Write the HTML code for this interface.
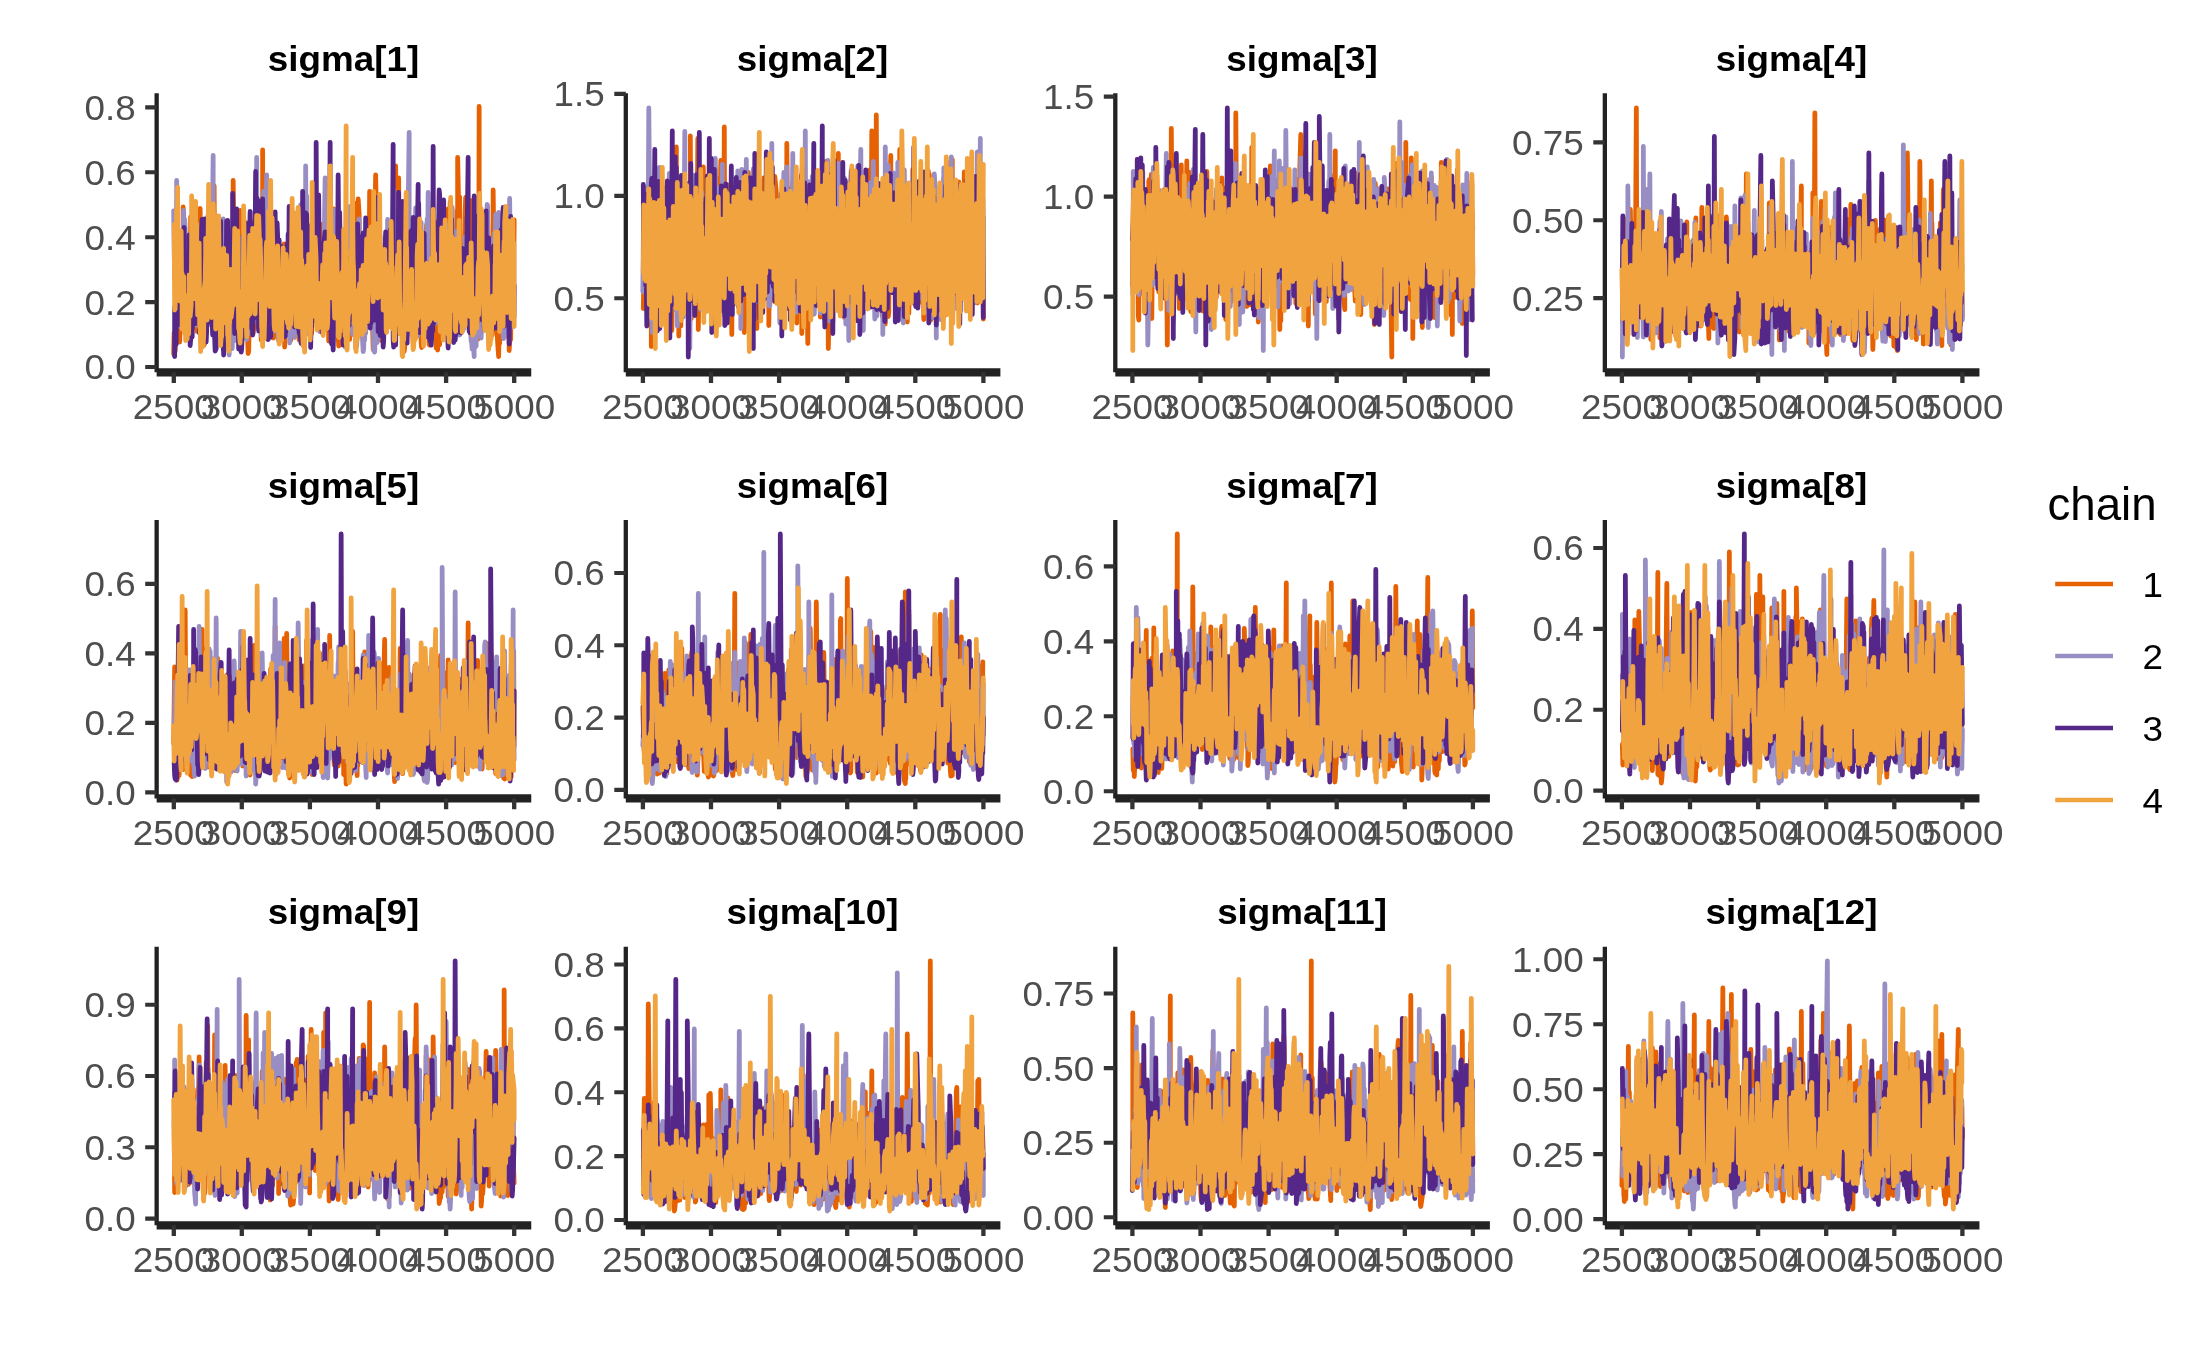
<!DOCTYPE html>
<html><head><meta charset="utf-8"><title>trace</title><style>html,body{margin:0;padding:0;background:#fff}svg{display:block;will-change:transform}</style></head><body>
<svg width="2209" height="1365" viewBox="0 0 2209 1365" font-family="'Liberation Sans',sans-serif">
<rect width="2209" height="1365" fill="#fff"/>
<g transform="translate(156.65,93.0) scale(.5)" fill="none" stroke-width="9.6" stroke-linejoin="round" stroke-linecap="round">
<path d="M34 522l1-43 2 37 1-36 1-23 1 34 0 0 2-47 1-63 1 82 0-18 1 41 1 12 2-64 1-8 1-85 1 61 0-121 2 51 0-104 1 21 2 160 0-27 1-64 2 101 1 70 0-16 2-170 0 26 1 98 1-77 1 126 1-54 2-151 0-23 1 148 1-29 2 101 0-14 2-79 0 40 2-133 0 21 2 154 1 7 0-47 2 60 1-93 1 22 1-86 1 62 1-131 1-20 1 161 1-39 1-75 0 46 2 133 2 10 0 23 1 14 1-45 1 0 1-41 1-110 1 121 0-116 1 84 2-59 0-81 2 110 1-178 0 57 2 143 0 67 2-50 1 5 1 41 0-7 2-99 0-25 1-135 1 199 2-77 0 44 1-71 1 79 2 60 1-34 1-47 1-31 1 111 1-32 1-87 0-9 2 193 1-9 0-53 2-39 0 74 1-55 1-53 2-17 0 99 1-126 1 156 2-32 0-84 1 89 2-103 1-7 1 126 0-9 1-164 1 35 1 146 2-95 1-96 1 59 0-151 2 118 1 156 1 8 1-91 1 115 1-55 1 12 0 34 1-18 2-189 1 37 0 56 2-123 1 139 1-7 1-50 1 3 0 75 1-12 1 96 1-30 1 34 1-32 1-169 1-23 1 179 1-40 1 94 1 1 1 28 1-4 2-85 1-1 1-69 0 26 1-130 1 59 2 57 0 6 1 101 2-17 1-50 0 29 2-79 0 15 1 75 1-21 1-82 2 118 1-121 1 103 1-61 0 11 1-50 1-11 1 154 3-12 0-368 0 345 2-205 0 50 2 165 1-17 1-43 1 12 0-37 1 62 2-121 0 57 2 100 0-30 2-89 1 59 1-86 1 5 1 107 1-23 0-63 1 11 1 117 1-18 2-57 0 25 1-63 2-23 1 69 0 17 1 48 2-27 0 15 2-40 1 41 0 18 2-57 1-7 0 35 1 17 2-130 0-28 1 143 2-166 1 173 0 33 2-98 1-83 0 121 1 1 1-119 1 91 0 35 2-39 1 66 2-62 1 50 0 24 1-45 2-26 1 43 0-20 1-71 1 63 2-95 0-17 1 87 1 17 2-96 0 12 1 73 1-46 2 96 1 8 0 16 1-18 2-28 0 32 1-92 2 94 0-48 1 26 2-184 0 49 2 104 1-128 0 103 1-42 0 111 2-50 1-56 2 62 1 36 0-21 2-48 1-13 1-98 0 112 1 65 1 19 2-69 1-101 1 110 1-87 0 101 1 20 1-51 1 11 1-155 1 91 1 61 2 13 1-126 0 34 1 57 1 52 2-59 1-120 0 142 1-24 1-110 1 83 1 89 1-26 1 57 1-91 1-96 1 97 1-116 1 19 2 133 1 22 1-64 0 56 0 62 2-129 1 78 1-89 1 76 1-3 1-96 1-21 1 66 1-146 1 165 1-136 1 105 2 61 1-129 0 118 2-118 0-22 0 185 2 45 1-56 1 20 2 27 0 7 1-30 1 21 2-55 1-41 0 62 1-53 2 50 0-29 1 56 1-12 1-92 1 3 1 46 1-46 1 89 2-40 1 43 0 17 1-56 1 43 1-89 1-125 1 127 1-51 0 66 2-87 1 125 2-225 1 156 0 37 1 41 2 13 0-117 1-45 1-94 2 31 0 134 1-9 1 85 1-14 0-120 2 107 1-89 1 128 1-100 1-17 1 47 1-75 0 58 2-81 1 102 1-63 0 102 2-11 1-112 1 61 1-46 1-133 1 121 1 89 1-135 1-27 1 213 1 17 1 38 1-25 1-192 1 94 1-157 1-69 2 105 0 4 1 169 1-73 1 87 1 1 2-46 0-59 1 106 1-55 1 92 2-52 1 47 1 9 0-35 1-2 1-116 1 78 0 55 2-69 1-58 1-64 1 130 1-38 1 72 2-107 0 99 1-150 1 96 1-59 0 81 2-93 1 122 1 5 1-83 1 27 0 71 2-108 1-109 1-98 1 188 2-89 0 64 1 33 1-122 1-50 1 202 1-58 1 124 1-80 0-64 2 26 0-84 2 45 1 174 1 4 1 58 1-8 0-21 2 10 0-38 2-6 1 23 1-26 1 27 1-8 1-89 1 29 1 40 1 18 1-125 1 6 1 94 1-132 1 141 1-3 0-83 2 88 1-125 1 78 1-59 1 31 1-122 1 56 1-61 1 71 1 130 1-25 0 51 2-29 1 50 1 9 1-25 1 6 1-61 1 5 1 33 1 14 1-102 1 16 1-114 1-18 1 156 1-52 1 116 1-12 1 32 1 1 1-64 1 17 1-32 1-26 1-55 0 51 2-88 1 44 0 115 2-173 0 82 2 68 1 67 1-20 0 16 2 8 1-65 1-2 1 57 1-1 0-29 2 2 1-112 1 54 1-121 1 140 0-160 2 89 1 72 2 17 0-70 1-85 1 75 1-37 1 54 2-160 0 102 1 57 1-48 1 7 1-132 1 206 1-92 1 95 0-51 2-1 1-64 1 49 1 124 1 4 1-161 1-8 1 116 2-52 0-148 1 23 0-129 2 97 0 112 2-130 1 186 1 37 1-62 1 8 0 44 2 42 1-119 1 28 1-52 1 8 1-91 1-28 1 119 1-69 1 100 0-20 1-97 2 54 1 140 1-16 0-125 1-80 1 84 1-83 1 149 2-109 0 153 1-170 2 119 2-81 0 111 1-83 1 100 1-64 1 97 0-13 2 67 1-12 1-453 0 280 2 140 0-68 1 101 2-15 1-162 1-56 0 123 2 50 1-110 1 35 1-59 1-34 0 68 2-31 1 123 1-154 1 80 1-43 1 98 1 54 1-153 1 24 1 97 1 42 1 27 1-50 1-240 1 80 1 148 0 3 2-108 1 61 0-71 2 67 1 108 0 0 2 32 1 13 1-58 1 32 1-47 1 31 1-29 0-20 1-127 2 62 0-66 2 40 1-70 1 0 1 164 2-18 0 29 1 22 0-37 1 10 2 42 0-37 2 49 0 16 2-30 1 8 1-77 1-61 1 74 0 7 2-166 1 134 1-150" stroke="#e66101"/>
<path d="M34 236l2 134 0-15 1-38 2 45 1-154 0-33 2 140 0 14 1 138 2-12 1-110 1 12 1-63 1 139 1-89 1 44 1 68 0-11 2-210 1 78 1-60 1 19 1 60 0-36 0 103 2-6 1 64 1-12 1-66 1 83 1-100 1 116 1-21 2-73 1 97 0 6 2-118 0 4 1 70 2-15 1-99 0 113 2-104 0 34 1 92 2-105 1 73 1-90 1 107 1 18 1-105 0 80 1-62 2-8 0 129 2-25 1-27 0 20 2-117 0 29 0-63 3 139 0-28 1 43 2-117 0-51 2 158 1-60 1 56 1-119 1 94 0 30 2-108 1-114 1 74 0 110 1-122 2-178 0 315 2-29 0 71 1-70 2 61 0-32 2 27 1-34 0 45 1-2 2-34 0-12 2 41 1 21 1-21 2-45 0 46 1 17 1-70 1-168 1 134 0 48 2-156 1 50 1 96 1-97 1 117 1 38 1-15 0-13 2 45 1 25 1-53 1-21 0 40 1-85 2 90 1 16 1-27 1 8 1-116 1 21 1-98 0 86 1 110 3-32 0 26 0 4 1-62 2 29 1-92 0 83 1-111 1-27 2 124 0 26 2-90 1-83 0 90 1 50 2-80 1 2 1 106 0-7 2-127 1 97 1 72 0-1 2-115 0-1 2 81 0 24 1-64 1 54 2-73 0-12 1 84 2 0 1-73 1 34 0-72 2-19 1 117 0-21 2-82 0-15 2-101 0-109 1 191 2 110 0-101 1 100 1 36 1 1 1-26 1-2 1 47 1-58 2-54 1 49 1-207 0-18 2 147 0 41 2-144 1 13 1-90 0 50 2 95 0-58 1 75 1 21 1-146 2 55 1 171 1-5 1-81 0 12 1 123 1-19 1-114 1 15 2 90 0-35 0 63 2-14 1-115 1 59 1-108 1 130 1 66 1-54 1-90 1 2 1 128 1-3 2-61 0-101 2 111 0-9 1 71 1 0 2-95 0-62 1 112 2-18 0-98 1 27 1 114 1 15 2-40 1-22 1 60 0 19 2-59 0-33 2-98 0-19 2 164 0-8 1 35 3-25 0 32 0-4 2-90 0-8 1-103 1 188 2-108 1-51 1 141 1 1 1-90 0 47 2-188 0 30 2 56 0 7 1-96 1 125 2 129 0 0 1-93 1-4 2-91 0-141 1 163 1-103 1 165 1-20 1 131 1-57 1-137 1 48 2 126 0 3 2-68 0 21 2-121 0 93 1-122 1 18 1 87 1 7 1-191 2 218 0 33 1-2 1-99 2-52 0 138 1-7 1 51 1 8 1-38 1 6 1-114 1 126 2-120 0-34 2 69 0 41 2-181 1-62 1 158 0 29 1 82 1-75 2-101 0-77 2 117 1 53 0 44 1-24 1 74 1-1 2-82 0 9 2-113 0 183 1-165 2 112 1-159 0 40 1 96 1-41 1 129 2-214 0 102 2-75 1 104 0 35 2-121 0 75 1 107 1-49 0-91 2 51 1 92 2-95 0 77 1-92 1 104 1 12 1 28 1-27 2-49 0-21 2-73 1-31 0 54 1 5 1-127 2-12 1 95 0 48 1-83 1 147 2 49 0-10 1-108 1 52 1 60 2-3 1 20 0 16 1-36 1 33 1-28 1-19 2-153 0 51 1-106 1 186 0-78 2-21 1 107 1-62 1 94 1 19 1 20 1-5 1-40 1 22 0-24 2 11 1-93 1 42 1-88 1 5 1 64 2 37 0-91 1 39 1-79 1 55 1 99 1-12 1-79 1 40 2 71 0 2 0 20 2 5 1-29 1-7 1 18 1-12 1 11 1-40 1 31 1-14 2-131 1-59 0 167 1-38 1-97 1 134 1-90 1 48 1-102 1 59 1 74 2-37 1-71 0 10 1 72 1-24 1-68 1-70 1 149 1-103 1 95 1 23 1-115 1 51 1 94 1-75 1 86 1-73 1-115 1-76 1 113 1-1 1 154 2-22 0 45 1-1 1-77 2-30 0 76 1-162 1 167 2-76 0 79 1-6 0-40 2-33 1 88 1-3 1-68 1 28 1-86 1 13 1 104 1-4 1-104 1 87 1-47 1 33 0-106 3-236 0 382 1-71 1 70 1-81 1 95 1 10 1-92 2 26 0-70 1 1 1 22 1 23 1-88 1-76 1 106 2 8 0 96 1 46 1-149 1-1 0-109 3 150 0-88 1 109 1-139 1 89 1 103 1 30 1-62 1 47 1-82 1-104 1 107 1 40 1-135 1 91 1-131 1 76 1-129 1 49 1 99 1-98 1 133 1-51 1 47 1-20 1 110 1-1 1-71 1 30 1-95 1 11 0 111 2 7 1-72 1 66 1-36 1 29 1-125 1 37 1-64 1 24 1 118 1-45 1 44 0-3 2-158 1 27 1 103 1-150 1 142 1-79 1 125 1-44 1-115 1 38 0-58 1 51 2 54 1-1 0-46 2 142 1-141 1-65 1 133 1-3 1-159 1 47 0 100 2 69 1-155 1-9 0 40 2-10 1 96 1-130 1 178 1-14 0-87 2 26 1 86 1 18 1-39 1 32 1-49 1-3 1 26 1 25 1-65 1-15 0 76 2-52 1-132 1 24 1 125 1-59 0 56 2 28 1-60 0-21 2 78 1-58 1 51 2 45 0-14 2 29 0-19 1-12 1 10 2 36 0-28 1-3 1 12 2-2 0-23 0-5 2-99 0-65 2 157 1-214 1 202 0 19 2-112 0 66 2 58 2-75 0 36 1 20 1-103 1 62 0 32 2-76 1-130 0 54 1 156 2-65 1-178 1 3 0 102 2 44 1-72 0 116 2-118 1-4 1 147 1 5 1-128 1 72 0-65 2 12 1-56 1 74 1-55 1-57 1 209 1-19 0-79 1 72 1-94 2-93 1 101 1-84 0 96 2 38 1-87 0 106 2-141 1 103 1 98 0 10 1 12 2-4 1-17 1 13 1-134 0-33 2 111 2-61 0 92 0-15 2-135 0 41 1-138 1 106 2 153 0-24 1-140 2 2 1 68 1-76 1 147" stroke="#998ec3"/>
<path d="M36 428l0 99 0-5 1-31 2 12 1-129 0-14 2 82 1-75 1 67 0-116 1 145 1-121 2 113 1 5 0-51 2 49 1-115 0 87 2-135 1-26 0 104 1-53 1 132 1-108 2 105 1-15 1 41 0 3 2-59 1-135 1 173 0-15 1 63 1-12 1-26 2 21 1-41 0 14 1-109 1 24 1 77 1-64 2 72 0-23 2-154 0 65 2 97 1 1 1-115 0-12 2 161 1-7 1-49 0-50 2-103 1-19 1 70 1-2 1 100 1-1 1-168 0 43 2 138 0 27 1 38 1-22 1-71 1-21 1-140 2 203 1-81 1-132 1 225 0-4 2-77 0 50 2 56 0-13 2-145 1-6 1 171 0-3 1 28 2-5 1-29 0 5 1-33 1 15 2-171 0-1 1 130 1-39 2-131 0 29 2 202 1-22 0 25 1 0 2 28 0 5 2-68 1 33 1-39 0 13 2-207 1 133 1-134 0 104 1 130 1-4 1-105 1-43 2 78 1-5 0-71 2-2 1-71 0-65 1 183 1-58 2 155 1-47 0 40 1-53 2-189 0 172 1 75 1-93 2 126 0-7 1-28 1 10 1 20 1-23 1 34 1-6 2-54 0-56 1-117 1 24 2 167 0 7 1-109 2-45 0 128 2-100 1-75 0-21 1 116 2 74 1-175 1-39 1 150 1-22 1 106 1-49 1 62 0 0 2-66 1 32 0-187 1 137 2-243 0 51 1 128 2-125 0 126 1-24 2 163 0-4 2-58 0 10 1-206 2-2 0 135 2 78 1-143 0-74 1 135 1-45 1 120 1-79 0 93 2 4 1 48 1-121 2 111 1 15 1-38 1 10 1-15 0-4 2 42 0-18 1-114 2-57 0 129 1 0 2-83 1 67 1-53 0 12 1-133 1 126 2-102 1 85 0-87 2 57 1 62 0-21 1-64 1 54 1 78 1-41 1-78 1 23 2 50 0-27 1 70 1-50 1 108 2 6 1-26 0 18 2-122 1-55 0 133 1-73 1-80 1 78 1-133 1 82 2 95 0 54 1-60 2-77 1 68 1-16 1 77 1-154 1 172 1-16 1-167 0 74 1 73 1 10 2-97 0-17 1 143 1-30 1 39 1-8 2 20 1 9 1-34 0 2 2-127 0-145 2 234 0-8 1-107 1 140 2-189 0-27 2 78 0-75 1 96 2-74 1 149 1-41 0 54 1 12 2 54 0 16 1-52 1 10 1-44 1 34 1-196 1 115 0-144 2 34 2 95 1 11 0-273 1 227 2 146 0-10 2-161 0-97 1 118 1 84 2-96 0-8 1 169 1-47 1 55 1-25 1-112 2 123 0-171 2-16 0 112 1-55 1 125 1-30 1-139 1-2 2 103 0-5 1 74 2-362 0 375 1-59 1 83 1 4 1-51 2 63 1-46 0 4 1-111 1 77 1-92 1 5 1 91 1 19 1-150 1 3 1-150 2 224 0-81 1-68 2 143 0 84 2-114 0-44 2 158 1-7 0 45 1-15 2-82 1-115 0 135 2-11 1-87 0 6 1 90 1-6 1-82 2 128 0-48 1-3 2-52 0-24 1 50 1 51 2-135 0-37 0 53 2 15 0 120 2-5 1-186 1 112 1-73 1 128 1-108 1-61 1 114 1-70 1 125 2-2 0-64 1-77 0 110 2-46 1 77 1-41 1-108 1 131 0-72 2 12 0 99 2-200 1 172 1 37 1-36 1 4 1-102 2 67 0-66 1 62 1 82 1-56 1 46 2-13 0-78 1 20 1-75 1-18 1 158 1-23 1-117 1-81 1 125 2-149 0 247 2-84 0 105 1 1 1-46 1 0 1 53 1-27 1-102 1 27 0 91 2-35 1 69 1-13 1-60 1 3 0-94 2-66 1 94 2-87 0 114 1 41 2-88 1 32 0-104 1 97 1-103 1 52 1 141 2-6 0-69 2-289 0 389 1 16 1-21 2-44 0 39 1 22 1-77 2 42 0-71 1 33 1-112 1-120 1 139 2 74 0-90 1 88 1-94 1 81 1-104 1-76 1 199 2-42 0-56 1 35 1 115 1-1 1 18 2 15 0-63 1-3 1-53 1-2 1-58 1 62 1-88 1-18 1 116 1-118 1 61 1 36 1-123 1 20 1 190 2-96 0 70 1 21 1-149 2 122 0-122 2-122 0 197 1-160 1 259 1-12 1-145 1 14 0 74 3 52 0-76 1-77 1 82 1-22 1-88 1 113 1 71 1-8 0-24 3-87 0 107 1 35 0-40 2 9 1 34 2-29 0 34 1-20 1 28 1-15 0-28 2 15 1-369 1 354 1-75 1 16 1 42 0-9 2-81 1-13 0 97 2-8 1-173 0 71 2-134 1 9 1 138 1 27 0-88 1 35 2 77 1-54 0 44 2-168 1 127 1 29 1 78 1-65 0-75 2-25 1 182 2 45 0-71 1 6 0 55 2-27 0-79 1 72 2-122 1-91 1 174 1 3 1 26 1 43 1-45 1-41 1 81 1-12 1-18 2-62 0 74 1-26 1 28 1-13 1-86 1-67 1 135 1-43 1 76 1-10 1-132 1-27 1 150 1-29 1-110 1 9 1 120 0-62 2-57 1 39 1-123 0 31 2-150 0 170 2 178 2-18 0 21 0-1 2-139 0-8 1 65 2-35 1 86 1-21 1-221 0 48 1 113 2-67 1 58 0-33 2 134 2-36 0-119 1-59 1 100 0-54 1 78 1-123 1 148 2-52 1 112 0-26 2-140 0 39 2 139 1 8 1-107 1 8 1-139 0 41 2 158 1-1 1-85 0 56 1-115 1 73 1 97 2 9 1-150 0 0 2 156 1-148 1 120 1-141 1 130 0-72 2 82 1-96 1 120 1-21 1-125 1 41 0-61 3 32 0 106 1-1 0-85 2-81 1 106 1 7 1-107 2-52 0 179 1-60 1 98 0 20 2-145 1 60 1 66 0-37 1-129 1 96 1 74 1-48 2 91 0 8 2-151 1-104 0 213 1-84 2 51 0-86 1 118 2 5 1-79" stroke="#542788"/>
<path d="M35 263l1 171 1-2 1-90 1-39 1-69 1 116 1-161 0 52 1 101 2-47 1 116 0 5 2-121 1-19 1 131 1-46 0 111 1-17 2-88 0 59 2 55 1-76 1 90 0-4 1-16 2 17 0-44 2-20 1 37 0 17 1-118 1 0 1 83 2-22 1-124 0-95 2 138 1-52 0 71 2 48 1-139 2-55 0 66 1 78 1-99 0 32 2 150 0-30 1-107 2-7 1 169 1-16 1 61 0 3 1-21 2 0 0 13 2-3 1-22 0 2 1-93 2-18 1-53 0-31 2 145 1 18 1-30 0-34 2-207 1 154 1 105 1-144 1 81 1-4 0 67 1 7 2-167 1 109 0-169 2 63 1 156 1-89 1 85 0 35 2-94 0-26 1-83 2 1 0 109 1-133 2 181 0-8 2 86 0-2 2-30 0 15 2-125 1 50 1-102 0 26 2 122 1 0 1-55 1 42 1-118 0-3 2 160 0-17 2 48 0-11 1-64 1 19 2-97 0-10 1 96 3-27 0-63 0 19 1 42 1 5 2-154 1 39 1 58 0 49 2-84 0 82 2-75 0-64 2 196 1-9 1 27 1 10 0-24 1 14 2-92 0 17 1 51 2-27 1-178 0-35 2 154 0 46 1 36 2-37 1 62 0-5 2-96 0 5 1 56 1-4 2-158 0 17 1 140 1-54 1-86 2 13 0 63 1-107 2 147 0 13 1-101 1 15 1 97 1-62 2-135 1 12 0 57 1-24 2 123 0-67 0-100 3 95 0-48 1 39 2 138 0-7 2 44 0-18 1-22 2 25 1-40 0-6 1-64 1 15 1-87 1-12 1 95 2-41 1-76 0-39 2 167 0 23 1-190 1-62 1 144 1 23 1-92 2 88 1 85 0 0 1 42 1 9 1-26 1 11 1-58 1 34 2-129 0 32 2 126 0-3 1 41 1-24 1-25 2-2 1 41 0 3 2-159 1-26 1 124 0-76 1 91 1-56 1-61 1 103 1-112 2 28 0 102 1 8 1-46 1 55 2-33 1 23 0-30 1 33 2-163 1-89 1 138 0 27 2-137 0 21 1 119 1-17 1 60 2 45 1-150 0 67 1-117 1 69 1-107 1 35 1 204 1-37 2-141 0-12 1 121 1-65 2 98 0 48 1 26 1-25 2 37 0-16 2-76 1 22 1-102 0 28 1 66 2-4 1-64 0-49 1 148 2-3 0 26 1-27 2-126 0 40 1-202 1 204 1-38 1 6 2 96 0-40 1-118 2 45 1 131 1 9 1-34 0 27 1-76 1-10 1 83 1 5 1-34 1 19 1-56 1 53 0-40 2-67 1 141 1-64 1 54 1-154 1 100 1-121 2 108 0-51 1 114 1-10 2-150 0 72 2-213 0 97 1-121 1 90 2 94 0-31 1 111 1-69 0-56 2 3 1 130 1 32 1-86 1-43 1 102 1-126 1 60 1 16 1 113 2 3 1-20 1 8 1-108 1 1 1 96 0-12 1-95 1 101 2-132 0-55 2 81 0 4 1 128 2-420 0 434 2 14 1-45 0 9 1-31 2-11 1-82 0 16 1 67 1-50 1-72 1 20 2-206 0 103 1 104 1 18 1 107 2-66 1 113 1 9 0-37 2-30 0 44 1-6 2-84 0 49 1-61 1-11 1 85 1-1 1-111 1 70 1 59 1-35 1-103 1 33 2 95 0 2 0-40 2 14 1-98 1-59 0 131 2 34 1-148 2-35 0 101 1-5 1-63 2 48 0-87 1 17 1 100 2 32 1-119 0-101 1 139 1-76 1 143 1-8 1-104 1-29 1 120 1 28 1-114 1 99 2-106 0-86 1 141 1-37 1 66 1 35 2-88 0 15 1 99 1-57 1-39 1-25 1 97 1-69 1 132 1 6 1-40 1 23 1-113 1 119 1-40 1 16 0-70 2 16 1-133 2 161 0-71 1 67 0 58 2-17 1 40 1-1 1-38 1 8 1-60 1 32 1-73 1-39 1 104 1-46 1-84 1 114 1 70 1-16 1-31 1 16 1 73 1 3 1-48 1 16 1-22 1-8 1-89 2-177 0 167 1-57 1 152 1-24 1 36 1-54 0 46 2 3 1-72 1 13 0 31 2-87 1 122 2 38 0-28 1 25 1-37 1 22 1-57 1 53 1-71 1 47 1-142 1-22 1 148 1-70 1-66 1-63 1 115 1-76 0 119 2-132 1 165 1 5 0-26 2 84 1-32 2-48 0 45 1-41 1-79 1-10 0 111 2-46 1 56 1-37 0-47 2-21 0 100 2-55 1-71 1 120 1-79 1 0 1-139 1 90 0 88 2 5 0-95 2 133 1-65 1 55 0-46 2-27 1 70 0 9 2-107 1 43 1 91 2-13 0-43 0-38 1-113 2 85 1 139 1-31 1-94 2 74 0-189 1 97 1-74 1 57 1 102 0-63 2 110 1-11 1 26 1-10 1-136 1-143 1 130 1-52 0 91 2-70 1 108 1 19 1-142 1 24 1 156 1 4 1-40 0-15 2-130 1 117 1-99 1 53 1-108 0 26 2 170 1-21 1 29 2-12 0 31 1-3 1-66 1 31 1-72 1 37 1 60 0-31 1-89 2 69 0-72 1 23 2 67 0-15 1-88 2 20 0 98 2-24 1-88 0-35 2 171 1 13 1-25 1 0 0 19 1 1 1-38 2-30 1 47 1-22 0 34 1-13 2-109 1-11 0 107 1-97 1-146 1 112 2-82 2 13 0 115 0 43 1-87 1 78 2 62 1 19 1-88 0 33 2-93 1 84 0-90 2 26 1 132 1 35 1-39 0 13 2 17 1-24 1 12 0-2 1-22 1-22 1-40 2 54 1-36 1 29 1-111 0 46 1-109 2 57 0 65 2-123 1 114 1 60 1-110 1 135 1-44 0-5 1-103 1 0 2 127 2 14 0-33 0-64 2-73 1 72 0-109 2-32 1 83 0 1 2 128 2-66 0-111 1-6 0 77 2-16 1 70 0-20 2 77 0 7 2-152 1-46 1 122 1-74 1 166" stroke="#f1a340"/>
</g>
<path d="M156.65 93.2V372.3" stroke="#222222" stroke-width="4.3" fill="none"/>
<path d="M156.65 372.3H531.25" stroke="#222222" stroke-width="8.2" fill="none"/>
<path d="M173.8 372.3v10.8M241.8 372.3v10.8M309.9 372.3v10.8M378.0 372.3v10.8M446.1 372.3v10.8M514.2 372.3v10.8" stroke="#333333" stroke-width="4.3" fill="none"/>
<path d="M145.2 367.0h11.5M145.2 302.1h11.5M145.2 237.2h11.5M145.2 172.3h11.5M145.2 107.4h11.5" stroke="#333333" stroke-width="4.1" fill="none"/>
<text transform="translate(135.7,379.4) scale(1.035,1)" text-anchor="end" font-size="35.6" fill="#4d4d4d">0.0</text>
<text transform="translate(135.7,314.5) scale(1.035,1)" text-anchor="end" font-size="35.6" fill="#4d4d4d">0.2</text>
<text transform="translate(135.7,249.6) scale(1.035,1)" text-anchor="end" font-size="35.6" fill="#4d4d4d">0.4</text>
<text transform="translate(135.7,184.7) scale(1.035,1)" text-anchor="end" font-size="35.6" fill="#4d4d4d">0.6</text>
<text transform="translate(135.7,119.8) scale(1.035,1)" text-anchor="end" font-size="35.6" fill="#4d4d4d">0.8</text>
<text transform="translate(173.8,419.1) scale(1.035,1)" text-anchor="middle" font-size="35.6" fill="#4d4d4d">2500</text>
<text transform="translate(241.8,419.1) scale(1.035,1)" text-anchor="middle" font-size="35.6" fill="#4d4d4d">3000</text>
<text transform="translate(309.9,419.1) scale(1.035,1)" text-anchor="middle" font-size="35.6" fill="#4d4d4d">3500</text>
<text transform="translate(378.0,419.1) scale(1.035,1)" text-anchor="middle" font-size="35.6" fill="#4d4d4d">4000</text>
<text transform="translate(446.1,419.1) scale(1.035,1)" text-anchor="middle" font-size="35.6" fill="#4d4d4d">4500</text>
<text transform="translate(514.2,419.1) scale(1.035,1)" text-anchor="middle" font-size="35.6" fill="#4d4d4d">5000</text>
<text transform="translate(343.5,71.0) scale(1.035,1)" text-anchor="middle" font-size="35.6" fill="#000" font-weight="bold">sigma[1]</text>
<g transform="translate(625.8,93.0) scale(.5)" fill="none" stroke-width="9.6" stroke-linejoin="round" stroke-linecap="round">
<path d="M35 431l1-54 1-101 1 97 1 4 0-110 2 90 0-149 2 198 1-111 1-9 0 98 1-204 2 202 0-102 1 158 2-134 0 203 2-177 1 99 1-231 1 161 1-174 1 217 0-17 2-221 1 49 0 210 2-186 1 196 1-163 0 91 2-150 0 191 2-122 0 113 2-147 1 153 1 9 1-149 1 101 1-98 0 100 2-160 0 39 1 178 1 16 1-188 2 156 1-136 0-41 1 153 1-10 2-127 0 14 2 145 0-195 2 191 0 78 2-131 0-83 2 127 0-160 1 203 1-216 1 122 2-229 1 190 1-121 0 107 1-85 2 219 0 68 2-225 1-46 1 251 1-174 0 103 1-25 1-150 2-30 1 188 0-50 0 96 4-184 0 160 1-13 1-89 0-82 1 118 2-74 1 124 1-113 0 98 2 39 0-322 2 365 0-280 1 192 2-168 0 54 2 72 0-85 1 171 2-205 0 214 1-235 2 225 1 5 0-191 1-129 1 382 1-79 1-128 1-32 2 166 1-33 1-116 0 105 2-110 1-98 1 259 0-39 1-114 2-39 1 213 1-55 1-119 0 133 1-141 2 126 1-104 0-44 1 183 2-136 0 143 1-117 0 117 2-81 2-164 0 4 2 146 1-98 0 177 2-248 1 197 1-4 0-153 2 223 1-219 0-22 1 220 2-20 1-122 1 121 0-172 1-64 2 240 1-126 1 186 0-13 2-157 1-197 1 344 0 12 2-153 0 139 1-80 2 92 1-152 0 3 1 148 1-95 1-142 1 175 1 58 1-63 1-107 1 236 1-183 2-89 0 169 1-84 1 117 1-151 1 119 1-127 1 130 1-7 1-108 1-43 1 101 1-85 1 197 1-178 2 77 1 58 1-106 1-98 1 90 0 86 1-136 1 54 1 193 2-117 1-102 1 143 0-157 1 98 2-113 1-72 1 246 0-170 2 140 0-123 1 176 1-194 1 155 1 36 1-183 1 88 2-106 1-35 1 173 1-37 0-149 1 217 1-131 1 209 2-204 1 98 0-53 1 131 1-131 1 59 2-89 1 145 1-200 1 33 0 130 2-60 1-160 0 71 1 147 1-176 1 148 1-188 1 233 1-84 1-176 1 153 1-122 1 67 0 222 3-193 0 111 1-70 2 45 0-43 1 41 1-115 1 133 2-104 0 147 1-46 0-204 3 31 1 194 1-157 0 148 2-8 1-158 0 22 1 124 2 6 1-124 1 189 1-232 1 1 1 157 0-25 1-131 1 137 1-90 2 153 0-147 2 107 1-236 0-27 2 209 0-43 1 143 2-27 0-174 2-17 0 187 2 20 1-151 0 110 1-157 1-22 1 236 2-72 0-83 1 166 2-192 0 3 2 223 0-27 1-223 1 40 1 116 1-111 1 157 1-217 1 139 2-169 1 272 0 44 1-363 1 276 1-108 2-73 1 150 1 12 0-93 2 37 0-79 1 91 1 107 1 63 2-223 1 7 0 136 1-36 1-189 1 186 1-90 1 152 1-136 1-113 2 221 0-191 1 129 1-76 1 123 1-161 1 151 2-210 0 236 2-52 0-58 1 4 1-99 2 90 0 146 1-85 1-100 2 0 0 123 2-103 0 129 1 38 1-155 1 157 1-284 1-31 1 331 1-209 1 144 1-124 1 232 1-47 1-161 1-98 2 219 1 21 0-192 2-104 0 264 1 44 1-269 1 109 1-97 2 10 0 121 1 92 2-165 0-38 0 162 2-65 1-196 1 245 2-214 0 9 1 170 2 14 0-80 2 102 1-119 1 70 0-86 1 54 1 163 1-7 1-253 1 7 1 127 1 24 1-101 1 184 1-130 1-60 1 207 1-27 1-118 1-60 2 169 0 56 1-149 1 23 1-179 2 82 1 151 1-148 0 170 1-159 1 105 2 46 1-152 0 11 1 139 1-11 0-133 2 21 1 79 1 33 1-157 1 207 1-179 1 73 1-166 2 211 0-99 1-33 1 93 1-74 0 143 2-29 1-165 2 168 0-112 1 50 1-160 1-13 1 216 1-134 0 139 2-299 1 296 1-107 1 83 1-118 1 128 1-57 1 79 1-21 1-315 1 233 1 82 1 11 1-114 2 133 0-154 1 56 1 114 1 26 1-200 2-48 0 263 1-221 0 158 2 60 1-209 1 2 1 226 1-149 1 83 1-2 1-158 1 78 1 133 1-9 1-141 1 32 1-174 1-30 0 216 2-180 1 118 1-42 1 155 1-72 1-122 1 170 1-103 1-83 1 217 1 31 1-159 1-61 1 147 2 39 0-140 1-143 1 173 1 90 1-245 0 114 2 153 1 34 1-186 1 194 0-212 1 5 1 135 2-157 1 113 1-27 1 161 0-57 2-152 1 54 0 138 2-89 1-145 1 58 1 96 1-122 1 99 1 0 0-185 1 171 2 66 1-211 1 220 1 5 0-166 1 110 2-111 1 89 0-39 2-42 1 174 1-167 0 147 3-203 0 133 1-110 1 155 1-155 1 169 1 65 1-202 2 176 0-79 1 13 1-154 1 23 1 182 1-61 1-195 1 222 1-215 1 75 1 171 1 45 1-239 2 17 0 218 1-264 1 211 1-3 1-114 1-17 1 159 1-73 1-113 1 203 1-239 1 182 1-160 1 154 1-184 0 136 1-140 2 32 0 216 2-82 1-136 0 138 2-35 1-151 1 205 1-128 0 198 1-80 1-134 2 184 0-186 2 160 1-114 1-53 1 142 1-225 1 236 1 54 0-203 3-93 0 232 0 8 2-144 1 77 1-81 1-43 1 180 0-74 1 126 2-54 1-118 1-28 0 90 2 33 0-159 2 60 1 126 2-8 0-85 0 82 1-160 2 81 1 130 0-81 2-165 1 45 1 170 1 7 1-85 1-74 1 111 1-186 1 241 1 39 1-127 1-51 0 116 2-108 0 130 2-156 1 118 0-81 2 154 2-176 0 135 1 38 1-199 0 143 1-135 2-1 1 194 0-88 1-77 1 17 1 101 2-146 1 132 0-116 2 147 1-11 0-84 2 16 1 141" stroke="#e66101"/>
<path d="M34 397l2-184 0-24 2 208 1-160 0 121 1-157 1 206 2-215 1 245 0-34 2-373 2 247 0 166 0-69 1-145 2 226 1-167 1 191 1-185 1-65 0 105 2-49 1 79 2 10 0-81 1 157 0-189 2 182 1-161 0 106 1-121 1 73 1-191 2 103 0 144 1-37 1-196 2 74 1 179 0-26 1-110 2 69 1-102 1-21 1 152 1-134 1 112 0 11 1-108 2 16 1 146 0-119 1-141 2 5 1 235 1-187 1 106 0 4 2 69 1-68 1 95 1-12 1-168 0-45 2 232 0 7 1-135 1 36 1 131 1-103 2-158 0 88 2 137 0 14 2-233 0 149 0 89 2-32 1-157 2 188 1-128 0 38 2-281 0 332 2-168 0-20 2 126 0 80 2-198 0 172 2-178 1 168 0 82 1 38 2-216 0-80 2 171 2-39 0-93 1-55 1 150 0-184 0 121 4-83 0 115 1 58 1-191 2 183 0-133 1 53 1-80 0-2 2 199 1-50 1 78 0-14 2-135 0-85 1 125 1 100 1-120 2 75 1-79 1-88 1 116 1-43 1 121 0-5 1-186 1-24 1 182 2-106 0 124 1-176 2 158 0 44 2-140 0-52 1 155 1-216 2 218 0 15 1-144 2-122 1 283 0-25 1-106 1-41 2 133 0 24 1-209 1 18 1 159 2-36 1-104 1-25 1 118 1-177 1 239 1-118 0 112 2-137 0 206 1-56 2-175 0 16 1 153 1-19 2-157 0 46 1 106 1-54 1-70 2-20 0 161 2-59 1-112 1 158 1-116 0 51 1 126 1-36 2-131 0 5 1 132 1-32 2-131 1 74 1-124 0-25 2 216 0 56 2-177 1 77 1-94 0 237 2-318 0 34 2 154 1-96 0 95 2 5 0-86 2 30 0 79 1-20 1-215 1 211 1-149 2-3 1 113 1-48 0 83 1-26 2 154 1-229 0 145 2-114 0 132 1-41 1-209 2 97 1 94 1-92 0 64 1-115 2 182 1 35 1-262 1 109 1 103 1-10 1-76 0 96 1-160 2 84 0 97 1-36 1-83 2 133 1-114 0-89 1 203 2-24 0-107 2-33 1 158 0-61 2-80 1 0 1 125 0-89 1 125 1 0 1-147 1 126 2-304 0 227 2-140 0 136 1 74 1-102 2 105 0-56 0-113 3-5 0 125 1-63 1 103 2-138 1 115 0 22 1-101 1 170 1-132 1 53 1-103 2-100 0 180 1 17 2-216 0 257 1-245 1 192 1-170 1 187 2-232 0 195 1-136 2 3 0 136 1-100 1 144 1-84 1 81 1-115 1 112 1-40 2-223 0 250 2-140 1 118 0-99 1 139 1-98 1 148 1-197 1 172 1-123 1 11 2 61 1-4 0-103 1-44 1 136 2-144 1 176 0-31 1-128 2 18 1 127 0-91 1 117 2-316 1 243 1-55 0 98 1 7 2-192 0 45 1 114 1-73 0 113 2-4 1-68 2 116 1-145 0 66 1-174 1 163 1-103 1 66 1 149 1-52 1-152 1 88 0-117 2 148 1-159 1 215 1-155 1 133 1-163 1 118 1 94 1-14 1-161 2 110 0-124 2 149 0-147 1 126 1-193 1 30 1 228 1-92 1-123 1 113 2-207 1 219 0-73 1-49 1 192 1-65 0 97 2-235 1 147 1-86 1 89 1 33 2-149 0 151 1-66 1 23 1-184 1 76 1 109 2-177 0 131 2-177 0 220 1 54 2-214 0 54 1 122 1 37 1-179 1-44 1 220 1-207 1 162 1 62 1-258 1 12 1 213 1 67 1-246 1 144 1-140 1-37 2 312 0-25 1-166 1-11 1 136 1 13 1-205 1-67 1 226 1-41 1 85 1-126 1 136 2-226 0 91 1-115 1 183 2-202 1 154 0-189 1 175 1 53 1-139 1 173 1-234 1-61 1 220 1-33 1 113 1-112 1 174 1-93 1-195 1 211 1-200 1 172 1-184 1 24 1 202 1-52 0-99 3 75 0-147 1 89 1-98 1 176 1-159 1-5 1 172 1-63 1-164 1 89 1 162 1 64 1-109 1-120 1 147 1 76 1-190 1-32 1 117 1 0 1-104 1 29 1 90 1 12 1-90 1 147 1-129 1 7 0 180 2-310 1 219 1 8 1-292 1 131 1 171 1-97 1-96 1 137 1-209 1 106 1 131 1-5 1-200 2 210 0-96 1 61 1-118 1 103 1-177 1 226 1-145 1-43 1 195 1 54 1-62 1 38 1-205 1 88 0-167 1 85 2 128 1-84 1 162 1-215 1 169 1-160 1 141 1-185 1 280 2-105 0-137 0-64 2 184 1-148 1 147 2-132 0 149 0-136 2 160 1-183 1 163 1-88 1 105 1-129 1 112 1-128 1 103 1-161 1 212 2-212 0 186 1 31 1-109 2-97 0 207 1-128 1 146 1 21 1-120 1 73 1-206 1 51 1 113 1 70 1-137 1 46 0-89 2-20 1 165 1-84 1 111 1 12 1-125 1 142 0-162 2 107 1-160 1-20 0 173 1 9 2-135 1 175 1-196 1 59 1 66 1-136 1 238 1-77 0-139 3 133 0-204 2 34 0 151 1-53 1 196 0-39 2-162 0-4 1 108 2-138 0 182 2-120 0 105 2 31 0-105 2-154 1 192 1-91 1-50 1 129 0-224 2 104 1 84 2-52 0 109 0 9 2-164 1-20 0 189 2-240 1 264 0-166 2 118 1-37 1-220 1 311 0-139 2 19 1 115 1-44 1-145 1-11 1 104 1-132 0 181 2-158 1 202 1-95 1 58 1-186 1 153 1-72 1 124 1 22 1-73 1 37 1-168 1 171 1-101 1-101 1 109 1 56 1-114 1 2 1 152 0-20 2-172 1 25 1 125 1-121 0 119 2-159 1 92 0-85 1 195 2-63 0 43 1-88 2-49 1 127 1-149 1-6 1 200 1-11 1-120 1 58 1-228 1 141 1 74 0-19 1-78 2 164 1-309 0 137 2 160 1 28 1-122 1 99 1-145" stroke="#998ec3"/>
<path d="M35 183l1 173 2-36 0-95 1-23 1 183 0-136 2 217 1-99 1-89 0-71 2 136 1-133 1 219 1-234 1 181 0-39 1-153 1-13 2 186 0 45 1-130 1 49 2-208 0 101 2 189 1-138 1 95 0-23 1 139 2-299 0 240 2-65 1 119 0-50 1-185 1 196 2-240 1 153 1-156 0 199 2-145 0 127 1-161 3-5 0 161 0-30 1-117 2-42 0 265 1-32 2-123 1 0 1 204 1-77 1-182 1 193 1-191 1-157 0 220 1 54 2-108 1 109 1-151 1-72 1 178 0 31 1-188 2 214 1-133 1 180 1-125 1-105 1 230 1-18 0-90 1 45 1-182 1 95 2 97 0-64 1 95 1-82 2-129 1 49 1 141 1 16 1-66 1 80 1-71 0-72 1 274 2-288 1 150 0-211 2 152 0-190 2 274 0-20 1-153 1 89 1-63 1 11 1 112 1 54 2-169 1 99 1-212 1 52 1 134 1-88 1 115 1-297 1 279 1-101 1 78 1-115 1 135 0 36 1-93 1 83 1-133 2 14 1 167 0-32 2-186 0 55 1 104 2-204 0 171 1-77 1 149 1-66 1-252 1 167 1 109 2-236 1 316 0 32 2-227 1 135 1-130 1 193 0-297 1 202 1-70 1-10 0 139 3-149 1 136 1-27 0-159 2 25 1 190 0-57 2-135 1-52 0 163 1 4 1-117 2 120 0 81 1-71 1-143 1 242 2-283 1 204 0-135 1-42 1 251 1-42 2-159 0-53 1 169 1-81 1 147 2-295 1 153 1 144 1-179 0-26 1 184 2-62 1-131 0-39 1 200 2 14 0-235 2 155 0-122 2 224 0-91 2-111 0 138 2-183 1 159 0 78 2-160 1-52 1 182 1-74 1-65 0 156 1-177 1-67 1 123 1-109 1 208 1-133 1 109 1-152 2 180 0-25 1-126 1 80 0-144 2 0 2 145 0-48 2 171 1 73 0-71 1 15 2-190 0-144 1 287 1-194 1 199 1-253 1 254 2-281 1 219 1-104 1 192 0 11 2-252 0 24 1 181 2-113 1 148 0-35 1-136 2 144 0-142 2 117 1-122 0 94 1-241 2 280 1-129 0-26 1 61 1-88 1 136 2-119 0 83 1 62 1-137 2-93 0 180 1-98 1 157 1-158 1 152 1-98 0 133 2-23 1-146 1 118 1-117 1 6 2 163 0-110 1 77 1-10 1-90 2-82 1 199 0 85 1-172 2 93 1-177 0-38 1 187 1 22 1-98 2-26 0 63 1-96 1 187 1-70 1-93 2-23 1 155 1-38 0 92 2-158 0 124 1-8 1-204 1 15 1 106 2-95 1 92 0 71 1-113 2 90 1-186 0 205 2-169 0 18 1 171 1-74 1-103 2 77 0 123 1-55 1-145 2-86 0 225 1-49 1 85 1-59 1-73 1-99 1 190 1-141 1 97 1-115 1 151 1-70 1 129 1-75 1-75 1-87 1 117 1-43 1 131 1 6 1-152 1 134 2-276 0 137 1 133 1-168 2 163 0-122 1 181 2-86 0-140 1 88 1 106 1-147 1 124 2-152 0 171 1-233 1 230 2-320 0 266 1 18 1-142 1 60 2 200 0-1 1-275 1 34 1 154 1-125 2 143 0 6 1-159 1 51 1 89 1-221 0 216 3-107 0 119 1 45 1-158 1 202 2-248 0 88 1-186 1 169 1 105 1-133 1 145 1-175 1 161 2-171 0 137 1-101 1 140 1 26 1-114 1-55 1 58 1 20 2-140 0-68 1 264 2-172 0 215 2-271 0 189 1-170 0 179 3-136 0 142 1 41 1-210 1 141 1-137 1 147 1-148 2-58 1 171 0-99 1 162 1-228 1 191 1-136 2 178 0-19 1-84 2-69 0 120 1-76 2 190 0-78 1-121 1 121 0-233 2 182 0 156 2-150 1-89 2 78 0-48 1-61 0 227 2-191 1 97 2-136 0 128 1 6 0-190 2 261 1-112 1-65 0 136 3-140 0 147 1-28 1 72 1 3 1-121 1-15 1 67 1-144 1 212 1-206 1 195 2-179 0 127 1 50 1-59 1 78 1-180 1-28 0 161 2-205 0 226 2-129 0 133 2-160 1 184 2-218 0 218 1-14 1-212 1 13 1 173 1 62 1-114 1 25 1-134 2 57 0 140 1-71 1-172 1 6 1 165 2-198 0 157 1-89 0 166 2 4 1-166 1 134 1-167 1 8 1 132 1-109 1 227 1-5 1-205 1-50 0 153 2-99 1 182 0 21 2-218 2 104 0-81 1 123 0-105 3 114 0-139 1 110 1-128 1 126 1 86 0-2 2-208 1 4 1 127 1 29 0-169 2-12 1 134 1-103 1 106 2-156 0 182 1-85 1 112 1-171 1 139 1-98 1 144 1-312 1 275 1-132 1 157 1 19 1-165 0-61 2 218 1 11 1-252 1 21 0 189 2-42 1-157 2-8 0 140 1-134 1 150 1 41 1-106 2 53 0-167 1 38 0 151 1 9 1-128 2-31 1 187 1-149 1 187 1-94 0 132 2-176 1 151 1-5 1-137 1-31 1 130 1 17 1-155 1-47 0 156 2-5 0-125 2 205 1-131 0 157 2-206 1-3 1 122 1-82 1 139 1-233 1 186 1-163 1 192 1-53 1-126 0 114 2-130 1 26 1 147 1-81 1 92 1-220 1 184 2-101 0 77 1 13 0-165 2 20 1 117 1-78 0 171 2-226 1 162 1-115 1 189 1-16 1-115 2-79 0 77 2-91 0 162 1-170 1 199 1-39 0-142 1-7 2 122 1-149 1 172 1 105 1-196 1 149 1-162 1 31 0 121 3-187 0 122 1 43 1-188 1 166 1-134 1 93 1-99 0 135 1-182 2 244 1-213 1-62 0 235 3-112 0 89 1 26 1-101 1-17 1 180 1-189 0 120 1-157 1 194 2-191 1 130 1-183 1 214 0 24 1-185 2 122 1-139 0 27 2 137 0-35 1-96 2 172 1-200 0-34 2 174 1-136 1 237" stroke="#542788"/>
<path d="M35 359l1-123 0-12 1 148 2-124 1 128 0-139 1 117 1-93 1 92 3-161 0 149 1 82 1-162 0-49 1 181 1-146 2 203 0-29 2-189 1 127 1-140 0 46 1 73 1-35 1 208 2-290 0 123 2 28 1-98 0-28 2 179 0-97 1-113 2 37 1 100 0-115 1 228 1-124 1-192 2 273 1-180 0-12 2 199 1-119 1 110 1 75 1-236 0 3 2 174 0-59 1-117 1 90 2-96 0 163 2-156 1-5 1 132 1-24 0-104 1 84 1-117 1 14 2 162 1-16 0-112 2 156 1-203 0 135 1-184 2 229 1-179 1-34 1 211 1-97 1 130 0-104 1 120 2-106 0-73 1-82 1 248 2-70 1-210 0 52 1 164 2 16 1-209 0 96 2 112 1-105 0 42 2 59 0-105 1 129 1-206 2 15 1 113 1-57 1 84 0-147 2 143 0-119 1 148 2 34 1-231 1 93 1 77 1 47 1-130 1 82 1-114 1-38 1 120 1 103 1-183 0-94 1 237 1-123 1 146 2-83 1 129 0-84 1 53 1-118 2 120 1-140 1 147 0-65 2-200 0 36 1 156 1 36 2-235 0 86 2 147 1-82 0 146 2-243 1 172 1-26 1-133 1 161 0-91 2-33 0 122 1-97 1 192 2-84 1-122 0 116 1-188 2 256 1-183 1 105 1-116 0-18 1 138 1 4 1-102 1 105 1-126 2 139 1-102 1-113 1 161 0 8 1-96 1 76 1-143 1 160 2-111 0-2 1 63 1-85 1 166 1-10 1-102 1 25 1 70 2-30 1-137 1 15 1 174 0-15 1-79 1-1 2 119 0-116 2-108 0 96 2 146 0-37 1-201 2 20 0 72 2-67 0 130 2 25 1-113 0 84 0-110 2-73 1 146 2-23 1-126 1 18 0 211 2-89 1-89 0 32 1 117 2 151 1-188 0-110 1 172 2-113 0 87 1-80 1 77 1-25 0-117 2 195 2-223 1 114 0-78 2 11 1 73 2-57 0 93 1 30 1-191 1-108 0 298 1-173 2 252 0-73 2-183 0 30 1 100 2 97 1-138 1-72 1 150 0 39 1-202 1 157 2-228 1 70 0 129 1 13 1-195 1 190 2-219 0 119 1 108 1-30 1-179 1 206 1-158 2 63 1 83 0-19 0 59 3-155 1 137 1 45 0-80 1 101 1-122 1-84 2 164 0 35 2-78 1-109 1 222 0-49 2-223 1 140 1 77 0 50 1-194 2-8 1 175 0 53 1-153 1 82 0-197 2 71 1 97 1-146 1 74 2 125 1-103 1-123 0 231 1-228 1 250 1 23 1-168 1 153 1-105 1-22 1-115 1 77 1-61 2-84 0 219 1-34 1-54 1-5 2 108 0 38 2-55 1-188 0 177 1-19 1-91 1 39 1-170 1 216 0 75 2 64 2-223 0 108 1-128 1 100 1 106 2-124 0 62 1-3 1-106 1-17 1 114 1-48 1-98 1 243 1-136 1 30 1-138 1 180 1-99 2 127 0-134 1-72 2 95 0-104 2 107 1-64 0 119 1-210 1 227 1-139 1 169 1 21 1-178 1 105 1-173 1 12 1 209 1-222 1 213 1 38 1-148 1 54 1-180 1 37 0 133 2-192 2 264 0 9 1-202 1 17 1 168 1-48 1-182 1 281 1-167 1 61 1-184 2-57 1 246 0 7 1-65 2 100 0-130 2 82 0-110 1 83 1 121 2-197 0 118 1 63 0-131 3-9 0 167 1-85 1-173 1 17 0 203 2-203 1 175 1 37 1-119 1 93 2-151 0-4 1 103 1-48 1 135 1-228 2 202 0-16 1-158 1-44 1 194 1-6 2-163 0-61 1 183 1 7 1 154 1-133 0-123 3-78 0 233 2-180 0 123 1-46 1 133 1-133 0 94 2-10 1-137 1 214 1-87 1 15 1-135 1 80 1-73 1-79 1 129 1 82 1-113 1 86 1-106 1-63 1 211 1-87 1-75 1 200 0-146 3-73 0 196 2-13 0-173 1 108 1-108 1-17 1 110 2 108 0-177 2-55 0 167 1-41 1 89 1-14 1-221 1 97 1 157 1-30 1-202 1 163 0-57 2-2 1-84 1 205 1-155 1 107 1-168 1-32 1 149 1-33 1 146 1-160 1 76 1 32 1-49 1 1 0-169 2 209 1-111 1-21 1 93 1-149 1 170 1-127 0 167 2-30 1-143 1 100 0-80 2 138 1-146 1 17 1 133 1-15 1-148 1 153 1-177 1-23 1 205 1-169 1 214 1-56 0-83 3 38 0-121 0 100 1-226 2 114 1 164 1 59 1-131 0-11 1 95 2-62 0 89 2-207 1 247 0 16 2-165 1-104 1 170 1-84 1 135 1-106 1 125 1-112 1 80 1 0 1-125 1 67 1-239 1 119 1 91 1 14 0 80 2-132 1 102 1-148 1 150 1 22 1-180 1 3 0 120 2-195 1 225 1 34 1-182 1 182 0-120 2 164 1-128 1 104 1-145 0 58 2-123 1 79 1-177 1 165 1 85 1 23 1-111 1-16 0 173 2-70 1-60 1-124 1 217 1-58 1-139 1 94 1 157 1-47 0-174 2 70 0 83 2-69 1 78 0-76 2 94 1-36 1-176 0 115 1-126 1 85 2 117 1 64 1-167 1-4 1 196 1-36 1-182 1-40 1 123 1-107 1 81 0-182 2 315 1-49 1-59 1-154 1 168 2-104 0 130 1-223 1 349 1-190 1 136 1 14 1-113 1 51 1-155 2 23 0 105 0 20 1-218 3 64 0 117 0-102 2 138 1 76 1-63 1 34 1-140 2-115 0 160 0-63 1 132 2-214 1 212 0-10 2-216 1 51 1 117 1-104 1 147 0 41 2-305 1 70 1 181 1-25 0-132 2 53 1 175 1-129 1-163 1-43 1 243 1 3 1-76 1 110 1-125 0-32 1 105 2 34 1-140 1-19 0 196 2-67 1-69 0 70 2-226 0 68 2 225 0-5 2-153 1 75 1-84 1 159 1-267" stroke="#f1a340"/>
</g>
<path d="M625.8 93.2V372.3" stroke="#222222" stroke-width="4.3" fill="none"/>
<path d="M625.8 372.3H1000.4" stroke="#222222" stroke-width="8.2" fill="none"/>
<path d="M642.9 372.3v10.8M711.0 372.3v10.8M779.1 372.3v10.8M847.2 372.3v10.8M915.3 372.3v10.8M983.4 372.3v10.8" stroke="#333333" stroke-width="4.3" fill="none"/>
<path d="M614.3 298.2h11.5M614.3 195.9h11.5M614.3 93.9h11.5" stroke="#333333" stroke-width="4.1" fill="none"/>
<text transform="translate(604.8,310.6) scale(1.035,1)" text-anchor="end" font-size="35.6" fill="#4d4d4d">0.5</text>
<text transform="translate(604.8,208.3) scale(1.035,1)" text-anchor="end" font-size="35.6" fill="#4d4d4d">1.0</text>
<text transform="translate(604.8,106.3) scale(1.035,1)" text-anchor="end" font-size="35.6" fill="#4d4d4d">1.5</text>
<text transform="translate(642.9,419.1) scale(1.035,1)" text-anchor="middle" font-size="35.6" fill="#4d4d4d">2500</text>
<text transform="translate(711.0,419.1) scale(1.035,1)" text-anchor="middle" font-size="35.6" fill="#4d4d4d">3000</text>
<text transform="translate(779.1,419.1) scale(1.035,1)" text-anchor="middle" font-size="35.6" fill="#4d4d4d">3500</text>
<text transform="translate(847.2,419.1) scale(1.035,1)" text-anchor="middle" font-size="35.6" fill="#4d4d4d">4000</text>
<text transform="translate(915.3,419.1) scale(1.035,1)" text-anchor="middle" font-size="35.6" fill="#4d4d4d">4500</text>
<text transform="translate(983.4,419.1) scale(1.035,1)" text-anchor="middle" font-size="35.6" fill="#4d4d4d">5000</text>
<text transform="translate(812.6,71.0) scale(1.035,1)" text-anchor="middle" font-size="35.6" fill="#000" font-weight="bold">sigma[2]</text>
<g transform="translate(1115.3,93.0) scale(.5)" fill="none" stroke-width="9.6" stroke-linejoin="round" stroke-linecap="round">
<path d="M34 385l2-134 1 61 1-67 1 131 1-129 1 96 0-103 2 114 1-128 0-93 2 312 1 9 1-232 0 57 1 124 2-37 0-94 1-16 1 117 2-164 1 124 1-93 1 128 1-97 0 96 2 31 0-104 1 18 1-47 2-55 1 90 0 46 1-170 1-3 1 156 1 10 2-176 0 103 1 185 2-226 1 123 0-49 1 77 2-8 1-75 0 6 1-41 1 62 1-155 2 154 1-99 1 29 0 149 2-166 1 105 1-34 0 86 2-8 1-117 1 35 1-66 0 76 1-115 2 73 1 99 0-31 1-92 2 44 0 98 1 119 2-315 0 77 1 173 2-100 1-172 1 231 1-327 1 128 1 129 1-96 1 160 0 12 1-118 2 19 1-90 1 158 1-131 0 81 1-95 2-15 1 107 1-101 1 212 0-29 1-93 1 37 2-202 1 261 1-92 0 39 1-145 2 30 1 174 0-40 2-199 1 54 0 114 2-204 1 245 0-32 1-149 2-42 1 191 1-58 1 135 1 11 1-211 0 9 2 98 1 41 1-214 1 43 1 96 0 8 1-70 2-37 1 132 1-102 1 85 0-64 1 80 1-134 1 169 2-39 1-92 0-19 1 130 2-138 0 172 1-85 1 141 1-110 0-90 3 115 1-100 0 14 2 74 1-40 0-142 2 104 1 86 0-111 2 96 1-103 1 130 1-39 0-46 2-14 1 101 1 14 1-82 0-73 1 119 2-125 0 82 1-43 1 122 1 34 1-181 1 32 1 109 1 19 1-88 2 87 1-128 0 88 2-121 1 116 0-172 1 71 1 103 1 3 1-157 1 177 1-140 1 34 1 192 2-59 1-86 0 65 2-143 0 119 2-72 0 128 2-164 0 63 2 113 0-97 1-103 2 164 0-92 1 28 1-169 1 85 2 108 1-40 0-261 2 316 1-105 0 8 2 152 1-50 0-128 2-38 1 130 1-3 1-108 0 41 2 163 0-16 1-103 2-60 1 112 1 21 1-58 0 61 2-97 0 26 1 123 1-44 2-137 0 26 1 152 2-140 1 96 0-84 1 127 1-103 1-211 1 228 1-97 1 25 1 136 1-169 1 119 2-158 1 113 1-76 0 74 1 33 1-67 1 188 2-151 0-84 1 86 2 65 1-77 0 47 2-77 1 85 0-84 1 22 2 122 0-27 0-112 3 113 1-138 1 96 0-116 2 82 1-124 0 24 1 125 1-153 2 112 0-148 2 214 1-78 0 80 1-48 2-96 0 37 2 88 1 52 0-145 1 3 1 102 1 7 1-142 1-46 1 127 2 14 0-74 1 26 1 206 2-166 0 149 1-112 1-103 1 81 1-115 1 122 1-68 2-81 0 137 1 23 1-88 2 113 0-130 1 28 1 81 1-80 1 92 1-61 1-75 1-17 2 96 0 50 1-104 1 92 1-87 1-17 2 174 0-113 1 93 1-132 1 166 2-192 0 167 1-33 1-104 1-86 1 130 2 53 0-207 2-66 1 223 0 56 1-110 2 13 0-71 1-73 1 200 1-43 1 65 1-146 2 113 0-28 0 114 3-38 0-196 1 304 1-176 1-43 1 139 1 10 0-159 2-32 1 149 2-55 0 71 1 10 1-117 1 43 1 62 1 74 1-178 2 74 1-160 0 69 1 123 1-23 1-123 1 39 2 132 1-27 0-63 2 13 0-72 1 142 1-116 2-61 0 105 1-12 0-81 2-2 2 87 0 109 1-173 1 128 1-117 2-24 1 104 0 46 1-108 1 96 0-88 2 19 1-134 2 40 0 118 1-26 1 93 1-51 2-224 0 84 1 194 1-19 1-84 1-24 1 72 2 41 0-108 2 89 0-77 1-10 1 84 2 31 0-111 1-102 0 180 2-91 1 147 2 21 0-185 1 85 1-99 2 28 1 105 0-16 1-137 1 47 1 84 2-7 0-61 1 116 1-136 1-58 0 137 3-111 0 122 2-62 0 86 1-116 0 125 2 36 1-195 1-60 1 176 1-85 1 90 1-80 1 87 1 51 1-194 1 107 1 130 1-206 1 124 2 59 0-104 1 14 1-128 1 181 1-200 1 2 1 141 1-107 1 117 1 27 0-109 2 15 1 92 1-34 1-85 1 127 0-178 2 121 1 118 1-75 1-84 1 72 1-132 1 252 1-219 1-63 1 165 1 6 1-137 1-24 1 210 1-133 0 34 2 48 1-127 1 117 0-122 2 5 1 162 1-145 1 139 2-20 0-69 1 88 1-85 1 67 0-112 2-11 1 72 1-31 0 28 1-114 2 125 1-75 1 153 1-146 1 140 2 139 0-304 1-43 1 115 1 89 0-138 2 55 1-123 2-38 0 172 1-15 1 42 2-31 0 98 1-39 1-204 1 26 1 109 0-67 1 99 2-10 1-139 1 62 1 143 0 7 2-103 1-87 1 170 2-36 0-83 0-156 2 272 1-31 1-62 1 127 0-87 1 15 1-149 2 229 1-90 1-19 0-174 3 234 0 127 1-170 1 113 1-8 1-180 1 61 1-119 1 22 1 169 1-34 1-80 1 150 1-150 1 16 1 101 1-150 1 135 0 53 1-78 2 8 0 119 2-111 1-80 0-54 2 117 1-145 1 128 2-50 0 35 1 104 1-97 1-31 1 47 1-118 1 109 0-10 1-117 2-28 1 167 2-134 0 118 1-41 1 104 1 67 1-86 1-69 1 117 1-14 1-82 1 39 0-141 2 130 1-124 1 8 1 128 1-142 1 151 1-225 1 218 1-2 1-124 1 107 1-145 0 88 2 75 0-23 1-147 2-7 1 120 0-31 2 111 0-49 2-102 1 99 0-90 1 66 2 141 0-4 2-150 1 193 1-233 1 3 1 144 0 13 2-158 1 109 1-104 1 88 1-110 1-81 1 154 1-106 1 155 1 31 1-114 0 56 2-65 1 81 1-75 1 190 1-142 1-76 1 103 1 18 1-82 1-83 1 121 1-117 0 203 1-110 1-119 2 42 1 92 1-18 0 154 2-157 0-53 2-4 1 102 1-100 1 129" stroke="#e66101"/>
<path d="M35 403l1-206 0-40 1 212 1-133 2 58 0 36 2-142 1 21 1 175 1-188 0 112 2 95 1-192 0-45 2 205 1-17 0-83 1 78 2-71 1-120 0 181 2-42 1-92 0 27 1 159 2-154 0 104 2-92 0 144 1-40 1 151 2-103 1-102 1-42 0 65 1-111 2 128 1 46 1-115 1 40 1-123 0-38 1 164 2-44 1 82 1-98 1 129 0-23 2-73 1 76 1-134 1 112 1-145 0 153 2-131 1 8 1 107 1-11 1-71 1 13 1 120 1 3 0-64 1-44 1 86 3-243 0 172 0 2 1 86 1-105 1 89 1-129 1 199 2-155 1 86 0 24 1-97 1-78 2 83 0-13 1 111 2-98 1-114 0 136 1-78 2-7 1 166 2-90 0 79 0-27 1-98 1-52 2 133 0-118 1 108 2-105 1 125 1-10 1-52 0 37 1-94 1-15 1 178 2-209 0 104 1-85 1 131 2 29 1-60 1-33 0 82 1-21 2-80 0 43 1-120 2 185 1-173 1 146 1-118 1 131 1-199 1 81 1 94 0 4 1-109 1 38 1 217 1-117 2-101 1-17 0 78 2 30 1-110 0 15 0 61 2-101 1 106 1-76 1 143 3-106 0 97 1-22 0-122 1-8 2 118 0-19 2-81 1-40 1 157 1-59 0 129 1-138 1 93 1-149 1 201 1-169 2 142 0 60 2-124 0-7 2-98 1-14 1 198 0-24 1-92 2-60 0 91 1-150 2 144 1 36 1-119 0-49 1 152 1 20 1-73 1-17 2 101 1-135 1 144 1-151 1 150 0-56 1-97 2 110 1-133 0 54 2 86 1-32 1-56 1-20 0 107 2-166 0 168 1-235 2 301 0-59 2-107 0 4 1 106 1-15 1-157 1 53 1 136 1-21 2-226 1 274 1-142 0-98 1 135 1-97 2 143 1-51 1 138 0 20 1-153 1 27 2-134 0-4 1 119 1-34 1 154 2-119 1-124 1 37 1 72 1-23 1 99 1-23 1-131 0 24 2 152 1 3 1-181 0 147 0-143 3 9 1 155 0-124 2 98 0-1 1-75 1-53 2 79 0-16 2 53 1-15 1-85 1-52 1 124 1-100 1 164 0-72 1 132 1-17 2-242 1 59 0 77 2 21 1-123 1 41 1 250 1-255 1 94 0-141 2 130 1 47 1-85 1 49 0-79 2 20 1-32 0 93 2-95 1 48 0-104 1 12 1 81 2-131 0 128 2-8 1 67 0-13 2-225 0 93 1 100 1-23 2 134 0-31 0-97 2 53 1 83 2-79 1-113 0-100 1 190 1 2 2-34 0-57 0 112 2 16 1-214 1 227 2-145 0 136 1-117 1 93 1-270 1 103 1 153 1-4 2-53 0 3 1 51 2 93 1-112 0 6 1-38 1 20 2-76 0 121 1-65 1 73 1-64 1 16 1-148 1 154 1-105 1 128 1-100 1 148 0-107 2-9 1 87 1-89 1 148 1-70 1-209 1 51 1 114 1 52 1-74 1 71 1-103 1-27 1 95 2-83 0 135 2-36 0-92 1 55 1 130 1-16 1-197 1 53 1-95 2 135 0-110 2 90 0 106 1-7 1-137 1-14 2 120 0 28 1-151 1 79 1 111 1-144 1 222 1-144 0-177 2 167 1-45 1-183 2 277 0 4 1-140 1-39 1 147 2-101 0 95 2-48 0-89 1 41 0 156 2-1 1-164 2-40 0 94 2-47 0 105 1-27 1-155 1 183 1-277 1 143 1 137 1-115 1 95 1-104 1 192 1-68 0-86 2 102 1-169 1 143 1-80 1 102 1-113 1-37 2 133 0-68 0 161 2-126 1-94 1 68 1-66 1 15 1 122 2-171 0 130 2-71 1 147 0-25 1-184 1-50 0 189 2-76 1 75 1 34 1-49 1 77 1-85 1 70 1-110 1 116 1-64 1 69 1-82 2-53 0 58 1-80 1 123 2-128 0 105 1-35 1-73 1-19 1 129 1 5 1-113 1 37 1 67 1-234 0 225 2-63 1 86 1-135 1 145 1-145 1 113 1-49 1 137 1 10 1-204 1-46 1 170 1 67 1-132 1-130 0 161 2 46 1-173 1 43 0 119 2 25 1-153 2 62 0 121 2-73 0-48 1 123 1-228 2 51 0 72 1-68 1 122 2-158 0 222 1-38 1-159 1 19 0 100 2-79 1 138 1-43 1-118 1 150 1-71 1 51 1-115 1-4 1 200 1-65 0-211 3 70 0 109 1 33 0-142 3 52 0 67 1-117 0 98 2-82 0 143 2-145 0 61 2-89 1 106 1-125 1 108 1-52 1 78 1 3 1-174 1 159 1-150 1 64 1 180 0-29 2-178 1 139 1-138 1 84 1-244 1 328 1-156 1 109 1-200 1 210 1-106 1 135 0-106 2 37 0-124 3 4 0 196 1-10 1-121 1 124 1-137 1 71 1-66 2-81 0 139 1-128 1 128 1 15 0-110 2-65 1 186 1-133 1 200 1-33 0-134 2 100 1-126 1 92 1-114 1 70 0 147 3-160 0 109 1-26 1-67 2-93 0 182 1 90 1-128 1-150 1 164 1-70 1 49 1-135 1 180 1-107 0 113 2-30 1-101 2-45 0 137 1 158 1-140 0 34 2-120 2-29 0 102 1-156 1 143 1-63 1 151 1-20 1-122 1-64 1 191 0 17 2-178 0 143 2-169 1 101 0 176 2-119 0-93 2-9 1 154 1-18 1-111 1 22 1 76 1 7 1-81 1-20 1 70 0-30 2 96 0-72 1-97 2 153 1-261 0 115 2 161 0 10 1-120 2 112 0-80 2 33 0-94 2 25 1-109 1 101 1-79 0 113 2-33 1-26 1 106 1-33 0 36 2-153 0 76 1-96 2 141 1-64 0 123 2-13 1 71 1-219 1 157 1-37 1-154 0 90 2-109 1 118 0 91 3-175 0 85 1 116 1-131 1 19 1-146 1 175 1-65 1-38 1 196 1 24 1-152 1 76 1-74 1-44 1 167 0-81 2-78" stroke="#998ec3"/>
<path d="M34 293l2-34 0 91 1-148 2 144 1-137 1-37 1 192 1 18 1-116 0-133 2 195 0 27 1-64 2 84 1-160 0 158 1-243 1 199 2-145 0-40 1 220 1-117 1 132 3 61 0-172 0-75 2 120 1-66 0 123 1-114 2 96 1 50 0-74 2 30 0-129 1 61 1 53 1-7 1-114 1 121 2-65 1-102 0 191 2-1 0-106 2 66 0-217 2 206 1-121 1 197 1-95 1 46 0-87 1 77 1-60 2-32 1 89 0-33 0 37 4-114 0 98 0-79 2 172 1-55 1-107 0 12 1 78 2-9 1-181 0 159 1 39 1-38 1-169 2 73 1 119 1 7 1-94 0 55 1-118 2 66 1 244 0-22 2-112 1-143 1 169 0-2 1-105 1-155 2 183 1 79 0-117 1 29 1 105 2-163 0 163 2 11 1-158 0-1 1 103 1-29 1 113 1-94 1-113 1 21 1 67 2-97 1 88 0 10 1-72 1 43 1-62 2 34 1 123 2 33 0-51 1-125 1 174 1 6 1-256 1 156 1-70 0-1 1 79 3-259 0 296 0-66 2-106 1 82 0 72 1-89 1 68 2-31 1 87 0 49 1-189 2 107 1-109 1-5 0 156 2-312 1 214 0-89 1 119 1-27 1-142 1 108 1 238 1-175 1-154 1 50 2 223 0 8 2-150 0 113 1-142 1-38 1 199 1-68 2-80 0 87 2-158 1 80 0-79 2 84 0-68 2 145 0-145 2 69 1-81 0 5 2 134 1-180 0 130 2-49 1 134 1-177 1 177 0-9 2-101 1-1 0 93 2-177 1 242 0-37 2-197 1 0 0 114 2-7 1-288 1 365 1-168 1 171 1-172 0 76 1-117 2 111 0-180 1 259 2-51 1 20 1-89 0-51 1 88 1-106 2 165 0 11 1-117 2 34 1-99 0 24 2 139 0 80 1-128 1 85 1-41 2-107 1 110 0 9 1-190 1 112 2 101 0 11 2-123 1-9 0 87 2-98 1 56 0-47 1 127 2-99 0 52 1-52 1 141 1-60 1-121 1 74 1-88 1 96 1-78 1 29 2 92 0 69 1-103 1 114 2-239 1-20 1 138 0 92 1-118 1-12 1 132 3-39 0-85 0-75 2 98 1 56 0-92 1-43 2 188 1-132 1-56 1 66 0-106 2 142 1-185 0 95 2 84 1 16 0-88 1-94 0 137 3 17 0-111 2 79 0 93 1-130 1 97 2-107 1 77 0 22 1-128 1 72 1 106 1-3 2-90 0 32 1-68 1-2 2 108 0-24 2-112 0 73 2-81 0-28 2 139 0-112 2 109 0-23 2-65 0 127 1-129 2 107 1-59 1 28 0-62 2 101 1-105 1 8 0 141 1-88 1 115 1-176 1 107 2-101 0 50 2-116 1 125 0-97 0 132 2-83 1 79 1-70 1 127 1-103 2-109 0 121 1-60 2 73 1-41 0 143 2-171 1 25 1 68 0 2 1-112 1-2 1 161 1 9 2-129 1-68 1 110 0 63 1-149 2 65 1-111 1-129 1 333 0 23 1-102 1 52 1-80 1 129 2-130 0 33 1-55 1-73 0 123 2 14 1-56 2-123 0 193 1-1 1-132 1-110 1 241 1-131 1 128 1 3 1-199 1 157 1 40 1-76 1 152 1 1 0-368 2 185 1 111 2-85 0 100 1-212 1 149 1-93 0 136 3-125 0 144 1-16 2-98 1 125 0-173 1 44 1 104 1-75 0 138 2-122 1 76 1 33 1-156 1-64 1 154 1-137 1 150 1-59 1 88 2-40 1-52 0 24 1 125 1-74 1-100 1 17 1 56 1-55 1 208 1-76 1-124 1 97 2-69 1-63 0 102 1-84 1 130 1-23 1-217 1 124 1 99 2-153 0 156 1-65 0-81 2 60 1 28 1-52 1 110 1-72 1-57 1 5 1 75 1-39 1-132 2 220 0-163 2 95 0-156 1 210 1-149 1 31 1 107 1-136 1 170 1-153 0 73 2 52 1-88 1 78 1-170 1-15 1 146 1-15 1-101 1 114 1-79 1-102 1 177 1 81 1-138 1-51 1 131 1-110 1 109 1 6 1-74 1-13 1 66 1 29 1-77 2 40 0 91 1-19 1-118 1 9 1 85 1-142 1 112 1-23 1 164 1-230 1 103 1-110 1 187 1-125 0-64 2 61 1 40 1 140 1-144 2-68 0 124 1-50 1-138 1 161 1-129 1 53 1 89 1-126 1 186 1-3 1-111 1-3 1-102 1 17 0 189 2-125 1 99 1-60 0 44 2 31 1-145 0 112 1-202 2 226 1-128 1 58 1 124 2-227 0 105 1 60 0-224 2 55 1 126 1 53 1-123 1-72 1 140 2 69 0-73 0-20 2 113 1 13 1-141 1 72 1-110 1-44 1 154 1-93 1 113 1 85 1-185 0-40 2 121 1-54 0-107 3-38 0 122 1-52 1 106 1-52 0 86 3-134 0 68 0-104 1 106 2-52 1 87 1-72 0 114 2-130 1 102 1-186 0 159 2-81 1 64 0 20 2-170 1 133 1-144 1 190 1-91 2 199 0-188 1-91 1 211 1-28 0-124 2 211 1-179 2 33 0-117 2 100 0-102 1-3 1 175 1-64 1 68 0-80 1 123 2 48 1-205 1 10 1 83 1-70 1 90 1-48 0 81 2-59 1-105 1 23 1 110 2-101 0 87 1-13 1-122 0 72 2 121 1-60 0-104 2 38 1 140 2-29 0-86 1 52 0-139 2 93 0-122 2 159 1-140 1 103 1-174 1 79 1 119 1-38 0-72 2 16 1 122 2-61 0-34 1 29 1-66 1 101 1-165 1 132 1-97 1 115 1-129 1 167 1-136 1-20 1 133 1-20 1 84 0-46 2-60 1-47 0 168 1-36 2-148 1 125 1-103 1 7 1 53 1-102 0 93 2-26 0 95 2 6 1-122 0 118 2-103 1 258 1-299 1 151 1-127 1 15 0 125 1-94 1 100 2 3 1-134 1 82 0 60 1-29 1 76" stroke="#542788"/>
<path d="M35 515l0-266 2-55 1 166 1 9 0-146 3-22 0 162 1 35 1-165 1 106 0-160 1 66 2 146 1-78 0-52 2 104 0-208 1 157 1-115 2 60 1 40 0-72 2 211 1-173 1 113 0-23 1-90 2 4 1 124 1-19 1-169 1 1 1 110 0-80 1 178 1-56 2-153 0 21 1 145 1-2 1-73 2 43 0-119 2-60 1 152 1-121 1 114 1-13 0-151 2 74 1 68 0-19 1 89 2-87 1 137 1 29 1-82 0-40 1-96 2-18 1 170 1-130 0 121 1-124 1 101 2-141 1 218 0-41 1-69 1 28 2-68 0 14 1 79 2-11 1-142 1 180 1-215 0 150 1 126 2-133 0-155 1 13 1 141 2-82 1 132 0-176 2 112 0-54 2 109 0-33 1-107 3 5 0 147 0-29 2-95 0 145 1-151 1 80 1-95 2 91 0-41 2 67 1-168 0 77 2 115 0-20 1-70 2 24 0 47 2 92 1-214 1 20 1 192 1-95 1 66 1 5 1-142 1 52 0-69 2 200 1-183 1-63 0 136 1-31 0 104 2-63 1-157 2 14 1 185 0-195 1 150 1-162 1 211 1 15 2-91 1 84 1-184 0-51 1 134 1-55 1 109 2 59 1-133 1-24 0 76 1 4 2-81 0 126 1-112 2 54 1-106 0 84 1-102 1 8 1 114 2 125 1-268 0 76 2 72 1-85 1 182 0-82 2 130 0-85 2-113 0 24 0 139 2-73 2-212 0 93 1 108 1-113 1 60 2-112 1 106 0 88 1-190 1 65 1 148 2-154 1 113 0-94 1 148 1-205 1 172 1-109 1 96 1-22 1-99 1 49 1 194 2-147 1-53 0-58 2 134 1-122 0 141 1-30 2-62 0 21 1-75 2-56 0 134 1-67 1 125 1-77 1 184 1-187 2-81 1 45 0 108 1-152 1 195 2-232 1 145 0-154 1 140 1 73 2-60 1-7 1-97 1 98 0-139 1-52 1 195 2 30 1-126 1 32 0 133 2-41 1-164 0 71 1 96 1-138 1 198 1-123 1 100 2 11 0-179 2 122 1-260 0 89 1 147 1 8 1-109 1 61 1 77 2-117 0 153 2 36 0-143 1 128 2-164 0-20 1 72 2-128 0 172 1-118 1 89 1-143 2 122 1-76 1 122 0 75 1-161 2 125 1-99 0-19 1 147 1 18 2-215 0 23 1 124 1-101 1 138 1-77 2-89 0 59 1 102 1-141 0 203 2-137 1 188 1-97 1-151 1 3 2 65 1-44 1 75 0-69 1-89 1 89 1-68 1 83 1-78 1 123 1-184 1 155 0-53 2-13 0 84 3-78 1 109 0 69 1-185 2-60 1 126 1-70 0 131 2-140 1 153 0-55 2-182 0 15 1 202 1-20 1-60 1-62 2 97 0-20 1 72 1-80 0 44 2-118 1 82 1-53 1 119 1-85 1 57 1-122 2 94 0-51 1 55 1 105 1-132 1 28 2-146 1 43 1 101 1 23 0-91 1 8 1 196 1-53 1-182 2 79 0 99 1-83 0-108 3 3 0 214 1-26 1-105 1-39 1 110 1-69 1 105 2-179 0 90 1 64 1-131 1 32 1 86 1-84 1 93 1-22 1-249 1 123 1 111 2 12 0-71 2-22 0 90 1-203 1 246 1-29 1-94 1 115 1-125 1-5 1 88 2-93 0 117 1 102 1-188 1-26 0 83 2-81 0 118 2-17 1-57 1-47 1 137 1-128 1 150 2-180 0 73 1 28 1-106 2 42 0 72 1-9 1-53 2-29 1 139 0-104 1 69 1-33 1-112 1 21 0 148 3-195 0 225 1-73 1-118 2-15 0 105 1-131 1 152 1-11 1-119 2 19 1 96 0 28 1-62 1-50 1 150 2-38 0-153 2 181 0-129 1-15 1 141 2-103 0 124 2-33 0-63 1-98 1 107 2-89 0 149 1 29 1-95 1 64 1-62 1 86 1-148 1 179 1-99 1 12 1 124 2-3 0-144 1 69 1-139 1 44 1 128 1-81 1-100 1-84 1 177 1-71 1 163 1-159 1 129 1-134 1 115 1 68 1-152 2-28 0 154 1 18 1-255 2 25 0 127 1 60 0-85 2-59 1 221 1-123 0-76 2 83 1-114 2 22 0 184 1-77 1-100 1-3 0 142 3-148 0 155 1-14 1-144 1 47 1 145 1-89 0-126 2 112 1-76 1 57 0-82 2 40 1 82 1-11 1-125 1-5 1 227 1-55 1-72 1-74 1 107 2-17 0 77 1-111 1 134 1-51 1-116 1-36 1 138 1 29 1-183 1-91 1 226 1-102 1 131 1-113 1 80 1 142 1-181 1-33 1 114 1-36 1-207 1 31 1 196 1-97 1 104 2-129 0 144 1-83 0 135 2-166 1 120 1-22 1-151 1 28 1 161 0-26 2-151 2 78 0-76 1 72 1-67 1-23 1 124 1 2 1 39 1-44 1-110 0 15 1 154 2-146 0 207 2-262 0 139 2-28 1-105 1-72 1 327 1-91 1-64 1 5 1-100 1-17 1 200 1-26 1-50 0-48 2 63 1 67 1-73 1 22 1-111 2-81 0 191 1-100 0 93 2 3 1-104 0 85 2-72 1 109 1-95 1 9 1 116 0-53 1-126 2 33 0 74 3-7 0-87 1 58 1 111 1-4 1-105 1 55 1-67 1 51 0 56 2 37 1-94 1 58 1-144 1 108 1-92 1 140 1-147 0-57 1 127 1-156 2 170 1-41 0 37 2-163 1 199 1-52 1 114 1 39 1-158 1-19 1-79 0-24 2 148 1-183 0 147 1-66 2 131 1-126 1 164 1 8 1-121 1-24 0 86 1 55 2-137 1 89 1-106 1 12 1 66 1 50 1-248 1 222 1-77 0 93 1-156 2 34 1 139 1 39 1-117 0-43 1 109 2-13 1-90 1-10 0 53 1 85 2-126 0-13 1 188 1-67 2-135 0 56 2 116 1-98 0 83 2-1 0-76 2 66 1-214 1 23 1 200" stroke="#f1a340"/>
</g>
<path d="M1115.3 93.2V372.3" stroke="#222222" stroke-width="4.3" fill="none"/>
<path d="M1115.3 372.3H1489.9" stroke="#222222" stroke-width="8.2" fill="none"/>
<path d="M1132.4 372.3v10.8M1200.5 372.3v10.8M1268.6 372.3v10.8M1336.7 372.3v10.8M1404.8 372.3v10.8M1472.9 372.3v10.8" stroke="#333333" stroke-width="4.3" fill="none"/>
<path d="M1103.8 296.6h11.5M1103.8 196.6h11.5M1103.8 96.6h11.5" stroke="#333333" stroke-width="4.1" fill="none"/>
<text transform="translate(1094.3,309.0) scale(1.035,1)" text-anchor="end" font-size="35.6" fill="#4d4d4d">0.5</text>
<text transform="translate(1094.3,209.0) scale(1.035,1)" text-anchor="end" font-size="35.6" fill="#4d4d4d">1.0</text>
<text transform="translate(1094.3,109.0) scale(1.035,1)" text-anchor="end" font-size="35.6" fill="#4d4d4d">1.5</text>
<text transform="translate(1132.4,419.1) scale(1.035,1)" text-anchor="middle" font-size="35.6" fill="#4d4d4d">2500</text>
<text transform="translate(1200.5,419.1) scale(1.035,1)" text-anchor="middle" font-size="35.6" fill="#4d4d4d">3000</text>
<text transform="translate(1268.6,419.1) scale(1.035,1)" text-anchor="middle" font-size="35.6" fill="#4d4d4d">3500</text>
<text transform="translate(1336.7,419.1) scale(1.035,1)" text-anchor="middle" font-size="35.6" fill="#4d4d4d">4000</text>
<text transform="translate(1404.8,419.1) scale(1.035,1)" text-anchor="middle" font-size="35.6" fill="#4d4d4d">4500</text>
<text transform="translate(1472.9,419.1) scale(1.035,1)" text-anchor="middle" font-size="35.6" fill="#4d4d4d">5000</text>
<text transform="translate(1302.1,71.0) scale(1.035,1)" text-anchor="middle" font-size="35.6" fill="#000" font-weight="bold">sigma[3]</text>
<g transform="translate(1604.85,93.0) scale(.5)" fill="none" stroke-width="9.6" stroke-linejoin="round" stroke-linecap="round">
<path d="M35 460l1-38 1-16 1-92 1 25 1 58 0-82 2 99 1-14 1-110 1-39 1 218 0 16 1-65 2 31 1-49 0-27 1-142 3 162 0-98 1 97 1-96 0 106 1-50 2-49 0 142 2-13 0-84 2-320 1 408 0-62 1-66 1 25 1 99 1-41 1-54 2-9 1 100 1-3 1-108 0-6 2 62 0-76 2 78 1 31 1-45 0 56 2-135 0 24 2 110 1-45 1 44 0-3 1-90 2-20 1 151 1-43 1 81 1-9 1-156 0 38 1 83 2-103 1 106 0-127 1 68 2-101 1 80 1-64 1 132 0 4 2-84 0-41 2 131 1-116 1 129 0 27 2-95 0 61 2-106 1 5 1 57 0-16 1-54 1-18 1 42 2 81 1-70 0 56 2-85 1 38 1 54 1-93 1 85 1-40 1 38 0-46 2 93 1-50 1-53 0 36 1-71 2-63 1 95 1-65 1 98 1-48 1 70 0-41 1-89 1 45 2 107 0 24 1-98 1-18 1 43 1-12 1-48 1-66 0 97 2-9 0 68 2 22 2-147 0 39 1 68 2-4 1-123 2-26 0 174 1 2 0-130 1 31 1 142 2-76 1 78 0-35 1-110 3 42 0-51 1 76 1-81 1 45 0 42 2-45 1 111 0-10 2-213 0 35 1 102 1-70 2 142 0 7 2-90 0 35 1-79 1 54 1 42 1 38 2-237 1 66 0 74 2 17 0-72 1 33 1 50 1-18 2 59 0-31 2-136 0 84 1 80 1-15 2 71 0-17 1-122 1 117 2-114 1 19 1-62 0-1 1 67 2-14 1 98 0 9 2-101 1 39 1-134 2 57 0 107 0 4 2-67 1-130 1 136 0 104 2-146 0-15 2 60 1-68 1 93 1 65 0-41 2 13 0 27 1-71 1-85 1 111 1-59 1-1 1-121 1 21 2 183 0-27 1 62 2-117 1 99 0-66 2-62 0 116 1-102 2 35 1 61 1 16 0-77 1 45 2-101 0-67 1 112 1-3 1-69 1 26 2 109 0-11 1-107 2 154 1-103 1-34 1 78 0-12 1-95 1-4 2 123 1-167 0 112 2-65 0 101 1 30 1-87 1 0 1-193 1 212 2-67 0 133 2-85 1 103 1-159 0 154 2-110 0-21 1 153 1-103 1 76 2-12 0-59 2 36 1-100 0 55 1 116 1-39 1-129 1 16 1 104 2 46 1-111 0-3 1 81 1-14 2-72 1 13 0-113 1 85 1 47 2-28 0 92 2 21 1-116 0 61 1-74 1-23 1 145 1-140 2 129 0 22 2-117 1-147 0 157 1-49 1 79 1-86 1 104 1-112 2 63 1-58 0 47 1 25 1 59 1-22 1-73 1 52 1-45 1-9 1 116 2-138 1 112 1-71 0 123 1-54 1-84 1-17 2 119 0-53 2-118 0-5 1 148 1-33 1-141 1 92 1 70 1-27 1-92 2 145 1-68 0 100 2-65 0 41 2-106 1 130 1-102 1-29 1 90 0 1 2-158 0 21 0 117 2-57 1 94 1-5 1-71 1 66 1-79 1-11 1 88 1-130 0 80 2-47 1 124 1-94 1-74 2-114 0 187 1 40 1-80 2 88 1-109 1-26 0 117 1-57 1 92 1 0 1-85 1 67 1-60 1 3 1 69 1-55 0 123 2-120 1 103 1-72 1 61 1-7 1-69 1-27 0-169 2 175 1-89 1-246 1 367 1-181 1 147 2-90 0 105 2-76 1 124 1-41 0 69 1-90 1 97 1-32 1-222 1 131 1 112 1-3 1-130 1 10 2 130 0-34 0-22 2-89 1 174 1 27 2-160 1-62 0 122 1-35 0-120 2 228 1-152 1 1 1 73 1 55 1-109 1-58 1 137 1-9 1-143 1-44 1 74 1 20 1 108 1-32 1-71 1 21 1 74 1 0 0-92 2 61 1 73 1-23 1-111 1 4 1 62 2-19 0 48 1-97 1 63 2 72 0-87 1 0 1-143 1 80 1 145 1-109 1 74 1-51 0-49 2 39 1-37 1-121 1 251 2-136 0 123 1 34 1-111 1 94 1-101 1 68 1-69 1 64 1-150 1 46 1 67 1-115 1 167 1-5 0-87 3 31 0-63 1 25 1 77 1-27 1-49 1 19 1 69 1 0 1-151 1 44 1 118 1-41 1-70 1 36 1-84 1-21 1 157 1-77 1 101 1-16 0-92 2 17 1-38 1 9 1 117 1 59 1-33 1-71 1 76 1-23 1-207 1 59 1 102 1 1 1-59 2-79 0 163 1 0 1-73 1 22 0-118 2 74 1 85 1-62 1 100 1-33 1-110 2-73 0 181 1 44 1-148 1 78 1-42 1-56 1 124 1-45 1-110 1 18 0 76 3-2 0-81 1 195 1-130 1-8 1 73 0-4 2-47 1 136 1-106 1 60 1-51 0-5 2 106 1-60 1 65 1-48 1-97 1 2 1 68 1-87 1 75 1 13 1-112 0-24 1 138 2-150 1 117 1 29 1-124 0-76 1 216 2-68 1-130 1 197 1-334 1 94 1 148 1-66 1 106 1-104 1 71 0-7 2 85 2-65 0 68 1 10 0-91 2 111 1-106 1 54 1-39 0-4 2 108 0-75 1-91 2 3 1 69 1 51 1-77 0 14 1-250 2 205 1 65 1-70 1 108 1-22 1 79 1-14 1-76 1 31 1 55 0-5 2-133 1-67 1 74 1 80 1-78 1-22 1 107 1 10 1-87 0 8 2-209 1 197 0-114 2 99 1 54 0-4 1-58 1 13 1-60 2-7 1 171 1-119 1 94 0 2 1-81 2 27 0-43 1 24 2-111 0 31 2 201 1 13 1-131 1 45 1-226 1 89 1 103 1-113 1 176 2-13 0-73 1 59 1-58 1 40 0-73 1 43 1 70 2-120 1 153 1 28 1-147 0-70 1 115 2-16 1-80 0 30 2 80 1-95 1 103 1 46 1-106 0 9 2 63 1 19 1-79 2-11 0 70 1-90 1 95 0 24 2-34 1-59 1 77" stroke="#e66101"/>
<path d="M35 528l1-162 1 91 1-83 1 57 1-130 1-1 1 85 1 59 0-94 1 58 2-137 0-85 2 217 1-53 1 85 0-41 1-41 3 69 0-81 0-3 1 70 1-32 2-42 1-43 1 97 0 45 2-83 1 11 1 90 1 38 1-113 1-16 1 58 0-34 1-33 1 33 2-104 1 90 1-66 1-29 1 163 1 50 0-381 1 321 2 51 0-55 1-146 2 178 1-263 0 166 1 125 2-29 1-97 0 42 1-153 1-85 1 209 1-26 1 96 2-76 1 95 0 10 1-107 1 77 2-120 1 99 1 52 0 9 1-112 1 65 1-93 1 107 2-105 1 33 1-118 0 121 2-110 1-31 0 177 2-103 1 100 1-36 1 76 1 21 1-98 1 63 1-82 0 22 2-75 1 75 0-85 1 138 2-66 0-15 2 78 1-20 1-77 1 50 1-62 2 84 0-57 0 23 2 80 1-225 1 178 0 19 2-81 0 92 1-92 2 123 1-82 0 42 0 49 2-29 2-100 1 26 1-112 1 134 0 36 1-87 1 47 1-120 1 130 2-81 0 142 2-80 0 98 2-9 1-43 1 34 1-64 1-78 1 61 1 0 1-77 0 26 1 125 1-3 2-96 1-19 1 46 0 53 1-137 2 71 1-106 0 46 2 132 1-20 1-56 0-81 1 91 2 39 0-56 1 74 1-135 1 8 2 163 0-22 1-73 1 5 1 51 2 20 1-122 1-15 1 127 0-16 1-89 1 54 1-42 2-32 1 68 1-81 0 80 1 0 1 48 1-19 1-56 1 9 0-99 3-14 1 131 0-49 0 49 2-87 1 116 1-130 2 75 1-48 1 85 0-32 2 109 0 35 2-150 1 76 1-67 0 14 1 54 2 26 1-50 1 70 1-69 0 38 1-114 1-45 2 130 0 18 1-44 1 34 2-122 0 0 2 156 0-23 1-73 2-55 1 116 0 35 2-151 0-37 1 79 2 81 0-82 1 115 1-94 1 35 2-84 0-91 1 151 1-22 1 72 1-69 1 25 1 8 1-54 1-24 2 110 0-8 2-205 1 160 1-35 0 134 1-63 2 25 0-52 1 13 1-107 1-80 1 211 1-122 1 145 2 34 1-82 1-37 1 79 0-106 1 45 1 10 1 55 1-69 1 43 2-36 0 41 1-5 2-51 1-125 0 202 1-64 1 84 1-53 1-44 1-10 2 27 0 20 1 101 2-83 1-46 0-33 1 106 1-152 1 117 1-114 1 88 1-11 1 94 2-89 0 108 1-1 1-75 1-56 0 60 2-34 2 63 1-94 1 150 0-24 1-78 2-165 1 163 0-25 2 156 0-16 1-138 1 19 1-55 1 43 1-63 1 54 1-52 1-6 2 105 0-34 1 46 1 42 1-124 2 28 1 58 1 45 1-87 1-11 1 86 1-57 0-80 1 45 2-106 0 63 1 187 1-138 2-129 0 77 2 76 1-62 0 94 2-97 1 40 0-51 1 108 1-63 1 77 1-22 1-89 2 21 0-220 1 283 1-41 2-54 1 74 0 54 2-49 0 59 1-102 1 15 1-106 2 104 0-26 1-67 1 92 1-34 1 82 1-65 1 69 1 44 1-114 1-34 1 134 1-20 1-119 1 16 1 55 2-105 0 99 1 29 1-75 1 2 1 112 2-67 1 107 0-29 0-43 2 88 1-68 1-18 2-60 0-108 1 124 2-67 0 86 1-60 1 98 1-61 1 55 1 29 1-91 1 41 0-48 2-78 1 144 1 54 1-77 1 56 2-92 0-15 0 88 2-179 0 152 2-155 2 114 0-136 0 166 2 35 1-99 1 1 1 96 2-55 0 66 1-32 1 50 1-25 2-72 0-10 0 107 3 43 0-64 1-50 1-46 2-92 0 162 1 17 1-231 1 142 2 124 0-59 1-123 1-21 1 188 2 19 0-64 1-7 1 36 1-46 1-90 1 103 1-54 1 33 1 114 1-17 1-145 2-24 0 66 1 47 1-79 1-29 1 77 1-83 1 91 2 75 0-84 1-8 0 44 3-136 0 121 1-8 1-132 1 53 1 93 1-94 1 100 1-10 1-64 1-35 1 141 1-9 1-62 1-11 0 75 2-53 0 79 2-48 1-209 1 187 1 54 1 45 1-34 1 41 0-65 3 30 0 44 1-26 0-47 2-15 0-116 2 32 1 29 1-7 1-93 1-100 1 212 1-104 1 144 1-19 1-73 1-20 1 151 2-156 0 106 1 27 1-128 2 84 0-36 1-47 1 87 2 4 0-40 1-12 1 93 1-97 1 42 1 19 1-53 1 12 1-108 1 109 1 105 1 18 1-113 1-36 0 74 2-128 1 204 1-17 1-62 1-42 1-52 1 84 1-44 1 20 0 74 1-4 2-98 1 2 1 88 2-72 0 77 0-9 2-90 1-65 0 88 2-31 1 135 1-12 1-103 1 37 1-47 1 16 1 97 2 18 0-104 1-7 1-102 1-3 0 114 2-54 1 66 1 53 1-344 1 254 1 118 1-53 1 51 1-140 0 60 2-23 0-33 2 38 1-93 1 61 0 94 2-76 1 103 1-187 1 147 1-16 1-102 1 98 0-80 2-52 1 108 2-107 0 129 1 7 1-121 0 22 1 60 2 9 0 42 2-168 1 182 0 45 1-68 2 39 1-94 0 23 1-40 2-33 1 126 1 43 1-118 2-6 0 43 2-30 0 80 1-35 1-53 1-27 1 93 0-23 2-37 1 65 1-188 0 47 2 161 1 10 1-133 2 0 0 108 1 17 1-42 1 53 1-133 1 23 1 124 1-1 1 27 0-34 1-124 2 18 1 103 0-5 1-55 2 45 0-111 2-57 1 165 1-137 1 55 0-121 2 145 2 27 0-177 1 11 1 198 1-116 0 126 2 12 1-80 0-9 2 118 1-46 0 37 2-48 1-89 1 76 1 77 0 7 2-138 1-18 0 54 2-102 0 118 2-7 1-65 1-51 0 78 2-69 1 71 0-55 1 64 2-179 0 199 1-126 2 121 1-10 1 56" stroke="#998ec3"/>
<path d="M35 371l1-125 0 119 1 83 1-101 2 33 1 102 1-119 1 26 1-45 0-47 2 103 0 15 2-44 1 38 1-106 1 97 0-81 1 82 2-140 0 79 2 108 1-96 1 101 0 30 2-86 1-30 1 109 0-33 2-75 0-4 1 28 1-43 1 53 1 3 1-90 1-6 1 139 1-100 2 98 1-6 1-107 0-94 2 148 0 7 2-39 0 70 1-66 2 125 1-62 0 9 2-66 0 3 1-67 1 39 2 83 1 1 1-118 1-35 1 75 0-23 2 121 1-16 1-74 0-55 1 85 2 65 0-83 1 40 1-97 1 67 1-87 2 4 1 139 1-29 1-103 0-27 2 99 0 19 2 115 1-9 0-57 1 13 2-53 0-52 1 80 2 2 0-70 1 11 1-67 1 137 2-130 1 112 1-63 0 17 1-125 1 25 1 171 1-71 2 100 0-18 2-104 0 16 1-92 2-74 1 197 0-97 2 114 0-44 2-81 1-63 1 144 1 42 1-122 0 12 2 130 0-48 2-35 1-39 1 107 1-6 0-75 2 36 1 60 0-63 1-110 1 110 1-82 2 54 0 134 2-104 0 76 2-43 0-82 2 7 1 111 1 26 1-132 0-12 2 47 0-23 2 113 0-54 1-50 1-55 2 96 0-31 1 123 1-21 1-45 2-70 1 106 0-21 1-135 1 41 1 61 1-129 2 147 0 20 1-102 2 23 0 88 2-168 1 127 1-4 1-49 0-112 1 195 1-6 1-54 1-36 1 114 1-44 1-233 1 198 1-137 1 199 2-87 0 27 1-95 1-40 2 118 1-38 1 92 1-336 1 337 1 1 1-68 1-92 1 177 0-8 2-156 0 12 1 111 1-70 1 66 2-119 0 179 2 27 1-65 0 20 1-63 1-4 1 87 1 16 2-115 0 15 1 104 1-64 1-155 1 139 2-78 0 52 1 121 1-121 1-60 1 35 1 38 2 11 0 70 1-58 2 81 1-57 1 77 0 13 2-34 0-1 2-122 0-64 2 113 1 21 0-90 1 79 2-55 1-78 0 59 2 44 1-181 0 140 0 64 3 23 1-68 1 1 0-39 1 42 1 71 2-1 0 52 1-41 1-119 2 77 1-157 0 77 1 126 2-113 0 83 2-16 1-56 1 42 1-107 0 69 0-80 2 24 1 109 2-69 1 120 0 3 2-91 1 9 1-103 0 80 1 66 1-23 1-126 1 106 1-33 3-231 0 316 1 61 1-50 0 16 0-102 2-49 1 56 2 44 0 56 1 27 2-115 0 97 1-110 2-61 1 186 0 1 2-128 0 20 1-106 1 94 1-57 1 55 0 58 2-21 1-237 2 90 1 113 0-6 1-74 1 54 1 115 1-25 2-101 0-61 0 95 2-82 1 154 1-92 1 109 1-51 2 32 1 47 1-71 0 16 2-67 1-127 0 129 1-110 1 144 1-43 1 106 2-39 1-95 0 7 2 110 1-138 1 127 0 27 1-74 1-32 1 124 1-34 2-82 0 97 1-129 2 139 0-120 1 33 1-59 1-5 1 63 1-52 1 52 1-93 1 93 1-134 2 140 0-30 1 67 1-125 2 125 1 24 0-80 1-23 1 59 2-50 1-84 0 133 1-106 1 56 1 60 1-65 1 72 1-16 1-92 1 105 1-100 2 66 0-45 1 112 1-90 2 41 0-58 1-54 2 119 0-46 1 34 1 75 1-118 2-22 0 62 1-131 1 111 1-100 1 176 1-21 1-65 1 32 0 100 2-58 1-82 1 62 1-75 1 80 1-164 1 81 1 66 1 17 0-87 3 118 0-59 1 19 1-92 1 80 2-125 0 49 1 58 1 22 1 41 1-5 2-84 0 30 1-114 2 46 0 87 1 40 1-84 1 65 1-62 1 45 1-35 1 95 1-125 1 50 0 52 2 18 1-121 1-160 1 226 1-126 1 186 1-88 1 43 1 13 1-70 1-10 1 107 1-38 1-89 2-114 0 144 1 60 1-67 1 97 1-134 1 49 0 75 2-74 1-75 1 27 1 86 1 4 1-122 1 29 1 96 1-114 1 105 1-42 1-151 1 70 0 209 2-19 1-92 1-16 0-130 2 148 1-46 1-109 1 132 1-156 1 142 1 14 1 93 1 57 1-180 1 9 1 85 1-93 1 96 1-40 1-65 1-62 1 114 2-31 0 80 1 45 1-35 1-326 1 330 1-40 0-38 2 12 0-62 2 44 1-109 1 77 0 129 2-120 1 79 1-80 1 83 1-102 1 43 1 49 1-108 1 14 1 109 1-79 1 119 1-93 1 57 2-26 0-188 1-58 1 203 1-7 1 80 1-79 1 35 1 57 1-39 1-37 1 86 0-76 1-49 2-25 1 118 1 53 1-44 1-94 1 49 1-46 1 37 1 45 1-128 1 161 1-88 1 0 1 98 1-48 1-110 1-45 1 130 1-27 1 89 1 52 1-197 0-44 2 168 1-172 1 93 1-24 1 93 0-21 2-56 1-56 0 96 2 38 1-62 1 5 1 72 1 43 1-91 1-22 1 66 2-31 0-71 1-28 1 86 1-69 1 112 1-72 1 75 1 40 1-115 1 75 1-45 0-23 1 91 2-36 1-93 0 14 1-123 2 151 0-70 2 75 1-50 1-67 1 155 1-50 1 62 1-11 1-94 0 22 2 83 1-23 1-110 1 6 1 55 1-64 0 77 1-12 2 83 1-47 1-113 2 23 0 67 2-52 0 74 1-22 1 83 0 43 2-94 1 47 1-80 1-14 1 63 1-80 1 94 0-35 2 65 1-8 1-89 1-4 1 99 1-72 1 54 1-35 1-139 0 133 2-92 1 21 1 126 1-220 1 122 1 67 1-145 1 82 0-37 2-195 1 268 0-13 2-81 1-20 0 83 2-116 1 133 1-66 1 81 1-280 1 305 1 18 1-100 1-149 1 166 1 110 1-125 0 20 1 95 1-93 1 120 3-3 0-51 0-13 1-114 2 104 1-88 0-29 2 103 0 36 1 54 2-165 1 93 0-16 1-62" stroke="#542788"/>
<path d="M34 354l2 97 1-8 1-137 0 73 1-74 1 75 1-84 1 81 1-29 1 14 1 141 1-28 2-98 0-28 2 102 0-23 2-83 1 20 1 90 1 3 1-97 0 67 1-80 1 4 1 105 1-151 1 71 1-101 1 198 1-61 2-85 1 41 1-136 0 109 1 76 1-66 2 44 1-23 0 34 2-86 1 129 0-2 2-119 1-52 1 116 1-97 1 148 0-51 2-45 1-111 1 217 0 2 2-217 1 177 1-147 1 124 1-89 1 70 1-115 0 32 2 185 0 34 1-71 1-4 1-112 2-16 1 68 0-94 2 181 0-53 1-128 2 87 1 80 0 9 2-66 0-29 2-114 0 92 2 52 1 32 1-39 1-55 0 41 1 2 1-58 1 29 2 94 0 59 2-63 1-44 1 69 0-23 1-63 1-2 2 125 0-23 2-182 1 93 0-34 1-11 1 97 2-22 0-69 2 49 0 54 2 37 1-58 1 66 1-53 0 34 1-121 1-19 2 172 0-39 1-95 2 72 1-68 0 18 2-61 1-8 1 146 0-11 1-87 1 70 2-37 1-82 0 95 2-131 1 133 1 0 1-65 1 7 0-68 2 86 1 97 0-49 0 22 4-30 0-64 0-3 2 58 1-35 1 79 0 17 1-132 1 106 1-157 1-27 1 129 1-27 2 87 0-6 2-76 0 23 2-62 1 63 0-95 2 61 0 105 2-49 0-42 1-44 0 108 2-40 1-75 2 12 0 88 1-8 2-106 1 72 0-152 1 166 1-101 1 122 1-76 1 24 1 43 1-81 1 91 2-81 1 90 1 8 1-159 0-8 1 105 1-99 1 153 1-206 2 154 0 61 1-68 2-43 0 53 3-26 0 47 1-34 0 84 2-255 1 254 1 1 1-81 1 82 1-96 1-47 1 155 1-13 0-78 2 6 1 52 0 4 1-86 2 109 0-43 1 6 1 37 1 72 0-165 3 82 0-134 1 12 1 93 2-117 1 122 0-26 1-53 1 45 1-120 3 125 0-84 0 54 2 31 0-8 1-80 2 12 1 74 0-16 1-86 1 66 1 52 2-42 1-138 0 144 1 114 2-97 1 88 0 14 2 26 0-8 2-85 0-40 1-44 1-176 2 231 1-12 1-97 0 71 1 126 1-147 2 103 1 16 0 29 1-88 1 70 2 38 1-90 1-83 1 111 0-32 1-64 2 146 1-48 1 27 0-53 1 35 1-70 1-130 2 132 0 10 1-207 1 151 2 72 0-73 0 80 3-12 1-35 0 37 1-85 1 94 1-59 1-20 1 115 2-48 0-117 1 48 1 93 2-129 1 126 0-8 1-122 1-77 2 176 0-5 1-56 1-9 1 80 2-88 1 60 0 50 1-87 2 75 1-38 1-134 0 139 1-4 1-97 1 103 1-118 1 159 1-151 2-139 1 244 1-25 1 49 0 6 1-87 2 47 1-33 0 10 1 89 1-32 2-123 1 69 0 28 1 50 1-76 1-44 1 100 2-33 1-94 0 34 1 72 1-47 1 116 1 30 1-75 1-86 2 127 0 23 1-75 2-21 0 54 1 49 1-124 1 21 1-153 1 75 0 101 2-128 1 131 1-57 1 120 1-16 1-96 2-30 0 144 1-3 1-76 1-60 1 86 1-10 1-53 1-30 1 149 1-94 2 67 0 2 1-68 1 10 1 95 1-82 1 59 2 26 0-119 2 15 0-89 1 83 0-115 2-50 1 209 1-167 1 123 1 52 1-92 1-9 1 98 1-59 1 60 1 13 2-100 0 57 1-30 1-82 1 160 1-14 1 70 1-92 1-207 1 225 1-80 1 54 1-145 1 61 1 148 2-80 0 70 1-16 2-115 0 3 1 79 1-1 1-74 1-73 0 185 2-84 1 127 1-82 0-29 2-27 1 63 1 57 1-94 1-34 0 86 2-37 1-84 1 67 1 91 1-36 0-53 3-63 0 90 1 7 0-37 2 7 0 104 2-85 0-86 2 25 1 130 1-6 1-124 2 43 0-59 1 99 0 64 2-168 1 133 1-5 1-100 1-42 1 86 1 62 1-81 1-2 1 130 1-14 1-23 1 15 1-120 1-11 1 88 1-2 1-115 1-62 1 163 1-75 1 47 1-35 1 125 2-52 0 96 1 4 1-143 1 87 1-262 1 60 1 107 1-63 1 83 1-73 1 112 1-10 1-70 1 37 0-117 2 111 1 82 1 14 1-102 2 5 0-120 1 115 1-42 1 45 1-48 1-26 0 73 2-68 1 179 1-66 1-60 2-29 0 53 1-102 1 113 1-113 1 186 1-67 1-121 1 172 1-95 1 67 1-80 1-45 1 99 1 12 1-80 1 125 1-65 0 57 2-138 1 110 1-176 2-2 0 121 0-62 2 140 1-2 1-121 1 87 1-55 0 18 2 111 1-36 0-181 2 140 1-89 1 18 1 131 1 22 1-74 1 31 1-82 1 53 1-43 1-59 1 76 1 11 1-109 1 106 1-65 1-5 1 147 1-55 1-87 1-42 1 135 1-125 1 142 1-16 1-132 1 107 1-72 1 46 1-116 1-15 1 147 1-55 1 143 1 11 1-55 1-57 0 86 2-24 1-105 1 78 1-130 1 68 1 62 1-53 1 80 1-29 0-67 2 68 1 40 2-51 0 59 1 11 1-64 0-14 2 87 1 0 1-107 1 22 1-180 1 139 1 71 1-76 1 123 1-95 1 125 2-64 0-104 1 3 1 76 1 32 0-67 1 34 1-114 1 48 2 51 1 22 1-83 1-39 1 126 1-20 1-89 1-26 1 138 0-3 2-63 1-3 1 72 1-58 1 57 1-67 1 108 1-59 1 35 1-24 1 65 1-11 1-94 1-100 0 82 2-6 1-121 1 151 1-69 1 60 1-103 1-98 1 232 0 2 2 41 1-54 0 66 2 6 1-161 1 61 0 69 2-6 1-93 0 6 2 32 0-28 1 42 2 33 0-133 2 119 1-53 0 39 1 58 2-40 1 46 0 16 2-77 1 5 1-61 1-206 1 258" stroke="#f1a340"/>
</g>
<path d="M1604.85 93.2V372.3" stroke="#222222" stroke-width="4.3" fill="none"/>
<path d="M1604.85 372.3H1979.4499999999998" stroke="#222222" stroke-width="8.2" fill="none"/>
<path d="M1621.9 372.3v10.8M1690.0 372.3v10.8M1758.1 372.3v10.8M1826.2 372.3v10.8M1894.3 372.3v10.8M1962.4 372.3v10.8" stroke="#333333" stroke-width="4.3" fill="none"/>
<path d="M1593.3 298.1h11.5M1593.3 220.3h11.5M1593.3 142.4h11.5" stroke="#333333" stroke-width="4.1" fill="none"/>
<text transform="translate(1583.8,310.5) scale(1.035,1)" text-anchor="end" font-size="35.6" fill="#4d4d4d">0.25</text>
<text transform="translate(1583.8,232.7) scale(1.035,1)" text-anchor="end" font-size="35.6" fill="#4d4d4d">0.50</text>
<text transform="translate(1583.8,154.8) scale(1.035,1)" text-anchor="end" font-size="35.6" fill="#4d4d4d">0.75</text>
<text transform="translate(1621.9,419.1) scale(1.035,1)" text-anchor="middle" font-size="35.6" fill="#4d4d4d">2500</text>
<text transform="translate(1690.0,419.1) scale(1.035,1)" text-anchor="middle" font-size="35.6" fill="#4d4d4d">3000</text>
<text transform="translate(1758.1,419.1) scale(1.035,1)" text-anchor="middle" font-size="35.6" fill="#4d4d4d">3500</text>
<text transform="translate(1826.2,419.1) scale(1.035,1)" text-anchor="middle" font-size="35.6" fill="#4d4d4d">4000</text>
<text transform="translate(1894.3,419.1) scale(1.035,1)" text-anchor="middle" font-size="35.6" fill="#4d4d4d">4500</text>
<text transform="translate(1962.4,419.1) scale(1.035,1)" text-anchor="middle" font-size="35.6" fill="#4d4d4d">5000</text>
<text transform="translate(1791.6,71.0) scale(1.035,1)" text-anchor="middle" font-size="35.6" fill="#000" font-weight="bold">sigma[4]</text>
<g transform="translate(156.65,519.5) scale(.5)" fill="none" stroke-width="9.6" stroke-linejoin="round" stroke-linecap="round">
<path d="M34 448l2-153 0 23 1 125 2-29 1 90 1 17 1-31 1 25 1-20 1 17 1-75 1-150 1 136 0-47 1 96 2-62 1 90 1 0 1-39 0-13 1-251 1 206 1-222 1 149 1 143 2-86 1 74 1-31 1 55 1 1 1-56 1 65 1 16 0-6 1-20 2 29 1-64 0-41 2-92 1 72 0-80 2 63 1-33 0 3 1 93 2-38 0 61 1-70 1-112 2 117 1-122 0 77 2 127 0 0 1-230 1 70 1-95 1 157 0 88 3-75 1-131 0 76 1 82 1-110 2 157 0-55 2 86 1-16 1-84 0-41 2 77 1-64 1 86 1 35 0-27 2-4 1-70 0-31 1 120 1-132 1 118 1-15 2-46 0-75 1 132 3-172 0 95 0-103 2 119 1-68 0 147 2-173 1 154 0 5 1-94 2 67 1-69 0-18 2 118 1 27 1-65 1-35 1 70 0-44 2-103 0 67 1-72 2 46 1 142 1 2 1-20 0 13 1-57 2 34 1-155 0 39 1 144 1-15 2-164 1 1 1 169 1 12 0-42 1 19 2-108 1-20 1 98 0 4 1-70 2 46 0-106 1 126 2-155 0 93 1 73 2 24 0-67 1 76 1-101 2 13 1-42 1-41 0 129 1 21 2-110 1 46 1 68 0-11 2 40 1-115 1 111 1 10 1-28 1-22 1 33 0-14 2-125 0 4 1-103 2-4 0 188 1-22 1 58 1-54 2-139 0 79 1 135 2-16 1-96 0 58 0-63 3 80 1-120 0 126 2-105 1 131 1-49 0-60 2 82 0-57 1 53 2-45 1 67 0 0 2-121 0 52 1 43 1-34 2 79 0-4 2-50 0 35 2-184 0 79 1 91 2-54 1 79 0-24 2-85 0 22 1-48 1 28 1-173 1 186 2-125 0 38 1 84 2 15 0-48 1 33 2 44 0 28 2 22 0 0 2-92 0-101 2 166 0-76 1-62 1 0 1-88 1 45 0 116 2-102 1 53 1-122 2 135 0 26 2 116 0 4 1-25 1 33 2-56 0 6 2 38 1-86 1 66 0-27 0-38 3-59 1 113 0-3 1-116 2 83 0-48 1-4 2 85 0 3 2-45 1 36 0-60 1 46 1-74 2 78 1-22 1-20 0 62 1-28 2-116 0-38 2 133 0 5 1-116 2 61 1-84 0-50 1 98 1 55 1 65 1-13 2-63 0 58 2-132 0-31 2 127 0 13 1 91 1-36 0 24 2-27 2-118 0 139 1-58 1 39 2-120 0-16 1 65 1-27 1 87 1-56 1 56 1-74 1 64 1-39 1 59 2 9 1-38 0 1 1-53 1-18 1 95 2-104 0 89 1-108 1 128 2-15 1-60 0 78 2-106 0 64 2-128 0-74 2 173 0-100 1 87 1-53 0 122 2-17 1-84 2 131 1-74 0-55 1 44 2-9 1 76 1-101 0 84 2 37 0-54 1 32 1-121 2 28 1 72 0 17 1-76 2-8 1 95 1 10 1-39 0 61 1-26 1-33 1 45 1 2 1 31 1-6 1-19 2 7 0-19 1-44 1 54 1-37 2-53 0 20 1-94 2 6 0 52 1-172 1 160 2-24 0 115 1-7 1-129 1-22 1 164 2 31 0-27 1 8 1-142 1 122 1-78 1-10 1 84 1 2 1-61 1 70 0-22 2 28 1-103 1 26 0 53 2-197 1 213 1 10 1-30 1-13 0 47 2 5 1-49 1 27 0-61 3 57 0-34 2-62 0 114 1-30 1-149 1-19 2 112 1-19 0 82 1-2 1-70 1 71 2-99 0-66 1 96 1 68 1-72 1 14 1 82 1-5 1-24 1 27 1-152 1-45 1 87 1 24 1-43 1 30 0-60 2-87 1 157 1-17 1 57 1-30 1-84 1-20 2 58 0 51 1-116 1 36 1 117 1 39 1-121 1-21 1 144 1-36 1 35 1-31 1 49 1 17 1-50 1-70 1 78 1-8 0-86 3-7 0 101 1-7 1-63 1 33 1-187 1 20 1 226 1-18 1 21 1 1 1-68 1 6 1-125 1 54 0-104 2 43 1 111 1-64 1 129 1-6 1-32 1-101 1 64 1-58 1 110 1-8 1-109 1 74 1-95 1 46 1 81 1-145 1 145 1-14 1-121 1-17 1 47 1-51 1 131 1 41 1-93 2-44 0 125 1-30 1-84 1 130 1-119 1 50 1 78 1-9 0 32 3-15 0 27 1 1 1-50 1 5 1-89 2 8 0 63 1-52 1-49 2 58 0-63 1 27 1 52 1 12 1 37 1-13 0 27 3-129 0 125 1-16 1-118 1 41 0-96 2-41 1 200 1-99 1 86 1 22 1-89 1-75 1 50 1-50 0 108 2-141 1 101 0 75 2-121 1 11 1 144 1 6 1-42 1-84 1 88 1-35 1-108 1 32 1 63 2-121 0 133 2 54 0-65 1 7 1 69 1-72 1 67 1-19 0-82 2-8 1 105 0-32 1-65 2-52 1 165 1-16 1-103 1-22 0 125 2-81 1 90 1-35 0-67 2-3 0 67 2-121 1 126 1-67 0 119 3-120 0 63 1-73 1 96 1-68 1 98 0 7 2-135 1 12 1-49 1 20 1-142 0 119 1 132 2-26 1-91 1-22 1 92 1-45 1 124 1-17 1-131 2 47 0-41 1-5 0 61 3 77 0-37 0-11 2-87 1-64 1 102 1-51 0 81 1 14 2 61 0 1 2-139 1 34 1 111 0 3 2-73 0 35 1-173 2 50 1 107 0-8 1-127 1 101 2-163 1 87 1 149 0 5 2-111 1-96 1 112 1 89 1-142 0-71 2 170 1-126 1 169 1-89 1 74 0-69 1 85 1-84 1 108 2-10 0-22 3 4 0-86 2-65 0 116 1-12 1-108 0 4 2 146 0-11 1 37 2-34 1 40 1 10 1-32 1 34 0-34 2 12 1-22 1 7 1-44 1 25 1-110 1 17 0 77 1-44 1 79 2-5 1 38 0-15 2-100 1 5 1-131 1-11 1 191" stroke="#e66101"/>
<path d="M35 400l1 28 1-103 1 126 1-20 1-107 2 73 0 73 1-28 1 53 1-24 1-36 0-15 2-45 1 61 0-47 1 14 1 45 2 13 1-149 0 38 1 62 2-38 0 88 2 16 1-74 1 30 0-55 1 33 1-111 2 13 1 81 1-11 0-83 2 154 1 28 0-2 2-139 0 66 2 85 1-9 0 19 1 10 2-88 0 27 2 57 1-15 1-27 0 28 2-32 0-17 1-232 1 129 2 32 0 45 2-117 0 26 1 90 2-99 1 135 1 29 1-74 1 59 0 29 2-75 1 62 0-10 2-100 0-72 2 87 1-131 1 87 1-82 1 110 1 41 0-53 1-84 2 163 0 27 1-126 2 47 1 79 0-26 2-77 1-168 1 227 0-16 2-49 0 97 1-99 1 11 1 113 2-71 0 54 1-20 2 41 1 14 0-30 1 20 2-105 1-14 1 57 0-60 2 68 1-38 1 128 0-11 2-34 0 4 2-71 1 34 1-21 0-25 0 97 2-59 1 66 1-23 1 20 1-9 2-84 0 15 1-141 2 70 1 34 0 80 2 29 1 7 1-26 1 13 1-104 0 11 2-70 1 15 1-118 0 182 2 83 0-25 2-75 1-108 1 147 0 49 2-143 0 30 1 110 1-26 1 65 2-40 1 13 0 2 1-17 1 1 2-126 0-7 2 115 0 13 0 21 3 12 1-113 0 5 2 63 0-63 1-71 1 66 2 137 0 5 2-33 0 9 2-104 0-13 2-86 0-33 2 127 0 21 1 60 2-11 0-106 1 25 1-118 1 52 1 59 2-54 0 129 2 38 1-39 1-2 1 19 0-21 1-47 1-33 2 101 0-83 2 103 1-75 1 66 0-2 2-102 0 86 2-55 0-6 1-129 1 54 1 147 2-313 0 258 1 48 2 30 0 1 1-56 1 13 1-66 2 19 1-160 0 85 2 153 1-68 1 77 1 2 0-46 1 8 1-73 1 45 2-144 0 32 2 158 0 21 1-55 2 18 1-50 0-29 1 92 1 17 1-29 1 9 1 30 1-1 2-95 0 8 1-74 1 30 2-74 0 14 2 131 0 36 1-77 1 67 2-166 0-8 1 90 1-38 1-136 2 142 0 83 1-34 1-47 1 45 1 88 2-108 0 81 2-9 1-72 0-6 0-45 2 4 1 96 1-69 2 112 1-7 1-95 1 101 0-89 1 39 1 50 1-68 2 84 1 22 1-62 0 16 1-140 1-79 2 151 0-5 1 64 1-175 1 87 1-13 0 42 2-74 1 53 1-150 1 172 1-25 2 46 0 0 1 73 1-9 2-44 1-27 0 65 1 18 1 27 1-14 2-36 0 15 1-74 1 85 0-33 2 49 1-32 1 41 2-65 0-56 1 83 1-8 1-87 1 64 1-77 1-3 2 59 0 36 1-92 1-58 1 121 1-54 1 63 1 17 1-57 2 42 0-50 2-110 0 92 1-122 1 179 1-1 2-134 0 46 0-71 2 33 1 97 1-69 1 107 1-67 1 90 1-74 1-82 1-5 1 115 1-45 1 63 1 48 1-99 1-57 1 141 1 39 2-31 0 3 1-99 1 17 1 59 1-9 1 27 1 19 1-39 1-28 1 68 1 6 1-30 2-4 0-69 1-76 2 117 0-11 1-79 1 49 1 85 1-23 1-114 1 17 1 39 1-32 1-100 1 26 1 119 1-42 1 95 2 47 0-67 1 43 2-43 0-9 1-95 1-113 1 184 1 65 2-77 0-51 1 66 1-57 0 57 2-72 2 91 0-26 1-146 2 24 0 97 1 28 2 71 0-27 1-68 1 19 0-104 2-28 1 173 1-88 1 90 2 34 0-29 1-7 1-88 1-15 1 88 2-80 0 72 2-70 0 100 1-115 1 62 1 2 0 85 2 15 2-60 0-7 1-72 1 17 1 106 1-21 1-116 1-38 0 77 2 5 1-51 1 31 0 99 2-23 1 48 1-16 0 22 2-56 1 47 1 19 1-64 1 35 1-90 1 28 1-66 1-52 1 147 1-54 1 74 1-14 1-89 2 41 0-90 1 49 1 108 1-1 0-44 2 26 1-121 1-99 1 147 1 37 1-117 1 68 1 103 1-22 0-69 2 26 1 69 1-35 1 61 1-2 1-60 1 27 1-83 2-78 0 83 2 9 0-65 2 62 0 41 1 22 1-63 1 74 1 25 1-17 1 22 1-28 1 19 1 2 1-35 1 14 1 39 1 5 1-37 1-12 1 37 2 4 0 11 1-7 1-41 1-8 1-80 1-93 1 162 1 7 1-94 1 9 1 105 0-15 1-35 2 38 1-66 1-43 0 83 1 14 2 39 1-61 1-67 1 38 1 83 0-13 2-88 1 45 1-54 1 9 1 69 2 51 0-417 2 410 0-33 1 3 1-35 2-89 0 90 1 5 0-90 2 1 1 106 1 31 1-55 1 66 1-57 1-3 1 32 1-56 0 54 2-116 0 131 2-128 0 53 1-56 1 120 2-26 1-309 1 233 1-52 1 32 1 71 1 4 1-54 1-3 0 90 2-25 0 45 2-48 0 52 2-69 1 53 1-41 0 45 2-119 1 80 1-121 1 90 0 8 2-127 1 8 1 94 1-10 1-92 0-7 1 102 2-13 1-110 0 49 2 137 0-41 2 20 1-10 1 72 1-9 1-122 0-1 2 111 1-104 1 99 0-43 2 74 0-20 1-98 2 103 0-59 2 45 1 23 0 12 2-87 1 63 1-83 1 75 1-116 1 29 1-62 1 7 0-73 1-7 2 138 2 34 0-55 1 14 1 82 1-105 1 89 0-24 2-126 1 37 1 57 1-1 0 64 1-83 1-79 2-1 0 109 3 70 0-84 0 51 2-105 1 28 0-80 2 82 1 89 1-3 1-129 1 24 1 60 0-33 2 132 0 15 2-42 2 40 0-31 1 8 1-77 0 0 1-147 1 149 2-89 0 79 2-73 1-16 1 158 1-26 0 43 1-3 1-142 2-13 0 67 1-105 1 57 2 55 1-223 0 57 2 243" stroke="#998ec3"/>
<path d="M35 486l1 26 1 7 0-21 1 6 1 17 1-6 2-102 0-28 2-171 0 59 1 119 1-30 1-115 1 77 2 86 1-38 1 69 0 18 2-86 0-22 2 83 1 6 1 43 0-11 1-111 2-1 1 50 1-33 0 75 2-42 1-45 1-53 1 74 0-20 2 95 0-29 2-99 1 45 1-114 0-44 1 126 1 33 1-119 1 6 2 100 0 18 2 107 1-7 1 26 1-14 1-61 0-7 2-91 1-62 1 98 0 40 2-93 0 116 2-62 1-2 1 97 1-8 1-78 0 60 1-137 1 7 2 106 1 39 1-97 0 85 1 34 3 4 0-29 1-38 0 60 1 19 2-139 1 63 0-76 2 56 1 67 0-26 1 47 1 9 1-18 1 20 2-95 1 69 1-31 1-78 1 65 0 14 1-132 2-25 1 114 1 15 1-96 1-1 1 99 0 19 2 42 1-53 0 63 1-34 2-58 0 75 0-30 2 15 2-122 1-73 1 128 0-15 2 120 0-2 1-31 2-91 1 102 0 5 1-139 2-11 1 123 0-2 1 28 1-18 2-93 1-46 0 76 2-28 0 64 1-69 2 101 1 10 1-64 0 8 1-114 2 95 1-73 0 38 1-110 1 78 2 79 0 47 1 28 1 1 1-89 1 27 2-143 1 107 0-71 1 19 2 71 1-169 1 152 0 54 2-85 1 57 0-95 1 47 2-47 0-10 1 102 1-26 1 67 1-59 1 60 2-8 1 51 1 14 1-33 0 2 1 32 2-11 0-46 1-11 1-79 1 83 1-88 1 9 1 87 2-149 1 156 0 25 1 14 1-14 1-47 1 27 2 36 0-41 1 26 2-24 1 24 1 17 1-24 2 0 0-29 0 30 2-92 0-13 2 106 1-15 1-56 1 40 0-60 1 52 2-56 0 62 1-144 2 28 0 63 1-45 2 121 1-92 0 65 1-4 1-59 1 6 1 85 2-125 1 81 1 28 1-69 0-15 2 81 0 6 1 21 1-12 1-96 1-28 1 130 1-6 2-131 1-52 1 61 0 0 1 86 1-28 1-72 2 27 0-121 1 41 2 163 1 19 1-52 1 23 1-122 1 51 1 73 0-84 1 60 1-8 2-127 1 152 1-139 1 56 0 32 2-46 1 133 0-86 2 110 0-2 2-78 1-14 0-57 1 3 2 103 0-35 1 98 1-9 1-21 1 3 1-195 2 136 0 51 1-45 2 66 0-7 2-26 1-293 1 320 0-17 1 38 1-48 0-64 3-29 0 92 1-8 1 43 1-23 2-103 0 18 2-120 0 28 1 77 1-88 1 193 1-30 1-84 1-12 1 100 1-40 2-121 0-41 2 166 0-39 1 111 1-86 1-69 1 11 1 77 2-36 1-58 0 9 2 80 1 17 1-68 0 3 1 74 1-58 2 68 1-3 1 35 1-21 1 43 0 8 1-101 1 64 1-45 1 9 1 45 1-2 1-82 1 35 2-78 0 53 1-383 1 374 1-117 1-62 2 182 0 61 2-112 0-50 0 65 3 77 0-95 1 34 0 63 2-59 0 73 3-62 0 91 1-19 2-50 0-2 1 87 1-24 1-28 2 3 0 36 1-18 1-72 1 91 1-69 1 17 1-112 2-33 0 120 1 1 1 46 1-27 1 39 1 5 1-97 1 59 1-42 1 71 1-102 1 34 1-128 1 26 2 94 0 49 1-153 1-4 1 152 1-27 2-91 0-16 1 142 2-62 0 75 2-36 1-61 1-32 0 92 1-22 1-75 1-132 2 209 1-26 0 105 1 25 1-106 1-20 2 113 0-16 1 19 1-24 1-188 1 65 1 102 1 21 1-81 2-14 0 86 1 33 1-22 1 15 1-75 2-6 0 58 1-8 1-104 1 26 1 72 1 18 1-62 1 18 1 63 1-41 0 36 3-21 0-34 1-19 1 57 1-75 1 58 1-92 1 34 1 59 1-76 1 92 0-14 2 41 0 13 2-46 1 44 1-25 1-107 1-29 1 67 1-27 0 95 2-13 1-127 1 40 1-113 1-89 1 166 1 33 1 83 1-21 1-78 1 12 0-94 3 155 0-65 1 8 1 66 1-66 1 79 1-73 0 96 2-20 1-93 1-39 1 126 1-42 0 60 2-40 1-105 2-36 0 70 1 13 0 82 2-13 1 30 1-11 1 37 1-2 0-29 2-31 1 38 1 28 1-58 1 17 1 45 1-50 1-146 1 10 0 65 3-79 0 74 1-44 1 136 1 20 1-27 1 15 1-143 1 6 1 131 1-17 1-69 1 5 1 83 1 20 1-58 1-123 1 90 1-57 1 113 1-44 1 83 1-35 1 39 1-27 1 25 1-43 1 50 1 17 1-19 1 4 1-18 1 5 0 21 2-12 1-38 1-2 1 27 1-10 1 28 0-9 2-32 1 6 1-30 1 58 1-20 1 16 1-34 1 20 1-29 1 34 1-158 1-41 1 154 1-121 1 63 2-70 0 92 1-31 1 54 1-69 0 101 2-42 1-33 1-58 1 129 1-23 1-69 1 92 1-26 1-46 1 75 1 16 1-64 1 29 1-117 1 78 1-113 1 7 1 49 1-32 0 112 1-55 2 123 1-8 1-40 1 2 1-93 0 52 2-125 1-44 1 152 1-77 1 61 1 75 1-123 1-59 1 104 1-143 1 128 0 7 2 117 1-5 1-82 1-32 1 104 0-34 2-115 1 43 1 69 1-124 1 96 1-33 1 79 1 14 1-49 0 56 2-63 1 65 0-46 2 27 1-58 0 41 2-140 1 17 1 70 1 53 1-76 1-7 1 77 2-110 0 118 1 36 0-379 2 246 1 96 1-94 1 130 1 20 1-98 0 8 2 53 1-55 1 71 1-13 1-69 1-5 1 62 1 41 1-100 1 9 1-103 1 110 1-89 1 114 1-78 1 80 0 46 2-54 1-92 0-19 2 100 0 50 2-76 1-4 0 72 1 27 2-59 0 35 2 39 0-11 2 34 0-5 2-33 1-22 1 31 1-11 1-52 1 10 1-98" stroke="#542788"/>
<path d="M34 413l1 70 1-69 2 55 0-10 2-64 0 7 1-45 1-46 2 102 1-163 1 179 0-19 2 77 1 14 1-133 1-214 1 316 1-108 1 88 0-87 1-84 2-3 1 182 0-23 2 60 1 12 1-66 1-33 0-34 1 96 2-81 0 75 2-134 0 51 1 74 1-24 2-69 1-68 1 95 1 30 0-72 1 85 1-96 2 36 0 66 2-16 1-91 1 93 1-116 1 38 1 72 1 2 1-62 0 59 1-108 1 103 1 72 1 12 0-73 2 22 1-62 2 26 1-137 1-7 1 180 1-301 1 319 0-58 1-63 1 56 1-58 2 22 1 133 1-6 1 24 1-20 1-43 0-41 1 74 1-96 1-107 1 41 2 128 1-123 1 146 1-68 0 81 1-23 2-105 0 16 2 129 1 1 1-40 1-15 1-146 1 35 0 75 1-28 2 120 1-22 1-30 1-138 1 163 1-6 1 32 1-15 1 33 0 8 2-29 1 13 1-31 1-55 1 59 0-79 1 71 2-66 1 44 1 26 1-30 0 45 1-36 2-19 1 50 0-5 2-95 0-37 2 132 1-52 1-66 0-64 1 140 1-36 2-93 1 127 1-88 1 79 1-127 1 66 1-149 0 18 2 149 0-31 2 85 0-60 2 94 0-17 1-73 2 6 1 86 0-32 2 58 0-7 1-32 1-1 1-75 2 28 1-94 1 5 1 140 1-50 0 50 2-30 1-47 0 23 1 47 1-11 1-320 1 246 2 110 0-50 1 65 1-37 1-20 2 18 1-114 0-22 2 144 0-121 1 89 2-32 1-86 0 1 2 70 1 73 1-151 0 24 1 104 1 40 2-14 0-16 2-73 2 26 0-92 0 49 2-76 0 20 1 130 1-115 2 136 0 37 1-32 2 57 1-25 1 14 1-37 1 33 1-24 1-23 0 47 1-88 1 72 1-88 1 74 1-49 1-130 1 0 1 176 2 2 1-106 1 85 0-55 2 12 1-83 1 16 1 66 1-39 0 82 1 1 2 58 1-13 1-79 1-73 0 98 1 29 2-105 0-18 1 65 1 28 2 56 0-2 2 26 0 1 2-52 0 1 1-236 1 15 2 157 0-55 2 147 1-47 0 35 1-10 1-37 2-22 0 56 2-95 1 82 0 5 1 40 1-54 1 60 1 0 1-13 1 6 2-104 0-59 1-164 1 113 1 100 1-22 1 104 1 9 2-96 0 64 1-53 2 10 1 64 1-3 0-97 1 42 1 44 2 7 1-95 0 24 1-144 2 98 0-79 1-26 1 226 2-71 0-134 1 74 2 146 1-78 1 97 0-22 2-146 0 97 2-145 0 35 1 75 1-12 1-100 1 108 1-77 1 88 1-97 1 83 1 65 1-50 1-101 1 103 0-80 3-66 0 153 1-62 1 99 2-127 1 132 0-19 1-59 1-57 0 89 2-84 1 78 1 22 1-50 1 28 1-90 1 35 1 99 2-23 1-82 0-86 1 153 1-107 1 133 1-76 1 101 2 12 1-93 0 31 1-158 1 104 1 87 1-37 1 66 1-97 1 107 1 5 1 36 1-3 2-59 0 7 1-314 1 271 1 53 1 12 1-93 1 84 1-127 2 107 1-81 1 40 0-56 2-54 0 79 1-53 1 67 1 34 0-66 2-7 1 70 1 45 2-157 0 25 1 93 2-33 0 76 1-27 2-151 1-30 0 138 1 15 1-75 1 83 0-52 2-18 1-68 1 93 0 69 2-26 1 64 1-13 1-41 1-11 1-131 1 103 1-109 1 53 1 100 1-67 1 58 1-17 1 51 2-2 0-66 2 75 0-33 1 5 1-170 1 154 1-79 2-14 0 77 1 31 1-65 1-36 1 103 2-16 0 36 1-13 1-131 1-1 1 114 1-22 1-102 1 129 2-83 0 87 1-55 1-45 1 48 1-52 1 111 1-1 1-108 1 116 0-56 2-272 1 344 1 25 1-27 1 2 1-29 1 30 1-145 1 149 1-51 1 61 1-35 1 7 1-68 1 57 1-70 1 30 1 86 1-17 1-97 1 46 1 59 1-5 1-59 1-26 1-133 1 74 0 107 2-108 1 109 1 9 1 36 2-6 0-33 1 48 1-32 1-2 1-128 2 29 0 95 1-21 0 38 2-15 1-181 1 95 1-100 1 21 1 155 1 21 1-75 1 80 1-59 1 20 1-133 1 31 1-103 1 53 1 101 1-43 1 124 1-21 1-89 1 33 1-147 1 27 1 140 1-46 1 69 1-61 0-68 2 42 1 40 0 13 2-105 1 106 1-120 1-35 1 110 1 88 1-79 1 70 1-64 1 18 1-147 1-36 0 146 2-67 1 118 1-18 1 87 1 20 1-54 1-8 1 62 1-7 1-69 2 45 0-29 2-4 0-69 2-31 0 135 0-10 2-107 1 95 0 49 2-20 0-48 1 35 2 42 1 4 1-104 1 47 1-172 1 72 1-70 1 74 1 109 1-137 1 79 2 9 0-71 1-70 1 84 1-9 1 71 2-91 0 61 1-93 1 174 1-2 1 36 0-14 2-95 2 95 0-43 1-20 0 83 2-176 1 107 1-30 1-139 1 82 1 78 1-125 1 127 2 4 0 45 1 15 1-90 1-22 1 86 1-36 0 46 1-20 2-151 0-73 1 111 2 6 1 109 0 21 2-107 1 51 1-113 1 167 1-74 1-116 1 94 0-93 2 99 1-76 1 116 1-125 1 138 1-3 1-62 1-92 1 80 1 5 0-111 2 40 1 103 1-104 1 137 0-48 2 84 1-11 0-42 2 45 1-43 0 63 2-36 1 28 1-34 2 41 0-61 0-22 1-71 2 134 1-93 1 102 1-48 1 38 1 19 2-83 0 86 1 11 1-28 0 3 1 29 1 2 1-92 2-60 1 67 0-5 2 64 0 7 2-115 1-145 1 217 1-184 1 213 1 13 1-57 1 25 1-98 1-6 1 98 2 9 0 47 2 7 0-36 0-10 2-79 1 18 1-172 1 37 1 128 1-35 0 98 1-34 1 68" stroke="#f1a340"/>
</g>
<path d="M156.65 520.1V798.4" stroke="#222222" stroke-width="4.3" fill="none"/>
<path d="M156.65 798.4H531.25" stroke="#222222" stroke-width="8.2" fill="none"/>
<path d="M173.8 798.4v10.8M241.8 798.4v10.8M309.9 798.4v10.8M378.0 798.4v10.8M446.1 798.4v10.8M514.2 798.4v10.8" stroke="#333333" stroke-width="4.3" fill="none"/>
<path d="M145.2 792.4h11.5M145.2 722.9h11.5M145.2 653.4h11.5M145.2 583.9h11.5" stroke="#333333" stroke-width="4.1" fill="none"/>
<text transform="translate(135.7,804.8) scale(1.035,1)" text-anchor="end" font-size="35.6" fill="#4d4d4d">0.0</text>
<text transform="translate(135.7,735.3) scale(1.035,1)" text-anchor="end" font-size="35.6" fill="#4d4d4d">0.2</text>
<text transform="translate(135.7,665.8) scale(1.035,1)" text-anchor="end" font-size="35.6" fill="#4d4d4d">0.4</text>
<text transform="translate(135.7,596.3) scale(1.035,1)" text-anchor="end" font-size="35.6" fill="#4d4d4d">0.6</text>
<text transform="translate(173.8,845.2) scale(1.035,1)" text-anchor="middle" font-size="35.6" fill="#4d4d4d">2500</text>
<text transform="translate(241.8,845.2) scale(1.035,1)" text-anchor="middle" font-size="35.6" fill="#4d4d4d">3000</text>
<text transform="translate(309.9,845.2) scale(1.035,1)" text-anchor="middle" font-size="35.6" fill="#4d4d4d">3500</text>
<text transform="translate(378.0,845.2) scale(1.035,1)" text-anchor="middle" font-size="35.6" fill="#4d4d4d">4000</text>
<text transform="translate(446.1,845.2) scale(1.035,1)" text-anchor="middle" font-size="35.6" fill="#4d4d4d">4500</text>
<text transform="translate(514.2,845.2) scale(1.035,1)" text-anchor="middle" font-size="35.6" fill="#4d4d4d">5000</text>
<text transform="translate(343.5,497.5) scale(1.035,1)" text-anchor="middle" font-size="35.6" fill="#000" font-weight="bold">sigma[5]</text>
<g transform="translate(625.8,519.5) scale(.5)" fill="none" stroke-width="9.6" stroke-linejoin="round" stroke-linecap="round">
<path d="M34 375l2 80 1 12 1-68 0 4 1-37 1 55 1-52 1 45 2-77 1 25 1-74 0 6 2 159 0 6 2-148 1 25 0 117 1-63 0-52 2 39 1 79 2-29 1 19 1-9 1 59 0-20 1 26 2 7 1-31 0 20 2-29 0 1 1 37 2-35 1-67 0 69 1-49 2-61 1 97 1-56 1 68 0-19 2-146 1 21 1 101 0 41 2 37 0-5 2-45 0 9 2-166 0 1 2 99 1-15 0 66 2 26 1-27 0 6 2-99 1 116 1-58 1-18 1 75 0-29 2-68 0 22 1 56 2-64 1 95 0-37 1-169 1 91 1 86 2-32 1-87 0-43 1 111 1-147 2 217 1-9 1-45 1 16 1-65 1 97 1-98 2 38 0-76 0 19 2 134 1-1 1 13 1-14 0-42 1-34 1-63 2-75 1 84 0-89 1 89 1-6 2 92 0 7 2 53 1-20 1 23 1-42 1 34 1 16 1-25 0-7 2-110 0-53 1 56 2-89 1 110 0 73 2-69 2-37 0 110 0-32 2 40 1 26 0-26 1 11 2-146 1 45 1 107 1 7 1-26 0 7 1 32 2-7 1-34 0 7 2-28 1-59 1 60 0-22 1 36 1 4 1 41 1-1 2-53 2-55 0 58 0-93 2 114 0 19 1-50 1 25 1-54 1 2 2-117 1 63 0-54 1-25 1 70 2 63 1-96 0 47 1-60 1-41 1 63 1-27 2 166 0-9 1 23 2-52 1 41 0 3 1-25 1 11 1-39 2 54 1-108 2-47 0 115 0 14 1 48 1 6 2-27 0-6 2-331 0 307 2-82 0-53 2 159 0 21 2-49 0-9 2-102 0-53 2 183 1-23 0 36 1-57 1 38 1-32 1-76 1 119 2-128 1 109 1-139 1-28 1 117 0-41 1 87 2-20 1-68 1 93 1-85 1-124 0 114 1-14 2-118 0 63 2 79 0 40 1-71 2-91 1 109 0-39 1 113 2-61 0 51 1 22 2-112 0-12 1-44 1-15 0 78 2-6 2 96 0 11 2-75 0-25 1 134 1-92 2 89 0-10 2-36 1-53 0 87 1-14 1-39 1-16 2-92 0-25 1 68 1 7 0 76 2 11 2-41 0 58 1-138 1 6 1 132 1 18 2-85 0 18 1-49 2 113 0-35 2 67 1-89 0-44 1-111 1 166 1-81 2 28 1-124 0 13 1 131 2-181 0 143 1 44 1-106 2 104 1 83 0-3 0-106 2 80 2-112 0 21 1 113 1-85 1 97 1-8 2-72 0-14 1-86 1 44 2 122 1 15 1-93 0-16 1-112 2 125 1-74 1-10 1 92 1 57 0-95 1-34 1 42 1 7 2 105 0-5 1-51 1 23 1-171 1 75 1 80 2-26 0-75 1 99 1-114 1 80 0-51 3 17 1 56 0 11 1 54 1-37 2 73 0-33 2 13 1 11 1-30 0-28 1-107 2-12 0 129 1-98 1-141 1 113 1 117 2-11 0 64 1 0 2-133 0 16 1 42 1-5 1-58 1-43 1-155 1 98 1 100 1-77 2 136 1-95 0 96 1 0 1-52 1 74 0-60 2 22 0 51 2-36 1-146 1-10 2 160 1 63 0-42 1 11 1-125 1 160 2-47 0 11 1-43 2-18 0 50 2-26 0 50 2-93 0 78 2-46 0 80 2 8 1-27 0-23 1-53 1-17 1-97 1 78 1-40 1 17 1 112 1-4 1-137 2 47 1 59 1 0 0-209 1-5 1 185 2-56 1 72 1 38 0 33 1 3 1-71 1 77 1-26 1 5 1-101 1 99 1-338 1 264 1-128 1 240 1-48 1 15 1 46 1-2 2-122 0 2 1 57 1-94 1 84 1 31 2-97 0-84 1 191 2-105 0 61 1 44 1 33 1-14 1-29 1-2 1 38 1-6 1-55 1-42 1 81 1-2 1 36 1 4 1-38 1 1 1-97 1-3 0 119 2-44 0 32 2-35 1 23 1-104 0 61 2-66 1-99 2 109 0-128 1-22 1 117 1 48 1-104 1-30 1 124 1 9 1 83 1-14 0 41 2-23 1 32 1-7 1-40 1-10 1-103 1-46 1 87 1 16 1 62 1-3 1-70 2-60 0 90 2 17 0 41 1 0 1-44 1-21 1-73 1 79 1 32 1 0 1-50 1-3 1 70 1-26 1 37 2-17 0 23 1-110 1 94 2-101 0 94 2-61 0 62 1-82 1 122 1-2 0-45 2-2 0-129 2 53 1-71 1 110 1-129 1 74 1-55 1-15 1 51 1-85 1 187 1 5 1-49 1-28 1 105 1 19 1 22 2 6 0-383 1 374 1-67 1-16 1 53 1-17 1-118 1 20 0-193 2 241 1-84 0 51 2 86 1 5 1-31 1 7 1-75 1-1 1 78 1-47 1 53 1-1 1-85 1-15 1 65 1 3 0-112 3 23 0 108 2 51 0-53 1-74 1-103 1 113 1 55 0-63 2-97 1 45 1 139 1-60 0-77 2 122 0-75 2-88 1 186 1-8 0-74 2-89 1 175 1-18 1-60 2 36 0-68 1 52 1-85 2-42 0 97 1 0 0-66 1 30 1 87 2-25 1-74 2 71 0-67 1 112 1-85 1 18 1-47 2-151 0 116 0-33 1 115 2-72 1 147 1 5 1-132 0 18 2-86 1-8 1 123 1-20 1 55 1 51 1-34 1 52 1-47 1 13 1-51 0 4 2 95 1 12 1-22 1-11 1 32 0-9 2-130 1-68 1 80 1-82 0 125 1-40 2 73 1-18 1-101 1 8 1 37 1 39 1-120 1 71 1-101 1 66 1-107 0 124 2 107 1-23 1-165 1 71 1 107 0 7 2-78 1-72 1 77 0-29 1 84 1-64 2 74 1-32 1 61 0 0 1-34 2 16 1-66 1 38 0-61 2-41 1 123 1-81 1 104 1-26 1 27 0 14 1-107 2 72 1-155 1 53 1-64 0-4 1 132 2-56 1 69 2-80 0 82 1-68 1 51 0-4 1-133" stroke="#e66101"/>
<path d="M34 452l2-40 1-15 0 59 1-100 1 91 1 17 1-162 2 151 1-110 0-62 2 117 0-22 2 118 0 2 1-26 2-12 1 62 1 8 1-13 1-10 1-75 0 48 2-83 0 75 1-116 2 53 0 69 2-19 0 42 1-9 1-85 1 61 1 27 1 9 1-45 2-50 1 84 1-52 0-96 2 76 0-70 1 23 2 85 1 9 1 43 0 5 2-47 1-67 1 85 1-14 0-81 2 76 1-105 0 74 1-151 1 39 2 129 0 5 1-166 1 137 2-93 0 48 1 78 2-109 1 87 1 7 1-101 1 9 0 73 1-50 1 96 1-47 1-98 2-9 1 79 1 37 1-86 1-42 0 104 2 56 0-65 1 9 2 53 1 8 0-150 2 73 1-122 0 68 2 81 1-57 0 81 2 10 1-70 1 70 1-115 0 16 2 147 1-19 0 21 1-9 2-50 0 24 2-139 1-18 1 122 1 26 1 43 1-6 1-34 0 17 1-334 1 244 1 66 2-29 1-86 0 24 2 98 0-26 2-101 0 9 1 120 2-184 1-48 0 55 2 128 0 40 2-136 0 50 1 122 1-32 2-54 2-27 0 76 0 11 1-68 2 74 1-27 0-22 1 67 1-57 2 42 1 30 1-32 1 4 0 22 1-11 1-38 1-51 2-136 0 41 1 98 1-115 2 176 0-43 1-77 1-18 2 115 0-79 2 91 1 35 1-26 0-13 2-99 0-24 2 170 0 6 2-84 0 54 2-129 0-32 2 124 0 12 2-161 0 52 2 149 0 13 2-33 1 10 1-70 0 66 2-127 0 88 2-127 0-42 2 179 1 4 1-75 1 32 1 53 0-28 1-109 2 126 1-73 1-91 1 118 1 40 1-38 1-89 1 134 0 0 2-89 1-123 0 136 1-129 1 144 1-56 1 88 1 84 2-32 0 9 2-27 0-19 2-48 1-49 1 127 0 5 1-22 1 6 1 35 1-11 2-23 0 25 2-37 0-27 2-88 0-75 1 95 1-33 1 101 1 24 2-123 1 60 0-113 1-14 2 114 1-83 0 82 1-34 1-91 2 54 1 118 0-344 0 343 2 53 1-92 2 71 0-102 2-16 1 48 0-8 2 56 0-112 1 90 2-96 1 140 0 0 1-109 1 111 2-150 0 127 1-115 2 9 1-42 1-60 1 206 0 15 2-105 0 53 1-67 1 58 2-146 1 32 0 126 1 74 2-123 0 50 2 117 0 7 1-21 1 31 1-12 1 6 1-30 2 13 1-33 0-19 2-73 0-62 1 84 1-6 2 68 0 19 0 19 2-7 1 21 1-5 1-28 1 33 2-21 0 22 1-74 1 19 1-41 1 29 2-130 1 50 1-112 0 47 1 128 1-36 0-295 2 250 1 133 1-42 1 50 1-25 1-100 1 22 1 81 2-96 1 84 0-22 1-115 1-13 2 162 0 24 2-41 1-21 1-55 0 14 2-129 0-89 1 214 1-55 0 124 3-23 0 36 1-31 2 48 1-26 1 29 0-7 1 30 1-9 2 22 0 9 2-69 0 23 1-45 1-100 2 129 0-32 1 41 1-31 1-181 1 48 0 117 2-48 1 104 1-60 1 42 1-6 1 36 1-12 1-94 1-28 0 116 3-55 0 57 2-9 0 24 1-46 1 57 1-15 1-22 2 23 0-22 1-317 1 363 1-2 1-34 1 10 1-39 2 5 0-82 1-46 0 90 2 35 1-63 1 39 0 59 2-12 2-123 1-76 0 73 1-15 0 34 2-36 2-68 0 77 1 123 1-9 1-90 1 30 1-58 1 43 1-36 2-64 0 107 1-3 1-149 2 37 0 85 1-124 1 169 1-93 2 159 0-4 1-127 1 3 1 31 1-61 1 161 1-100 1 78 1-155 1 171 1-153 1 133 2 28 0-59 2 53 0-44 1 51 1-96 2 29 0-112 1 9 1 156 1-9 1-152 1-3 1 152 1 21 1 26 1-49 1 42 1-35 1 43 1-4 1-48 1 13 1-235 1-18 1 162 1 3 1-99 1 7 0 146 2-138 1 111 1-85 0 48 2-42 1 60 1-84 1 136 1-35 0 49 2-50 0 68 2-18 0 47 2-79 0 57 2-67 1 71 1 7 1-45 1-74 1 88 1 25 1-78 1-17 1 95 1-78 0 46 2-6 1-149 1 139 1-133 1 61 0 47 2 61 1-113 1-68 1 121 1 35 0-68 2 33 1 101 1 1 0-14 2 12 1-30 1-4 1-109 1 97 1-63 1 34 0-65 2 87 1-84 1 38 1-109 1 0 1 86 2-42 0 71 1-20 1 57 1-176 1 151 0-31 2 92 1-12 0-59 2-49 1 114 0-27 2-229 1-28 1 140 1 97 1-78 1 51 1-102 1 63 0 77 2 27 1-120 0 19 1-105 2 73 1 74 1 6 1 69 1-4 1-116 1-12 1 55 1-124 1 103 0-126 2 223 1-30 1-85 1-12 1 118 0-5 2-45 1 74 1-62 1 1 1-77 1 107 1-82 2 42 0 36 1 7 1-76 1-26 1 56 1 46 1-81 1 66 1-146 0 35 2 54 2-127 0 139 1 39 0-64 2 56 1-121 1-3 1 95 1-131 1 117 0-7 1 107 2-30 0-82 2-17 1 93 0-125 1 95 2-26 1 60 1-34 1 44 0-7 2-96 1 5 1-194 1 209 1-147 0-45 2 229 1-105 1 115 2-17 0-58 1 84 1-171 1 32 1 114 2-62 0 57 1-35 0 90 2-64 1 76 0-20 1-92 2 80 1-57 1 9 1-101 1 52 1 102 0-77 1 72 2-109 1 53 0-17 1 77 2 3 1-124 1 33 0-85 2 93 1-128 0 69 2 156 1 3 1-65 0 59 1-89 1-18 1-49 2 17 1 80 0 47 2 30 1 4 1-9 1 10 1-27 1 6 1 29 0-4 2-110 1 48 1 34 1 1 1-131 1-13 1 45 1-100 1 138 1-7 1 63 0-7 1-88 2-30 1 117 0 11 2-87 2-52 0 103" stroke="#998ec3"/>
<path d="M35 434l1-117 0-50 2 200 1-103 1 99 1-187 1 104 1-112 0 74 1-104 2 92 1-57 1 122 0-19 1 106 2-62 1 41 0 28 2-80 1 53 1-34 0 36 2-35 0 3 1 51 2-55 1 45 1 9 1-111 0 85 2-102 1 15 1 31 1-118 1 91 1-49 1 150 0-32 1 35 1-18 1 39 1-32 1 46 1-18 1-34 2-10 1 48 0 5 1-33 2 26 1-39 0 2 1-135 2 162 1-83 0-4 1 87 2-32 1-51 1-57 1 80 0-38 2-64 0-23 2 158 0 8 1-82 1 31 1-120 2 78 1-86 0 24 2 182 1 4 1-49 0 45 2-30 0-10 1-85 1 54 1 42 2-73 1 73 1 25 1-32 1-9 1-87 1 54 1-79 0 22 2-70 1 78 0-84 1 22 2 92 0-78 1 83 2-73 0-114 1 26 2 233 1-36 0 37 2-72 1 80 1-11 1-94 0-36 1 122 2-30 1-71 1-7 1 100 0 3 2-113 1 63 1-83 0-76 2 129 0-60 1 116 1-15 2-67 1-45 1 130 0-6 1-83 2 41 1-51 1-42 1 134 0-43 2 68 1-19 1 38 0-47 2-83 1-22 0 100 1-9 0 52 2 23 2-68 1-2 1-44 0-59 1 84 1-12 1-56 1 16 2-97 0 63 2 50 0 11 2 86 0-2 2-39 1-44 0 63 1-68 0 57 4-61 0 43 0-7 2 97 1 11 0-15 1 11 2-112 1-2 1 60 0 1 2-17 1-86 0 98 2-99 1 136 1 11 1-31 0-14 1 28 1-15 2-68 0-37 1 87 1-13 1-60 1 34 2 71 1-12 0 28 1-3 1-14 1-1 2-121 0 69 2-51 1-55 1 73 0 29 2 37 0 5 1-63 1 35 1 39 1-9 2-95 1 28 0-69 1-16 1 106 2-17 1-89 1 94 0-76 2 63 1-148 0 26 2 97 0-30 1-118 1 167 2-70 0 72 2 71 0 7 1-191 1 84 2 112 0-30 2 50 1 2 0 12 1-8 1-41 1-3 1-72 2 1 1-57 0-17 2 67 1 54 1-82 0-12 2 74 0-14 0 55 3-18 1-149 1 7 0-60 1-24 2 217 0-13 1-112 1-16 2 145 1-158 1 112 0-9 2 83 0-1 2-159 1-5 0 60 1-32 1 83 2-17 1-110 0-78 1 183 2-49 0 60 2 50 0-413 2 345 1 69 1-7 0-145 1 84 1 82 1-36 1-37 1-35 1 106 1-4 1 45 1-20 2-79 0-2 0 63 2-4 1 18 1-52 2 90 1-17 1-18 0 37 2-45 0-9 2-122 0 2 1 91 1-10 1-56 1 2 1-137 1 76 2 98 0-55 1 96 2-111 1 120 1 22 1-45 0 24 1 41 2-25 0-51 1 8 1 46 1 18 2-33 1-21 0 22 1 22 2 41 0-6 2-66 1-41 0 41 1-117 1 127 1-64 1-75 1 107 1-95 2 105 0-87 1-44 1 88 1-32 0 84 3-109 0 48 2 18 1-132 0 31 0 163 2-118 0 71 3-170 0 92 2-95 0 151 1-38 0 87 2-25 1-66 1-67 1 73 1-25 1 142 2-21 0-51 1 19 1-78 1-21 2 96 0-17 1 76 1 4 1-37 1 20 2 12 0 12 1-47 2 34 0-38 1-39 1 79 1-13 1 20 1 0 1 30 1-32 1-107 1 70 1-155 1-30 1 119 1 51 2-135 0 55 1 85 1-100 1 128 1-25 1 40 1-1 1-63 1-15 0 57 2 12 2 46 0 7 1-40 1 20 1-50 1 23 1-60 1-20 1-45 1-149 1 159 1-181 2 226 0-54 1 43 2 77 0-86 1 65 2-112 0-15 1 106 1-21 0-67 2 47 2 91 0-4 1 28 1 10 0-53 3 30 0 24 1-33 1-32 1 17 1-62 1-48 1 86 1 15 1-61 1-11 0 84 2-114 1 118 1 1 1 23 1 3 1-58 1-17 0 63 2-74 1 68 2 4 0-74 1-103 1 70 1-39 1 113 1 25 1-68 1 58 1-112 2 56 0-57 1-17 1-105 1 46 1 71 2-10 0 61 1-91 1 127 1-41 1-140 1 145 0 65 3 2 0-51 1-25 1 74 1 0 1-102 1 86 1-28 1 0 1-39 1 67 1-162 1 67 1-131 2 181 0-79 1-66 1 127 1-67 1 115 2 12 0-58 1 51 1-78 1-26 1-101 1 72 1 78 1 20 1 74 2 8 0 22 1 17 1-35 1-2 1-96 1-23 0-113 1 84 2-178 1 25 1 143 1 95 0-102 1-26 1 142 2 12 1-131 1 57 1-131 1 44 1 145 1-295 1 300 1-10 0-105 2 53 1 89 2 38 0-35 1 3 0 34 1-11 2-56 1 13 1-232 1 50 1 141 1-88 1 112 1-65 1 88 1-91 0-96 2 26 1 135 1-5 1-78 1 39 1 87 1 16 1-27 1 5 1-114 1 26 1-32 1 114 1-126 1-61 1 143 1 7 1 54 0-13 2-72 1 18 1-73 1 74 1-106 1 114 1-85 1-4 1-80 1 58 1 145 0 5 2 58 1-4 1-34 1 2 1-60 0 29 2-116 1 58 1 81 0 5 2-62 1 40 1-61 2 88 0-48 1 5 1-97 1 32 1 94 1-2 1-69 0-83 1 114 2-68 1 102 2-35 0-89 1 3 1 119 1 15 1-54 1 2 1-56 1-44 1 41 1 16 1-69 1 135 1 37 1-21 1 28 1-2 1-47 1-328 0 346 1-21 2 71 1-11 0-27 2 8 0-52 1 32 1-54 1 17 2-124 1 103 1-79 1 14 0 43 1-19 2 51 1-91 1 106 1-44 0 62 2-121 1 119 1-23 1-182 0 137 1-48 2-53 0 88 2-32 0 73 2-32 1 29 1-11 0 66 2-70 0 56 1-9 2-104 1 5 1 128 0-16 2 61 1 8 1-29 1-14 0 30 2-25 1 21 1 6 1-41 1 0 1-72" stroke="#542788"/>
<path d="M34 368l2-59 1 178 1-27 1-26 1 60 0-2 1 34 2-5 0-25 2-24 1 40 0-26 2-43 1-15 0 32 2-55 1 52 0 7 1-171 2-28 1 105 1-3 0-99 2 91 1-90 0-20 1 116 1-18 1 90 1-54 2 89 1-6 1-82 0-11 2 94 0-14 2 48 1-28 1-19 1-75 0 69 1-37 2 77 1-32 1 39 1-22 1 23 0-14 2-115 0-11 2 108 1-21 1 41 0-23 2-109 0-35 1 160 1-66 2 36 0-63 1 120 1-63 1-101 2 110 1-95 0 48 1-175 2 178 1-76 0-67 1 146 1-153 1 180 2-111 1-80 0 75 2 64 0-54 1 116 2-103 1 106 0-64 1 102 1 3 2-139 1-27 0 126 1-80 1-52 2 32 1 100 1 15 1-56 0-95 2 123 0-61 1 77 1-24 1-71 2 34 1 65 0 25 2-106 0-4 1 73 1-44 2-115 0-15 2 209 1-25 1-122 0 60 1-51 1-34 2 106 1 38 1-89 0-29 2 34 1 62 1-52 1 64 1-68 0 9 2 91 0 7 2 27 1-12 0-67 2-33 1 76 1 10 1-44 0 31 2-41 1 55 0-36 1 28 1-31 1 12 1-49 1 26 1-112 2-7 1 137 0-11 2-79 0 47 1-127 1 94 1 92 1-11 1-97 1 69 2 34 0-11 1 54 1-30 2-202 0 17 1 52 2 44 1-80 2 106 0-40 0 34 1-139 1 17 1 106 2-166 1 86 0-12 2 111 0-16 2 69 0-40 1 60 1-15 1-97 1 30 2 80 0-31 2-60 0 34 1-76 1 37 2 84 0-70 2 79 1-59 1 63 1 28 1-114 2-25 0 95 0 18 1-37 1 22 2-140 0-2 1 107 1-93 2 153 0-3 2-24 1 26 1-45 0-58 1 100 1-10 1-44 1-4 1 49 2-11 1-169 1-28 1 74 0 34 1-46 2 17 1 95 2-46 0 52 0 12 1-33 1 42 1 24 1-13 1-54 1-20 2 50 0 22 1 26 1-15 2-107 0 41 1-169 1 58 1 174 1-8 2-100 0 10 2 110 0 11 2-170 0 13 1-67 2 58 0-34 1-21 2 183 0-11 2-102 0 8 0 70 2 27 1-40 1 59 2-100 0 57 2-73 1-60 1 161 0-158 2 137 0-48 1 109 1-41 1 47 2-30 1 26 0 4 1-24 2 20 0-29 1 5 1-72 1-11 2 63 1 2 1-93 0-12 2 110 1-7 1-35 0 37 1 57 1-27 2-73 1 5 0-87 1-62 2 105 0 60 2-85 0 4 2-118 0-16 2 102 0 41 1-104 2 146 0-57 1 25 1-95 2 87 1-48 0-101 2 120 1 72 0-285 1 248 0-95 2 87 1-174 1 62 0 106 2-47 1 58 1-16 1-57 1 105 2 52 0-22 1-109 1 100 1-43 1-3 1 65 1 20 1-71 1-19 2-109 0 145 1-79 2 24 1 80 0-5 2-176 0 25 1 176 1-102 1-96 1 61 1 135 1-9 2-124 0 28 1 75 1-19 1 65 1-1 1-65 1 37 0-101 2-18 1 148 1-26 1-35 2 11 0-54 2-45 0 134 1-42 1 77 1-27 1-64 1 24 2 69 1 5 0-12 2 11 0-27 1-1 1-88 1 53 1-119 1-25 1 123 1 33 1-78 1 79 1-25 1-41 1 91 1-62 2 73 0 11 1-66 1 1 1-75 1 122 2-42 0 15 1-64 2 56 0-62 1 5 1-109 1 23 1 136 2-119 0 59 1-46 1 53 1-59 1 155 2-143 0 48 1-27 1-70 1 73 1-185 1 176 1 123 1-18 1-40 1 44 1-98 1 76 1-57 1 23 2-91 0-65 1 155 1-45 1 117 1-17 1-67 1 73 1-149 1-19 0 117 2-102 1 142 2-108 0 67 1-42 1 78 1 49 1-58 1-70 1 110 1-13 1-122 1-13 1-119 1 59 1 207 1 16 1-92 1 18 1-66 1 22 0 66 2-95 1 91 1-88 1 135 1 9 0 19 2-8 0-23 2 12 1-53 1 11 1-109 1 4 0 75 2-95 1 77 1-52 1 105 1 6 1 36 1-12 1-34 1-22 1 81 1-43 1 35 1-43 1 25 1 2 1-75 1 52 1-49 1 37 1-90 2 99 0-126 1 14 0-57 3 7 0 77 1-14 1 99 1 4 0 32 2 4 1-135 1 32 1-42 1 34 1-45 1-57 1 149 1-96 1 63 1-21 1-42 0 42 2-87 1 53 1 141 1-7 1-54 1-86 1 131 1-59 1 61 1-10 1-9 0-3 2-89 1 63 1-61 1 6 1 65 0 17 2-69 1 14 1-75 1-44 1 130 0-3 2 93 1-23 1-54 2 26 0-78 0 42 2-98 1 52 1 103 1 9 1-54 0-33 2 79 2 6 0 8 1-25 1-98 0-59 2 130 1 9 0 56 2-12 1-41 0-8 2-87 1-67 1 69 1-84 1 77 1-62 1 203 1-12 1-96 1-85 1 168 0 4 2-64 1 31 1-122 1 73 1 92 1-119 1 94 1-47 1-49 1-25 0 84 1-46 1-185 2 18 1 95 1-7 1 83 1 9 0-72 2 74 0 108 1-14 2-55 1-32 1 62 2-17 0-61 0-1 1 100 2-40 1 36 1-39 1-46 1-10 0-45 2 48 1 58 1-24 1-91 2 31 0-96 1 82 1-87 1-16 1 76 1-152 1 181 0-43 2 100 1-52 1 109 1-42 1-128 1-38 1 133 1-28 1 84 0-3 2 40 1-23 1-90 1 34 1-116 0 19 2 155 1-162 1 137 1-88 1 76 1-11 1-111 0 63 1 84 2-60 1-74 0-53 2 146 1-35 1 85 2 13 0-84 1 26 1-64 1 27 1 95 1 21 1-115 1 11 1-69 0-13 1 102 1-30 2-46 0 59 2-109 0-38 2 179 1 47 1 14 0 4 1-44 1 0 2 52 0 0 2-41 1 11 1-71 0 61 2-135" stroke="#f1a340"/>
</g>
<path d="M625.8 520.1V798.4" stroke="#222222" stroke-width="4.3" fill="none"/>
<path d="M625.8 798.4H1000.4" stroke="#222222" stroke-width="8.2" fill="none"/>
<path d="M642.9 798.4v10.8M711.0 798.4v10.8M779.1 798.4v10.8M847.2 798.4v10.8M915.3 798.4v10.8M983.4 798.4v10.8" stroke="#333333" stroke-width="4.3" fill="none"/>
<path d="M614.3 789.9h11.5M614.3 717.6h11.5M614.3 645.3h11.5M614.3 573.0h11.5" stroke="#333333" stroke-width="4.1" fill="none"/>
<text transform="translate(604.8,802.3) scale(1.035,1)" text-anchor="end" font-size="35.6" fill="#4d4d4d">0.0</text>
<text transform="translate(604.8,730.0) scale(1.035,1)" text-anchor="end" font-size="35.6" fill="#4d4d4d">0.2</text>
<text transform="translate(604.8,657.7) scale(1.035,1)" text-anchor="end" font-size="35.6" fill="#4d4d4d">0.4</text>
<text transform="translate(604.8,585.4) scale(1.035,1)" text-anchor="end" font-size="35.6" fill="#4d4d4d">0.6</text>
<text transform="translate(642.9,845.2) scale(1.035,1)" text-anchor="middle" font-size="35.6" fill="#4d4d4d">2500</text>
<text transform="translate(711.0,845.2) scale(1.035,1)" text-anchor="middle" font-size="35.6" fill="#4d4d4d">3000</text>
<text transform="translate(779.1,845.2) scale(1.035,1)" text-anchor="middle" font-size="35.6" fill="#4d4d4d">3500</text>
<text transform="translate(847.2,845.2) scale(1.035,1)" text-anchor="middle" font-size="35.6" fill="#4d4d4d">4000</text>
<text transform="translate(915.3,845.2) scale(1.035,1)" text-anchor="middle" font-size="35.6" fill="#4d4d4d">4500</text>
<text transform="translate(983.4,845.2) scale(1.035,1)" text-anchor="middle" font-size="35.6" fill="#4d4d4d">5000</text>
<text transform="translate(812.6,497.5) scale(1.035,1)" text-anchor="middle" font-size="35.6" fill="#000" font-weight="bold">sigma[6]</text>
<g transform="translate(1115.3,519.5) scale(.5)" fill="none" stroke-width="9.6" stroke-linejoin="round" stroke-linecap="round">
<path d="M35 459l1 43 1-25 1 37 1-23 1-68 0-19 2-52 1-90 1 136 0-2 2 71 1-68 1 72 0-17 1 25 1-28 2 46 0-8 2-50 0-8 2-137 1 116 1-112 0-9 1 96 1-57 2-106 0 32 1 159 1-8 2-77 0 44 1 83 2-104 1 99 0-15 2-125 1-32 0 40 1-31 2 115 1-185 0 102 2-64 1 108 0 20 2-120 0 60 1 133 1-16 2 66 0-16 2-79 0-66 1 90 2-105 1 108 0-4 1 64 1-29 2-46 1 52 1-30 0-12 1-134 2 169 0-49 2 18 0-35 2 9 0-70 1 101 1-32 1 24 1-125 1 88 1-61 1 65 2-68 1-70 0 79 2-12 0 89 1-52 1 78 1-33 1-92 2 111 0-75 1-327 0 412 3-101 1-87 1 8 1 68 0-46 1 72 1-71 1 55 1-3 1 94 2-32 1-64 0 115 1-20 1 26 2-66 0 35 1 25 1-44 2-112 0-16 1 78 1 64 1-161 2 52 1 130 1 21 1-50 0-9 1-267 1 199 1-67 2 88 0-46 2 64 1-57 0 4 1 114 1-87 1 96 2-12 1-53 0 38 0 29 2-5 2-143 0-18 2 181 0-46 1 30 1-35 2-103 0-21 2 134 0-115 2 118 0 9 1-116 1-42 2 94 1-71 1-51 0-2 1 142 2-170 0 207 2-10 0-115 2 68 1-95 1-14 1 78 1 35 1-72 0 12 1 129 2-87 0 80 2-92 1 65 1-98 1 78 1-55 1 79 1-43 1-140 1-11 1 91 1-28 0 77 2-28 1 98 1-6 1-93 0-30 1 140 2-141 0 45 1-17 1 42 1-53 2 135 0-4 1 36 1-45 1 34 2 16 1-43 1 9 1-38 1 69 1-63 0-11 1 56 2-129 1 119 1-5 0-43 1 54 2-99 0 117 1-28 1 5 1 19 1-19 2-189 1 19 0 77 2-4 0-104 1 134 1-72 1-32 0-64 3 121 0-52 2 43 1 126 1-103 0 139 1-6 1-36 1 3 2-170 0 72 1-56 1 120 2-148 0 45 1-119 1 84 1 124 1-1 2-154 0-74 1 132 1-18 1 118 1-117 1 147 1 2 2-193 1 1 0 85 1 15 1-45 2-39 1 171 0-99 1 116 1-4 1-52 1-16 2 79 0-18 0 39 2-22 1 24 1-12 2 16 0 8 2-40 0-4 1 42 1-37 2 34 0 9 2-66 0-55 1-120 1 31 1-67 1 125 1 113 1-27 1-46 1 52 1-134 2 124 0-89 1 67 1-101 1 20 1 89 1-52 1-89 2-20 1 78 1 70 0-142 1 148 1-93 1 18 2 122 0-7 2-320 0 285 1-79 2-28 0 87 1-23 1-115 2 32 1 64 0-39 2 120 0 36 1-30 1-9 1-38 1 55 2-112 0 84 1-115 1 121 1-54 2-41 1 135 0-100 1 82 2-71 0 77 2 20 1-96 0 67 1-98 1 79 2-126 0 136 2-157 0-7 1 89 1 10 0-95 2 128 2-101 0-29 1 177 1-1 2-173 0 43 2-73 1-51 0 95 1 3 1 82 1 57 1-83 2 74 0-39 1-4 0 71 3-134 0 113 2-12 0-51 1 41 1-200 1 66 1 148 1-47 0 48 3-123 1 114 0 14 1-68 2-54 0 66 1 1 1-73 1-14 0 116 2-94 1 115 1-90 1 107 1 5 1-116 1-67 1 186 1 4 2-78 0-17 1 72 1-1 1 36 1-335 1 291 1-58 1 76 2 16 0-87 1 81 1 79 1-7 1-24 1-7 1-112 1 44 2 52 0-23 1-72 1 52 1-87 1 88 1-125 1-4 0 63 2-51 1 168 1 1 1-63 1 5 1-118 1-56 1 198 1 10 1-177 2 55 0 73 1 11 1-67 1 11 1-130 2 37 0 52 2-1 0-89 1 113 1-182 1 108 1 58 1 109 1-119 1-12 1 71 1 7 1-36 2 69 0-51 1 6 1 74 1-1 1-100 1-21 1 99 1-73 1 122 1-24 1-137 1 132 1-97 2-10 0 98 1 16 1-46 1 42 0-83 2 64 1-100 1-53 1 162 1 31 1-86 2 50 0-83 1 93 1-43 1-22 1-81 1 1 1 73 1-48 1 83 1-65 0 88 2-96 1 108 1-5 1 60 1-33 1-96 2-43 0 124 1-47 1-123 2 44 0 114 1 6 1 35 1-17 1-36 1 13 1-115 1-38 0 89 2-90 1 125 1-84 1 152 1 24 1-191 1-33 1 127 1 5 1-95 0-35 1 138 2-93 1 171 1-18 1-51 2 60 0-33 1-13 1-304 1 161 1 99 1-63 1-72 1 45 1 63 1 95 1-63 1-59 1 136 1-27 0 35 2 20 1-49 1 36 1-38 1 8 1 32 1-43 0 36 1-27 2-97 1 41 1-123 1 141 1-87 0-73 2 134 1-69 0 125 3-92 0 67 2-25 0 68 1 26 1-52 1 21 1-49 1-69 1 98 1-19 1-126 1-96 1 140 1 66 1-117 1 108 1-170 1 54 1 148 1-10 1 99 1-25 1-89 1-32 1 66 0 29 2-54 1 9 1-31 0 87 1-42 3-323 0 380 1 11 1-63 1 30 0-46 1 11 1 35 2-11 1-88 1-51 1 138 1-90 1 115 1-22 1 39 1 4 1-30 2 14 0 19 1-48 1 32 1 4 1-38 1 22 1-40 1-4 1 25 0-20 2-62 1 38 1 44 1-7 1-125 0-15 2 139 0-16 2-167 1-6 0 96 1-29 2 54 0-43 1 99 2-148 1 78 0 23 2 64 1 2 1-44 1 8 0 43 2-47 0-107 2 66 1 71 1 19 1-67 0 34 2-130 1 106 1 54 1 16 1-40 1-78 1 63 1-28 1 38 1-103 1 113 1-29 0-32 1 43 2 32 1-7 1 34 1-4 1-55 1 21 1-85 2 78 0-64 0 6 1-101 2 105 1-122 0 5 2 85 0-79 1 114 2-212 1 194" stroke="#e66101"/>
<path d="M36 443l0-62 1 68 0-45 2 70 1-118 0 52 2-191 0-41 2 235 0 30 1-244 1 51 2 192 0-6 1-82 2 30 0-93 2 179 1-112 1 56 0-116 1-4 1 101 2-100 1 117 1 27 0-90 2 78 0 54 1-8 2-23 0 26 2-109 1-23 0 77 2-77 1 60 1-20 0 83 2-21 0-117 1 134 1-85 2 23 1 45 1-30 1 43 1-99 1 126 0-21 2-37 1-9 1 71 0-11 2-65 1-27 1 53 0-26 2-108 0 138 1-108 2 17 1 95 0-6 2 38 1-13 1 10 0 4 2-213 0-14 1 59 1-11 2 108 0 29 1-167 1 6 2 60 0 81 1-93 2 13 1 78 0-32 2 78 0-9 1-85 1-49 1 91 3-109 0 97 1 79 0-51 1 30 1-82 1 41 1-174 2 49 1 159 1-4 1-164 0 137 1-44 2 69 1-137 1 106 1-126 0 10 1 56 1 65 1-100 2 63 1-89 0-34 2 59 0 46 1-138 1 48 2 211 0-4 2 47 0-10 2-17 0-4 2-43 0-6 2-135 1-3 1 100 0-1 2-115 0 21 2-83 0 57 1 48 1-50 1 94 1-53 1 102 2 12 1-152 1-79 1 122 1 34 1 82 0-5 1-110 1 89 1-95 2 112 1-145 1-59 1 122 1-72 1 131 0 18 1-78 1 4 1-97 1 125 1 97 1-52 1 39 1-6 2-89 1 44 1-53 1-75 1 149 0-2 2-117 0 30 1 96 2-95 0 70 2 47 1-128 1-77 1 157 1-17 1-42 0 63 2 66 0-3 2-165 0-21 1 65 2 83 0-101 2 58 1 43 0-45 1 44 1 0 1-78 1 58 0-65 2-40 2 76 0-20 1 123 2-26 1-29 0-23 1-120 1 7 2 129 1-191 0 132 1-118 2 73 0-4 2 128 0 7 2-124 0-4 2 126 0 33 1-43 2 6 1-42 0 7 2-113 1 83 0-111 1-9 2 153 1 7 0-82 1 86 2-20 1-17 1 33 1 22 0-38 1-40 1 65 1-70 1-176 2 94 0 67 1-41 1 133 1-97 2-58 1 151 0-112 1 89 2-142 0 92 1 95 1-25 1-49 2 66 1-46 0-38 1 72 1-16 1-86 1-45 2 98 0-2 1 89 2-52 1 47 0 2 0-69 2 47 2 17 0-20 2 49 0 7 2-39 0-17 1-122 2 75 1-131 0-16 2 80 0-29 1 88 1-18 1 88 1-39 2 49 0 21 2-102 0 31 2-118 0-40 1 132 1-72 2 121 0-8 2-198 0 4 1 106 2-75 1 62 0 19 1-98 1 137 1 56 1-20 1 25 1-23 0-75 2-10 0-55 2-4 1 106 1 63 2-135 1 84 0-116 1 8 1 121 1-26 1-103 1 62 1-85 1 24 1 131 1 4 1-87 1-11 1 87 1 31 1-71 1 36 1-104 1-46 2 130 1-30 1-103 0-4 1 71 2 21 1-61 1 54 0-77 1 63 2-105 0-41 1 173 1-53 1-150 1 126 1 171 2-9 0 35 1-18 1-37 2 14 1-39 0 30 1-106 1-4 0 113 3-69 0 81 1-10 0 27 2-10 2 37 0-12 1-31 1 0 1-100 1 14 1 96 1-13 1 48 1 2 1-15 1 3 1-77 2-10 0 53 1-29 1 48 1 10 2-17 0-51 1 62 1-38 1-85 1 4 2 69 1-14 0 54 1 7 1-14 1 17 1-152 1 49 1-102 1-9 1 86 1-120 1 71 1-21 1 153 2-116 0 108 1-103 2 101 0-76 1 98 1-86 1 86 1 10 2-49 0-45 1-71 2-73 0 109 1-26 2 146 0-27 1-96 1 50 1 102 1-166 2 160 0-8 1 38 1-24 1-125 1 53 1 41 1-46 1 61 1 11 1-149 1-45 0 117 2-88 1 52 1 66 1-105 1 10 1 101 1-105 1 64 1-90 1 76 1 18 1 90 1-48 1-104 1 11 0 91 3 24 0-89 1-80 1 78 1 37 1-81 1 5 1 74 1-55 1-63 1 78 1 94 1-64 1-50 2 8 0 71 1-1 1 58 1-2 1-166 1 116 1 31 1 14 1-155 1 36 1 84 1-69 1 107 1-62 1 52 1-15 1-97 1 2 1-124 1 23 1 174 1-22 1-93 1 18 0-106 2 41 1 143 1-19 1 82 1 15 1-38 1-11 1-93 1-23 1 101 1 45 1-80 1-20 1 98 2 20 0-78 1 17 0-23 2 51 1-151 1 22 1 96 1-92 0 140 2-60 0-97 2 128 1-88 1-83 1 176 1-59 1 87 2 12 0-45 1-13 1 46 1-34 1-79 1 66 1-58 1 5 1-142 1 45 1 102 1-62 1 66 1 53 1-78 1 47 1-133 2-26 0 78 1 49 1-48 1 44 1-119 1 115 1-91 2 212 0-27 1-12 1 49 1 11 1-25 1-13 1-57 1-147 1 136 2-21 0-89 1-54 1 104 1 50 0-14 3-34 0 80 1 4 0 41 2-15 1-160 0 19 2 75 1-62 1 102 1 38 0 29 2 3 1-20 1-7 1-21 1-6 1-174 0 33 1 137 2-143 0 137 1-81 1 102 2-109 1 171 1 9 1-47 0-46 2-151 2 86 0-83 1-88 1 112 0-15 2-103 1 70 1 125 1-123 1 110 1 63 1-106 1 15 1 78 1-97 1 88 0-47 2 106 0-37 1-96 2 117 1-87 1-15 1 69 1 20 1-122 1 37 1 103 1 0 1-30 0 34 2-82 1 80 1-127 0 18 2-101 1 74 1-70 1 29 1 128 1 78 1-40 1-1 1-138 1 133 1-79 1-48 1 94 0-23 1-101 2 5 1 111 1 32 1-50 0 26 2 92 1 6 1-54 0 24 2-95 1-16 0-60 2 61 1 66 1-34 1-112 0 15 2 147 0 26 1-43 1 22 1-86 2-138 1 145 0 39 1-154 2 139 1-82 1 50 1-142 0 72 2 128 1 16 1-126 0 26 1-120" stroke="#998ec3"/>
<path d="M35 437l1-188 1 67 1-68 1 160 1-93 0 24 2 143 0-6 1-31 2 49 1-28 0-10 2-195 1 6 1 123 1 4 0-54 1 95 2-152 1 66 1 99 1-6 1 37 1 8 1-31 0 8 2 57 1-16 1-46 1 20 1-70 1-7 1-118 0 1 1 88 1-75 2 110 1 47 1 29 1 2 1 29 0-29 2 26 1-14 1-25 0 15 2-42 0-39 1 64 2 24 0-47 2 48 1-60 0 31 2-48 1-45 0 74 1-66 2-111 0 31 1 89 2-7 1-38 0 3 2 111 0 8 2-155 0-6 2 163 0 0 2-55 1 60 1-21 1 25 1-15 0 7 2-35 1 23 1-90 1 60 1-88 0 15 2 117 0-15 1-125 3 99 0-288 0 293 2-88 1-146 1 146 1 35 1-155 0 14 1 112 1-83 2 127 1 63 1-54 0-65 2 106 0 9 2-94 1-5 0 110 2-21 1-127 0-1 1-51 1 38 1 157 1-89 1 74 2-38 1 35 0-11 2 39 0-8 0 24 3 17 1-31 1 6 0-27 1 15 2-43 0 4 1-93 2 127 1-107 1-2 1 69 0 22 2-158 0 135 1-83 1 92 2-118 1-98 1 150 0 4 2-133 0 29 2 142 0-5 1-128 1-19 1 127 1 38 1 64 2-11 1-54 1-47 0 82 2-18 0-47 1 20 2-117 0-26 2 69 0-38 1 74 1-41 1 114 1-75 1 83 1-30 1 43 1-40 2-127 0-37 1 167 1-43 1-85 2 19 0 90 2-140 1 144 0-35 1 58 1 5 1-204 2-19 1 105 0-9 1 87 1-114 2 142 0-51 2-92 0-14 1 161 1-25 1-85 2 87 1-89 0 24 0 41 3-118 1 58 0-19 2 125 0-78 1-73 1 67 1 106 1-12 1-75 2 34 1-84 1 25 1-130 0 28 1 118 1-10 1-89 2-15 1 103 0 15 1-102 2-18 0 161 1-19 2-118 0 78 1-55 1 48 1-88 2 117 1-42 1 87 1-61 0 9 1-94 1-26 1 116 2-7 0-76 2 78 0-80 1 102 1-94 2-87 1 116 0-31 1-57 1 7 2 211 0-82 1 98 2-21 0 53 1-57 2-126 1-44 1 105 0-40 2 129 0-4 2-186 0-12 2 115 1 4 0-84 1 18 2 95 0 4 1 46 2-37 1-114 0-14 1 101 1-163 2 89 0 19 2 90 0 41 1-94 1 85 1-76 1-45 1-50 2 38 1 94 0-76 1 102 2-165 0 105 1-3 2 106 0 2 1-25 2 16 1-34 0-4 1-139 1 17 1 58 1-44 1 98 1-80 1 76 2-44 0 64 1 9 2-44 0 10 1 31 2-92 1 109 0-4 1 26 1-20 1-68 1-41 1 91 1-34 1 60 1-60 2 49 0-20 2-65 0 47 1-172 1-8 1 65 2-57 1 65 0-1 2 120 0 24 2-73 1 40 1-64 0-44 1 78 1-46 1 69 1-6 1-103 1 91 2 63 1 11 0-34 2-42 1 98 0-10 1-35 1 15 1-52 1 54 1-52 1 10 1 64 1 8 1-15 1 2 2-35 0-3 1 58 1-10 1-23 1 20 2-37 0-16 1-99 1-1 1 110 1-194 1 176 1 24 1-65 1 49 1-116 1 12 1-45 1 87 1-64 1 107 1-85 1 70 1-123 1-78 1 105 1-29 1 100 1-54 1 118 1-68 1 68 1-27 1 41 1-39 1 49 1 9 1 42 1-46 1-125 1 24 1-76 1 147 1-61 1 54 1-84 1-33 2 99 0 3 1-147 1 0 1 149 1-16 0 49 2-3 1-60 2-15 0 49 1-7 2 47 0-3 1-56 2-109 0 101 1 3 1 64 1-55 1 47 2-26 0-35 2-91 1 104 1 15 0-91 1-21 1 101 1-40 1 74 2-85 0 46 1-102 1 69 1-99 0 156 3-159 0 84 1-202 1 156 2 1 0-65 1 59 1 115 1-64 1 68 1-27 1-181 2-49 0 127 1-53 1 113 1 13 1-126 1 9 1 51 1-11 1 168 1-17 1 47 2-23 0-41 1 8 1-128 1 64 0-102 2-11 1 159 1-73 1 86 1 30 1-90 1 11 1-81 1 31 0 123 2-84 1-72 1-9 1 107 1-25 1-277 1 249 1 91 1-15 1-117 1 132 1-78 2 35 0-41 2 82 0-37 1 9 1 66 1 0 1-88 1 21 1-140 1 136 1-106 1-9 0 67 2-31 1-72 1 36 1 56 0-1 2 94 1-34 1-249 1 192 1 70 0-11 1-106 2-31 1 90 1-18 1-70 0 44 2 99 1-119 0 76 2-47 1 148 1-3 1-88 1-31 1 69 1 17 1-145 1 42 1-134 2 166 0-79 1 57 1 89 1-95 1 130 1-15 1-98 1 14 1-92 1-71 1 156 1 65 1-63 1-70 1 148 1-108 1 97 1-24 1-85 1 41 1-79 1 149 1-138 1 51 0 84 2-4 1-95 1 81 1-84 1 116 0-39 2 50 1-121 0-60 2 96 1 8 0 37 2 17 1-141 0 72 2 83 1-15 1 56 1-6 1-51 0-40 2-139 1-54 1 106 0 115 2-126 0-61 1 118 2-89 1 159 1-95 1 110 1-72 1 59 1-68 1 98 1 18 1-24 0 27 1-72 3 13 0 21 1 44 1-35 1 9 1-52 1-69 0-67 2 141 1-105 1 123 1-62 2 80 0-112 1-19 1 126 1-70 1-108 1 50 1 99 0-7 2-52 1 3 1 100 1-87 1 104 0-16 2-37 0-31 1 83 2-33 1 49 1 5 1-52 1 16 1-47 1-81 1 109 0-5 1-62 2-47 1 150 1 13 0-36 2 32 1-32 2-24 0 40 1-17 1-122 0 39 2 98 1 12 1-40 1-2 0 21 1-25 1 40 1-17 2-87 1 33 1-114 1-127 1 272 0 27 2-122 1-3 1-37 1 37 1 126 0-9 2-112 1 65 1-46 1 38 1-89 0 11 1 32" stroke="#542788"/>
<path d="M35 355l1 55 0-88 1 115 1-54 2-85 1 59 1-96 1-61 0 146 1-45 1 107 2 22 1-96 1-21 1 43 0 54 2-138 1 92 1-77 1 86 1-126 1 23 1 75 0-42 1 108 2-65 1 70 0-54 1 124 2-52 1 33 0-31 2 63 1 16 1-22 0-21 1-34 2 11 0-110 1 25 1 116 3-57 0 46 1-8 1-76 1-118 0 80 1-109 2 101 1-21 0 131 1-88 2-46 0-9 2 105 1-6 0 78 2-30 1-75 0 21 1-80 1 36 1 97 2-100 1-109 0-67 2 127 1-61 0 99 1-82 2 171 1-120 1 112 1-73 1 122 1-44 1 26 1-35 0 63 1-81 1-112 1-11 2 98 1 20 1-94 0 4 1 125 1 1 2-131 1 26 0 79 1 2 2 40 0-35 1 48 1-10 1 40 1 11 2-26 0-12 1 14 1 19 1-16 2 7 1-31 0 0 1-108 1 57 2 57 0-18 2 47 0-17 1-57 1-12 1-101 1 128 1-131 1 79 1 64 1-13 2-107 0 52 2 84 1-53 1 44 0-23 2-74 1 47 1 45 0-8 1-72 2-32 1 100 1 17 1-93 0 23 2 64 1 2 1-64 1 40 1-131 1 62 0-165 1 64 1 177 1-120 1 33 1-29 1 72 2 72 1-148 1 37 1-61 0 60 2 76 0-7 1 53 1 0 2-114 1-5 0 85 2-3 1-60 0 38 2-111 1-77 1 141 0 26 1 48 2 19 1-83 0-11 1-120 2 170 1-131 0 3 1 197 1-63 1 42 2-24 1 49 0-4 2-127 1-160 1 147 0-8 1 78 1-11 2 55 0-32 1 48 2-18 1-54 0 0 0 40 2-29 1 62 1-24 2-163 0-27 2 113 0-96 1 114 1-26 2-71 0 37 1-79 1 41 1 129 2-90 1 36 0-10 1-47 1-8 1 116 2-53 1 91 0 26 1-27 1-12 1-75 2-56 1 93 0 12 2-74 1 9 0-52 1 51 2-50 0-18 1 143 2-32 0 60 1-19 1-105 1 133 2-101 0-22 1-63 1 3 2 108 0-10 2 100 0-17 2-97 0 12 0-91 3 89 1-40 0-2 1-93 1 89 0-62 2 13 1 87 1-9 1-143 1 28 1 84 1-23 1 84 1-56 0-73 2 11 2 78 1-91 0 115 2 86 1-117 0-58 2 124 0 76 2-72 0 21 1 22 2-24 1 43 1-40 0 43 1-48 1 56 1-18 2-122 0 79 2-93 1-59 1 114 0-117 1 134 1-36 1 51 1 34 2-59 0-127 2 183 0 5 1-70 2-65 0 87 1 34 2-177 0 52 1 171 1-124 1-84 1-24 1 132 1 32 2-97 0-40 0 105 3-56 1 107 0-31 1-150 1 132 1-64 2 62 0 57 1-24 1-89 1-19 1 103 1-53 0-36 2-17 2 158 0-3 0-18 2-2 1 51 2-8 1-32 0 5 1-56 1 43 1 38 2-17 1-74 0 22 1-116 1 37 1 56 1-60 1 146 1-58 2 53 0-2 1-74 1-23 1 97 1 3 1 28 1-14 0 24 2-34 1-50 2 19 0 29 1-21 1-106 1 70 2 45 0-6 1 33 1 10 1-37 1 52 2-57 0-39 1 58 2-8 0-25 1-13 1 25 1 12 1-46 2 6 0-46 1-16 1-135 1-22 1 194 2-78 0 110 1-15 1-151 1 51 1 162 1 3 0-59 2 80 1-355 1 335 1-58 1 15 1-127 2 21 0-101 1 50 1 68 1 55 1-91 1 78 2 80 0-5 1-44 1-19 1-103 1 36 2-93 0-19 1 244 1-39 1-106 2-100 1 128 0-1 1 95 1-12 1-62 2 39 1-112 0-40 1 188 1-83 0 98 2-19 1-86 1 13 1-61 1-41 1 100 1-22 1 75 1-50 0 49 2 48 1-36 1 35 1-47 1-14 1-58 1 53 0-62 2-65 1 182 2-30 0 30 1-19 1 73 1-11 1-50 1-19 1-88 1 74 1-58 1 10 1-56 2-130 0 126 1 88 1-87 1 39 1 91 1-60 1-45 1-42 1 63 1-90 1-103 1 149 1 71 1 3 1 86 1-12 1-56 1-99 1 139 1-122 1-114 1 94 1 52 1 7 1 144 1-36 1 48 1 8 1-82 1-30 1-125 1 10 1 104 1-147 1 103 1 50 1-122 1 10 0 130 2-150 0 84 2-10 1 144 1-25 1 45 1-20 1-44 1-15 1-66 1 32 1-132 1 76 1-58 1 0 1 114 1-58 0 90 2-8 1-120 1-69 1 183 1-52 1 54 0-49 2-108 1 134 1-136 1 71 1-116 0 43 2 125 1 49 1-85 1 65 1-141 1 43 1-96 1-6 1 109 1-20 1 128 1 11 1-87 1-79 1 178 1 0 1 47 1-37 1 42 1 1 1-64 1 32 1-48 0-14 2-203 1 25 1 195 1-13 1-149 2 154 0-40 1 66 1-198 1 44 1 124 2-133 0 142 1 36 1-30 1 52 1-15 1 19 1-69 1 5 1-71 1 13 1 44 0-2 2-107 1 10 0 117 2-29 1-78 1 87 0-57 2-3 1 107 1-11 1-85 0-6 2 137 1 5 1-56 0-4 2 52 0-9 1-80 2 15 0-117 2 123 1-146 0 10 2 135 1-126 1 177 0-29 2-151 1 43 1-111 1 34 0 166 1-60 2 80 1 19 1-65 2-115 0 109 0-58 2 74 1-27 0 56 2-55 1-53 0-12 2-67 1 30 1 80 1-119 1 104 1-64 1 115 1-68 1 54 1-20 1-86 1 79 1 88 1 29 0-73 2 19 1 37 0-10 1-135 1 28 2 149 1-1 1-133 1-11 1 85 1 60 1-51 2 12 0-20 1 32 1-57 1-109 1 173 1-5 1-104 0 32 2-80 0-51 1 86 1-8 2 88 0-23 1-73 2 37 1 73 1 21 1-56 0-41 2 116 1-1 1-56 0 35 2-85 0-36 2 105 2 23 0-40" stroke="#f1a340"/>
</g>
<path d="M1115.3 520.1V798.4" stroke="#222222" stroke-width="4.3" fill="none"/>
<path d="M1115.3 798.4H1489.9" stroke="#222222" stroke-width="8.2" fill="none"/>
<path d="M1132.4 798.4v10.8M1200.5 798.4v10.8M1268.6 798.4v10.8M1336.7 798.4v10.8M1404.8 798.4v10.8M1472.9 798.4v10.8" stroke="#333333" stroke-width="4.3" fill="none"/>
<path d="M1103.8 791.3h11.5M1103.8 716.3h11.5M1103.8 641.4h11.5M1103.8 566.4h11.5" stroke="#333333" stroke-width="4.1" fill="none"/>
<text transform="translate(1094.3,803.7) scale(1.035,1)" text-anchor="end" font-size="35.6" fill="#4d4d4d">0.0</text>
<text transform="translate(1094.3,728.7) scale(1.035,1)" text-anchor="end" font-size="35.6" fill="#4d4d4d">0.2</text>
<text transform="translate(1094.3,653.8) scale(1.035,1)" text-anchor="end" font-size="35.6" fill="#4d4d4d">0.4</text>
<text transform="translate(1094.3,578.8) scale(1.035,1)" text-anchor="end" font-size="35.6" fill="#4d4d4d">0.6</text>
<text transform="translate(1132.4,845.2) scale(1.035,1)" text-anchor="middle" font-size="35.6" fill="#4d4d4d">2500</text>
<text transform="translate(1200.5,845.2) scale(1.035,1)" text-anchor="middle" font-size="35.6" fill="#4d4d4d">3000</text>
<text transform="translate(1268.6,845.2) scale(1.035,1)" text-anchor="middle" font-size="35.6" fill="#4d4d4d">3500</text>
<text transform="translate(1336.7,845.2) scale(1.035,1)" text-anchor="middle" font-size="35.6" fill="#4d4d4d">4000</text>
<text transform="translate(1404.8,845.2) scale(1.035,1)" text-anchor="middle" font-size="35.6" fill="#4d4d4d">4500</text>
<text transform="translate(1472.9,845.2) scale(1.035,1)" text-anchor="middle" font-size="35.6" fill="#4d4d4d">5000</text>
<text transform="translate(1302.1,497.5) scale(1.035,1)" text-anchor="middle" font-size="35.6" fill="#000" font-weight="bold">sigma[7]</text>
<g transform="translate(1604.85,519.5) scale(.5)" fill="none" stroke-width="9.6" stroke-linejoin="round" stroke-linecap="round">
<path d="M35 450l1 41 1-46 0 44 1-39 2-97 1 68 1-163 0 69 1 112 2-3 0 30 1 16 2-35 0 8 2-137 1 82 1 68 0-5 2-101 1-63 1 54 1-21 0 75 2-11 1-195 1 53 0 145 1-73 1 125 2 11 1-101 1 13 1-190 0 4 2 87 0-16 2 109 1 45 1 44 1-74 1 49 0 10 2-107 0 98 2 61 0 6 2-76 1 53 1-65 2-144 0 140 1-2 1-53 1 42 1-79 1-21 0 181 1-52 2 59 1 19 1-21 0 4 2-81 0-64 1-99 1 45 2 154 1 26 1-46 2-314 0 404 1-3 0-21 2 26 1-10 2-17 0 18 0-3 1 27 1-9 2-31 0-25 2-80 1 40 0-125 2 81 1-93 0 30 1-99 1-88 2 317 2 29 0-44 0-97 1 128 1-105 1 83 2-7 1-36 0-44 2-69 0 85 1-97 1 20 2 119 1 0 1 55 1-7 1-85 1-86 0 70 1 47 2 65 0-4 2-85 0-15 2 125 1-12 0 27 2-21 1-60 2 48 0-19 0-25 1 40 2-64 1 110 0-3 2-45 0 5 1-90 2 86 0-32 1-23 1 53 1-65 2-135 0-79 1 241 2-39 1 69 0-10 1 33 1-13 2 41 0-14 1 29 1-24 2-37 0 33 2-133 0-139 1 109 1-29 0 173 2-40 2-141 0-11 1 130 1 13 1-106 2 7 1 122 0-30 2-120 0 103 1-182 2 178 1-112 0 23 2-95 1 185 0-112 1 95 2 115 1 3 1-15 0-17 1-44 2 7 1 54 1-22 0 27 1-25 1-106 1 16 1-69 1 31 1 78 1 6 1-121 1 32 2 93 1 11 1-112 1 37 0-105 1-28 1 126 1-32 1 77 2-115 1 201 0-21 2-193 0 74 1 83 1 24 1-119 2 120 1 36 0-18 1-33 1-15 1-359 1 359 1-110 1 3 1 124 2-151 0 86 1-79 2 137 0 7 0-101 2-37 1 176 2 10 1-35 1-25 0 35 1 27 2-24 0 23 2-88 0-133 2 76 1-71 1 97 0 17 2-201 0 8 2 172 0 4 1 58 1-146 2 96 0-97 1 153 2-116 1 105 0-3 1-210 1 45 1 169 1-144 2 118 0-41 0-63 3 38 1 127 0-11 2 37 1-34 1 29 0-9 2-30 0-6 1-286 1 86 2 126 1-84 1 152 1-48 1-152 0-118 2 240 0-26 2-74 0 79 2-117 0-59 0 140 2-38 1 192 1-130 2 95 0 36 1-119 2 74 1 48 0 24 2-60 1 38 1-54 0-96 2 80 0 61 1-153 1-116 2 236 1 25 0-110 1-6 2 91 0-28 1 89 1-47 2-215 0-44 2 191 0-54 1 71 1-61 1 111 1 8 1-123 2 170 1-80 0-3 2-139 0 87 2-91 0-111 1 213 2 78 1-129 0 6 1 109 1-18 2-143 1 64 0-85 1 13 1 160 1-4 1-158 1-7 1 91 1-2 1-87 2 10 0 149 1-6 1-93 1 55 2-166 1 104 0-161 1 65 1 133 1-96 2 186 1-50 0 63 1 28 2-190 0 10 1-82 1 150 1-155 1 100 1 114 1-44 1 132 1-26 1-48 1 34 1-166 1 20 1 76 2-114 0 156 1-57 1 64 1-24 1 55 2 26 0-61 1 27 1-138 1 52 1 68 1-14 1-154 2 73 0 88 1 36 1-118 2-60 0 68 1 62 2-109 0 117 1-155 1 27 1-125 1 55 1 187 1-85 1 54 1-146 1 117 1-78 1 92 1-93 1 160 1 0 1 49 2-41 0 35 1-135 1 110 1-68 1 69 1-7 1-100 1-1 1 75 1-74 1-76 1-20 2 177 0 0 0-88 2-35 1 101 1 58 2-184 0 23 1 144 1 12 1-29 1-61 1 100 1 26 1-44 1-21 1 36 1-6 1-137 1 70 1-103 1 30 1 141 1-8 0-82 2 42 1-165 1-98 1 175 1-18 1 114 1 5 1 62 1 3 1-95 1-2 1-102 1 149 1-143 1 21 1 76 1-89 1 115 1-18 1-99 1-110 1 230 1-94 0-97 2 157 1-154 1 44 0 167 2-36 1-106 2 19 0 139 1-13 1-77 1-31 0 93 2-15 1-55 1 7 1 86 1-21 1 28 1-8 1-135 1 41 1 74 2-169 0 143 1-99 1 88 1-78 1-112 1-21 1 171 1 46 1-206 1-47 1 111 1-53 1 141 1-60 1 69 1-80 1 84 0-44 2 130 1-43 1 62 1 5 1-81 1-84 1 137 1 0 1 29 1-28 1-24 1 22 1-114 1-106 1 201 1-4 1 64 1 19 1-52 1 25 1-32 1-3 0-80 1 54 2-220 1 83 1 116 1-27 1-118 1 97 1-96 1-16 1 124 1 16 1-92 0-3 2 144 1-7 1-129 1 10 1 61 0 53 2 65 1-30 1-123 1 92 1 57 0-51 2-177 1 102 1-107 1 5 1 79 0 48 2 101 1 0 1-54 1-69 0 98 1-106 2 130 1-10 1-35 1 43 1-188 1-27 1 201 1-72 1-143 1 90 1-137 1 37 0 108 2-185 1 259 0-83 2-59 1 116 1-151 1-30 1 103 1-83 1 129 1-16 1 113 1-35 1 43 0-82 2-95 0 51 1 113 2-6 1-131 1-95 1 191 1 2 1-107 1-81 0 91 2 79 1-175 1 77 1 143 1 18 1-30 1 35 1-46 1 23 1-105 1 105 1-84 1 86 1-167 0-4 1 79 2-62 1 75 0 2 2 107 1-8 1-50 1 18 1 38 1-139 1 94 1-23 1 69 1-1 1-79 1-61 1 106 1-92 1 90 1 6 1-37 1 32 1-57 0 42 2-148 1 2 1 200 0 0 2-93 0 57 1-135 2-19 1 141 0-15 2-137 1 3 1 161 1-12 1-122 1-17 1-102 0 37 1 197 2-143 0 155 2-203 1 105 1-62 1 101 0 21 2-74 1 102 1-129 0 27 1 121" stroke="#e66101"/>
<path d="M35 190l1 129 1-3 1 120 1-111 0 111 2-195 1 145 0-27 1 65 2-74 1 49 0-58 1 102 1-90 1-111 1-3 2 216 0-21 2-121 0 31 2 131 1-7 0-44 2 72 1-210 1 92 0-81 2-16 1 83 0-2 2 80 0-18 2-106 1-34 1 127 1 58 1-86 0 48 1-59 1 35 2-104 0 108 2-83 1 85 0-100 2 127 0-359 3 313 0 98 0-17 2-87 0-24 1 73 1-58 1-56 2-44 1 122 0-53 1-81 1 88 1 114 2-22 0 25 2-27 1-42 0 26 2-110 1-59 1 167 0 26 1-36 1 45 2-83 0-5 1-131 1 50 2 78 1-113 0 79 2-45 1 120 0-8 2 77 0-15 1-38 2-42 0 78 1-20 2-117 0-49 2 122 1-31 0 45 1-16 2 64 0-48 1-94 1 42 1-136 1 46 2 184 0 11 2-83 0 19 1-91 2 19 1 76 0-65 1 108 2-44 0 59 1-40 2 66 0-4 2-60 1 44 1-35 0-26 2-127 0-53 2 273 1 8 1-19 0 25 2-48 1-14 1-86 0 57 1 44 1 0 1 46 2 4 1-30 0-6 1-94 2 105 1-66 1-86 0 94 1-130 1 130 1-66 1-126 2 29 1 199 0-2 1-132 1 117 1-58 1 40 1-152 2-15 1 71 0 66 1-58 1-15 1-65 1-34 2 39 0 50 1 143 2-17 1-87 0-38 2-109 1-62 1 175 0 16 1-173 2 105 1 119 0 49 2-109 0 81 2 56 1-73 1 79 1-35 1-62 0 48 2-92 1 68 1-165 0 60 1 164 2-33 1-127 0 10 2 57 1 49 1-167 1-30 0 154 1-23 1-272 1 193 2 125 0-8 1-99 1-13 2 145 1-9 0 47 1 20 2-133 1 50 0-83 2-118 1 98 0-53 1 187 2-80 0 129 1-31 2-189 0-92 1 170 1 6 1-167 1-42 1 226 2-134 1 63 0-42 1 124 1 42 1 60 1-11 0-59 2 18 1-216 1 60 2 83 1-88 1 63 0-3 1-139 2 58 1 118 0 9 1-114 1 88 1-99 1-6 1 102 1-15 1 91 1-55 2-108 0-125 2 179 0 19 0-83 2 53 2 182 1 0 1-56 1 65 1-103 0-110 1 104 1-19 1-98 1 3 2 147 1 20 0-129 1-8 2 179 0-24 2-119 0-33 1 108 2 34 1-122 1 30 0-100 1 45 2 149 1-131 1 39 0 100 1-178 1-40 1 106 2-38 1 144 0-25 0-102 3-52 0 199 2-18 0-75 1-25 2 116 0 13 1-61 1 37 1 35 2 8 1-63 0-26 1-155 1 109 1-199 1 105 1 162 2-65 1 105 0-15 2 61 1-19 1 34 0-38 2 32 1-53 1 34 0-18 1 39 1-20 2-141 1-52 1 124 1 27 1-48 1-49 1 63 1 20 0-28 1-6 2-143 0 16 1-90 1 98 1 188 1-43 0 44 2-49 1 39 1-45 2 55 0 21 1-32 1-90 1 70 2 34 1-117 0 85 1-138 2-81 1 248 0-4 1-24 1 35 1-69 1-9 2-180 0 129 0-87 3 200 0-42 1 73 2-71 0-39 0 53 3-13 0-72 1-106 2 218 0-31 1 36 1-7 1-49 1-15 0 99 3-7 0-33 1-18 1 37 1-5 2-63 0 43 1-177 1-7 1 141 1 48 0-35 2 52 1-59 1 2 1-202 2 127 1-87 0-24 1-55 1 70 1 189 1 19 1-92 2-49 0 76 1 19 1-213 1-93 2 348 1-1 0-37 1 25 1 34 1-23 2 37 1-44 0 38 1-10 1-32 1 22 1-23 1-34 1 71 1 9 1-66 1 63 2-46 0-14 1-125 2-14 0 84 1-126 2 94 0-10 1 99 1 23 1 61 1-18 1-69 1 14 1-71 1 98 1-71 1 17 1-143 1 68 1 78 1 26 1-79 1 61 1-75 1 112 1-97 2-62 0 59 1-46 1 105 1-75 1-115 2 62 0-132 1-12 0 184 2-9 1-114 1 107 1-66 1-23 1 207 1 10 1-145 1 9 1 138 1-24 1-103 1-21 1 179 1-26 1-147 1-107 1 166 1-84 1 130 1-65 1 98 1 13 1-87 1 113 1-41 1 46 1-36 1-12 1-98 1 118 1-66 1 41 1-106 1-1 1 127 1-8 1-71 1-103 1 105 1-30 1-99 1-31 1 75 1 23 0 156 2-135 1 94 1-22 1-182 1 141 1 85 1-22 1 61 1-44 1 43 1 0 0-69 1 47 2-164 1-35 1 109 1 32 1-103 1-247 0 377 2-28 1-110 1 103 1-101 2-121 0 125 1-22 0 105 2-132 1 116 2-128 0 83 1-84 1 190 1-4 0 33 2 7 1-39 1 24 1-44 1-123 1 162 1-1 1 37 1-9 0-22 2 4 1-121 1 33 0 69 2-81 1 144 1-65 1 42 2 9 0-45 1-28 0-110 2 61 1-116 2 166 0-130 1 35 1 85 1-20 1-86 1-11 1 89 1 61 1-136 1-27 0 100 1-71 2 150 1-18 1-91 1-60 0 146 2-101 1 147 1 25 1-79 0-67 1-105 2-34 1 191 1-56 1 77 1-19 1 33 0-1 2-129 1-150 0 72 1-46 2 147 1-78 1 116 1 60 1-129 1 105 1-107 1 60 1-146 1 15 1 137 0 72 2-50 1-60 1 93 1 8 1-104 0 82 2-125 1 174 1-102 1-57 1 159 0-7 2-223 1 155 1-120 1-11 1 118 0 33 2-115 1 50 1-134 1 27 0 64 2 46 1 144 0 7 2-140 1 8 1-60 0 7 2 95 0 1 2-102 1 31 1 135 2-38 0-89 0-70 2 85 1-36 1-70 1 104 1-121 0 51 1 174 2-56 0-115 1-4 2 146 1 3 0-87 2 65 1 74 0-20 2-62 0 10 2 78 1-32 1 49 1-11 1-47 0-3 2 41 0-9 2-141 0 126 1-73 2 106 1-78" stroke="#998ec3"/>
<path d="M35 423l1-113 1 33 0-69 2 142 1-153 1 4 0-155 1 157 1 96 1 9 1 71 1-46 2 87 0-14 2 37 0-27 2-128 1-26 1 123 1-67 1 84 0 2 2-248 0 53 2 181 1-82 1 95 1-19 1-70 1-103 1 168 1 6 0-65 2-111 1 99 0-4 2-77 1-40 1 84 1 74 1-102 0 91 2-91 1 41 1-68 1 16 1 176 1 28 1-41 0 15 1-161 1 43 2-112 0 76 2 157 0 1 2-84 1-72 1 122 0-8 1-199 2 195 1-77 1-85 1 163 0-36 2 59 1-50 1 79 1-37 1-134 0-79 2 155 1 64 1-102 0-43 2 163 1-37 0 38 1-67 1 79 2 12 1-37 1 5 1-39 0 6 1-103 1 148 1-60 1 50 2-157 1 121 0-97 2 109 1-138 0 4 1 139 2-137 1 125 0 8 2-107 0-36 1-106 2 47 1 79 0 46 1 79 1 18 2-51 0-5 2 86 1 9 1-26 0-13 1-157 2 65 1-100 1-26 0 102 1 78 2-212 1-66 1 102 1 27 1-135 0 33 2 149 0 47 2-127 1-35 1 138 1-8 0 60 2-211 1 162 0-55 1 144 1-129 2 158 0-27 1-118 1 124 1-171 1 138 1-55 1 78 2-168 0 49 1 63 1-71 2-144 0 180 2-113 0-65 2 239 0 40 1-68 1-14 2 82 0-12 1-154 1 123 1 79 1-56 2-106 0 29 1 110 1-27 2 34 0-36 2-129 1-29 1 137 1 70 1-141 0 94 2-186 0-15 1 143 1-91 1 110 1 16 2 36 0 19 2-92 0 38 0 50 2-31 2-174 0 13 1 132 1-109 1 151 1-54 1-226 1 138 1 128 2 23 1-153 0 59 1 112 2-31 1-78 1 11 1-79 1 129 1-97 0-36 2 145 0 35 2 49 1 7 1-24 0 4 2-12 0-49 1 38 1 19 1-43 1-3 1 45 1-5 2-61 1 17 1-115 1 23 1-135 0-38 2 154 0 80 1-161 2 27 0 93 2-131 1 171 1-25 1 69 0-13 1-101 1 56 2 57 0 8 1-39 2-404 0 461 1-8 2-239 0 1 2 192 0 23 2-140 0-23 1-141 1 247 1-134 1 63 2 153 0-10 2-146 0-33 1 163 1-93 1 87 2 19 0-42 1-28 2-186 0 91 2-112 0 74 2 188 0-11 2-34 0-8 1 90 1-111 2 75 1-44 0 26 1-47 2-69 0 77 2-128 1 76 0-71 1 169 1-87 2-4 1 116 0 7 2-59 1-100 0 148 2-17 1-74 1 72 1-119 0-8 1 127 2-101 1 92 1-26 0-133 2-16 1 82 1 85 1-130 1 54 0-160 1 41 2 188 0 20 1-97 2 97 1-143 0 117 1-138 2 82 1-101 1 53 1 105 0-59 2-76 0-57 1 251 2-2 0-47 2 3 0 23 1 3 1-44 1 35 1-131 1 123 2-152 0 11 0 106 2-84 0-70 2-48 1 70 1 125 1-68 2 112 1-161 0-15 0 159 2 0 1 42 1-33 1-72 1-21 1-95 1 11 1 148 1 13 2-178 0 49 1 79 1-125 1 173 1 53 2-84 0 29 1-127 1-4 1 110 2-55 0-134 1 84 0 121 2-188 1 163 1-15 0 92 2-27 1-154 2-71 0 120 1-32 1-81 1 2 1 141 1-114 1 99 1 10 2-66 0 55 1 117 1 45 1-53 1-52 0 39 2 17 0-32 2-21 1 48 1 2 1 55 1-59 1-144 1-58 1 158 1-109 0 117 2 57 1-49 2-92 0 133 1-128 1 110 1-13 1-101 2 79 0-74 1-3 2-174 0 87 1 129 1 57 1-86 1 103 1-229 1 175 1-117 1 183 1-216 1 68 1 131 1-4 1 30 1-21 1-117 1-7 1 151 1 25 1-161 1 14 0 85 3-7 0 79 1-39 1 21 1-30 1 18 1-81 1 77 2-20 0-75 1 54 1-111 1 19 1 98 1-84 1 131 1-23 1-119 1-261 1 273 1-88 1 233 1-3 0-22 3-36 0 40 1-7 1-30 1 20 1-25 1-71 0 87 2 4 1 32 1 4 0 17 2-33 1-179 1-35 1 106 1-26 1-139 2 6 0 127 1-116 1 229 1-33 1 69 1-1 1 16 1-10 1-42 1-10 1 36 1 11 0-50 3-2 0-51 1-58 1-90 1 93 1 151 1-65 1-132 1 35 1-122 1 116 1-66 1 86 1-139 2 219 0-133 1-79 1 101 2 100 0-86 1-11 0-46 2 28 1 153 1 5 1-122 1 26 1-150 0 12 2 241 1 11 1-69 1 41 1 59 1 4 1-26 1-44 0 63 2-14 1-51 2-49 0-72 1-6 0 54 2-58 1 63 0-20 2 135 1-18 1 23 1-40 1 44 0-11 2-211 1-38 1 131 1-118 0 93 1 9 1-128 2 81 1 122 1-37 1 74 0-111 1 93 2-53 1-139 1 183 1-78 0-48 2 118 1-9 1-108 1 17 1 101 1-84 1 93 1-195 1 158 1 15 0-112 2-51 1 137 1-18 1 132 1 23 1-52 1 6 0-38 2 37 1-121 0 15 2 77 0-28 2 95 1-8 1-45 2 29 0-67 1 14 1 59 1 16 1-250 1 79 0 114 2-43 1-149 1 115 0-35 1 87 2-236 0 92 2 214 1 5 1-45 0 40 2-127 1-98 1 133 1-50 1-90 1 63 1 75 0-25 1-110 3 21 0 154 1-32 1 60 0-56 1-80 2-31 1 138 1-26 1-169 1 226 1-148 1-15 0 76 1 31 2-141 1 135 1-117 1 36 1 130 0-61 2-115 1-73 1 247 1 2 1-77 1 3 1-106 1 28 1 195 1-11 1-117 1 14 1-98 0 43 1 72 2-24 1 72 0-23 2 65 0-18 2-110 0 63 1 17 1-6 1 31 2-18 1 36 1-110 1 116 0-6 2-123 1-12 1-176 0-2 2 161 0-62 2 133 0-153 2 157" stroke="#542788"/>
<path d="M35 359l1-35 0 26 2 102 0-34 1 59 2-114 1 97 1-17 1 50 0-34 1-38 2 40 1-123 1 112 0-27 1-8 2-103 0 102 1 70 1-45 2-142 0-3 1 134 1-39 2 71 1 15 0-61 1 44 1-34 3 17 0 46 0-34 1-91 2 5 1 70 0 16 2 48 0-15 2-51 1 82 1-28 1-12 1-61 0 16 2 31 1 37 1-49 0-11 2 76 1-19 1-199 1-44 0 141 1-26 2-210 1 253 0-71 2-24 1 142 1 18 1-52 0-22 2-119 0 98 1-148 1 108 1 113 1 12 2-131 0 40 1-103 1 20 2 125 1 6 1-137 0-32 2 180 0-37 2 67 0-6 2-65 0-36 1 69 1-16 1 68 1-42 1-130 1 124 2-105 0-37 1 156 1-126 1 105 1-115 1 51 1 8 1 67 2-11 0 36 1 6 2-238 0 27 2 128 0-84 1-144 1 101 2 146 1 38 1-114 1-19 0 129 1-87 2-176 0 55 2 136 1 51 1-59 0-16 1-57 2 114 1-81 0 94 1-137 1 43 1 86 1-127 1 119 2-63 1 140 1-379 0 379 2-143 1 148 0-6 2 37 1-17 0 21 1-21 1 31 1-23 2-36 0-10 2-148 1-122 1 143 0-8 2 140 0-2 1-101 1 85 2 42 0-15 1-42 1 9 0-89 2 68 2-210 1 210 1-117 0-10 2 167 0 18 1-40 1 34 2-372 0 387 1-131 2 66 0-112 1-3 2-112 0 72 2 193 0-11 1 49 1-6 2-81 0 0 1 47 2-34 1 53 1-60 1 87 0-7 1-44 1-7 1 56 1-47 2-86 1 28 0-128 3-42 0 93 0 2 1 124 1-20 1 92 1-15 2-78 1 73 1-49 1 26 1-111 0 51 0-160 3-82 0 113 1 122 1-89 1-94 1 138 2-25 0 93 1-71 1-91 2 85 1-78 1-52 1 95 1-5 1-120 0-74 1 159 2-49 1 193 0 16 1-111 1 49 2 103 0-48 1 53 1-64 1 54 1-19 1 36 1-18 1-109 1-3 1-117 1 92 2-113 0 25 1 169 1 4 2-153 1-48 1 135 1-94 0 140 2-170 0 208 1-344 1 297 1-47 2-138 1-4 1 56 0 37 2-41 0 44 1 82 1-59 2 91 0-92 2 188 0 21 2-62 0-11 1 33 3-84 0 78 0-67 1 67 2-51 1-85 0 155 1-68 1 21 2-131 0 32 1 113 1-113 2-160 0 60 1 153 2 3 0 64 1-39 1-102 1 97 1-94 2 107 1-92 0-7 1-87 2 190 1-111 0 56 1-151 1 132 2-95 0-17 1 159 1 9 2-153 0 149 1-135 1-81 1 96 1-56 2 151 1 4 0 73 1-9 1 51 1-19 2-90 0 45 2-110 1 121 1 28 1 9 0-42 2 44 1-55 0 14 1 34 1 20 2-84 0-104 1 135 1-3 1-62 1 49 1 50 1-30 1-172 1 123 1-68 1-48 1 156 2-10 0-27 2 39 1-81 0-34 0-85 2 11 1 166 1 35 1-31 1 23 2-79 0 37 1-161 1 66 1 67 2-16 0-130 2-43 0 129 1 29 2-98 0-25 1 142 1-134 1 155 1-124 0 151 3-76 0 135 1-45 0-85 2 81 1-124 1 128 1-169 2 77 0-69 1 99 1-83 1 120 1-137 1 57 1 78 1-76 1 143 1 10 1 20 1-33 1 19 1-28 2-124 0-18 1 83 1-101 1 98 1-19 0-140 2 75 1-27 1 9 1 99 2-128 1 129 1-71 0-54 1 166 1-138 1-26 1 69 1 11 1 69 1-17 1 57 1 2 1-373 1 276 1-87 2 35 0 124 1 4 2-147 1-2 0 36 1 38 1-97 1-39 1 239 2-28 0-91 1 81 1-145 1 122 1 61 1-38 1-28 1 24 1-67 1-56 1 127 1-10 0-78 2 33 1 99 2 8 0-27 1 0 1-115 1 77 1-84 1 51 1 73 1-116 1 120 1 15 1-138 1 54 1-102 1-35 1 144 1 2 1-119 1 109 1-162 1 11 1 152 1-105 1 155 1-135 1 126 1-14 1 56 1-28 1-141 1-81 1 201 1-58 1-68 1-18 1 177 1 20 1-130 1-104 1 196 1-5 1 35 1-5 1-96 1-43 0 129 2-94 1 34 1 52 1-168 2 24 0 102 1-94 1 135 1-94 1 73 1-158 1 133 1-138 1 149 1 41 1-79 1 50 1-114 2 144 0-54 1-109 1 155 1-51 1 119 1-22 0-27 2 28 1-31 1-27 1-166 1-10 1 141 0-56 2 120 1-10 0-34 2 36 1-70 1-54 1-57 1 33 1 148 1-89 1-147 0 34 2 99 1-42 1-117 1 101 1 146 1 15 1-154 1-3 1-118 1 102 1-53 1-2 0-113 2 93 1 180 1-31 0 61 2 35 1-112 1 61 1-151 1-14 1-113 0 75 2 189 1-42 1-82 1 18 1 124 0-42 1-105 2 112 1-75 1 125 1-78 0-45 2 170 1 10 0-130 2 111 0-21 1 21 2-145 1-259 1 357 1-36 1 61 0-36 1 75 2-57 1 33 0-10 1-162 1 56 2 82 1-99 1 92 1 8 1-67 1-113 1 136 1 7 1-126 1-55 1 84 1-24 1 147 2-14 0 78 0 19 2-53 1 55 1-74 1-16 1-170 1 105 1-51 1 23 0-155 2 249 1-134 2-48 0 116 2-7 0 127 1-2 1-157 0 88 2 85 1-19 1-109 1 45 0 70 2-65 1 42 0-97 1-141 2 192 1-186 2 17 0 109 0-106 1 187 2-9 1-166 1 69 0-56 2 31 1 97 2-24 0 53 1-36 1-120 0 86 2-158 1 95 0 120 1-138 2 222 0-14 2-176 1 38 1 130 0-31 2-124 1-12 1-106 1 64 1 105 0-57 2 134 1-159 1 170 0-3 2-145 0 98 2-126 0 110 1 83 1-31 1-98 2-10 1 28 1 16 1-78" stroke="#f1a340"/>
</g>
<path d="M1604.85 520.1V798.4" stroke="#222222" stroke-width="4.3" fill="none"/>
<path d="M1604.85 798.4H1979.4499999999998" stroke="#222222" stroke-width="8.2" fill="none"/>
<path d="M1621.9 798.4v10.8M1690.0 798.4v10.8M1758.1 798.4v10.8M1826.2 798.4v10.8M1894.3 798.4v10.8M1962.4 798.4v10.8" stroke="#333333" stroke-width="4.3" fill="none"/>
<path d="M1593.3 790.6h11.5M1593.3 709.7h11.5M1593.3 628.9h11.5M1593.3 548.0h11.5" stroke="#333333" stroke-width="4.1" fill="none"/>
<text transform="translate(1583.8,803.0) scale(1.035,1)" text-anchor="end" font-size="35.6" fill="#4d4d4d">0.0</text>
<text transform="translate(1583.8,722.1) scale(1.035,1)" text-anchor="end" font-size="35.6" fill="#4d4d4d">0.2</text>
<text transform="translate(1583.8,641.3) scale(1.035,1)" text-anchor="end" font-size="35.6" fill="#4d4d4d">0.4</text>
<text transform="translate(1583.8,560.4) scale(1.035,1)" text-anchor="end" font-size="35.6" fill="#4d4d4d">0.6</text>
<text transform="translate(1621.9,845.2) scale(1.035,1)" text-anchor="middle" font-size="35.6" fill="#4d4d4d">2500</text>
<text transform="translate(1690.0,845.2) scale(1.035,1)" text-anchor="middle" font-size="35.6" fill="#4d4d4d">3000</text>
<text transform="translate(1758.1,845.2) scale(1.035,1)" text-anchor="middle" font-size="35.6" fill="#4d4d4d">3500</text>
<text transform="translate(1826.2,845.2) scale(1.035,1)" text-anchor="middle" font-size="35.6" fill="#4d4d4d">4000</text>
<text transform="translate(1894.3,845.2) scale(1.035,1)" text-anchor="middle" font-size="35.6" fill="#4d4d4d">4500</text>
<text transform="translate(1962.4,845.2) scale(1.035,1)" text-anchor="middle" font-size="35.6" fill="#4d4d4d">5000</text>
<text transform="translate(1791.6,497.5) scale(1.035,1)" text-anchor="middle" font-size="35.6" fill="#000" font-weight="bold">sigma[8]</text>
<g transform="translate(156.65,946.0) scale(.5)" fill="none" stroke-width="9.6" stroke-linejoin="round" stroke-linecap="round">
<path d="M35 369l1 124 0 0 2-51 0-4 1-122 1 54 2 109 0-6 2-76 1-131 1 88 1 31 1 55 0-37 2-92 0-49 2 154 1-91 1 45 1 54 0-139 2 115 1-62 0 20 2 110 1 4 1-44 1 11 0 38 3-3 0-47 0-2 1-69 2 56 0-116 1 3 2 112 0-51 1 71 2-6 1 28 0 22 2-161 1 68 0-79 2 43 1-59 1 75 1-77 1-63 1 219 0 3 2 22 0-7 2-77 1 68 1-132 0 85 2 104 0-29 2 17 1-14 1-78 0-38 1-132 2 105 1-178 1 148 0-64 2 192 1-84 2 32 0-82 1 130 1-74 1 72 1-49 0 47 2-140 1 85 1-195 0 73 2 173 0 13 1-59 1 19 2 64 0-4 2-88 1-56 1 57 1 11 1-89 0-15 2 181 0 20 2-88 1-53 0 85 1-67 1 68 2-184 1 188 0-53 1 83 1-2 2-38 0 25 2 49 0-26 2-104 1 35 0-95 2 59 1 54 0 28 1-103 2-26 1 89 0 20 2-95 0 12 1-80 1 95 1 51 1 10 1-82 1 91 2 44 0 8 2-85 0-45 1 104 2-178 1 75 0 25 1 80 1-5 1-61 1-67 2 118 1-88 1 114 0-24 1-300 1 131 2 82 0-22 2-142 0 26 2 179 1-55 1 70 1-97 1 92 1-82 0 97 1-143 2 182 1-58 1 80 1-6 1-109 0 57 1-52 2-63 0 103 1-68 2 128 0-3 2-45 0-35 1-100 2 4 1 109 1-148 1 116 0-29 1-68 2 87 1 93 1 29 1-30 0-12 0-36 3-30 0 79 1-9 2-119 0 46 2 94 1 46 1-64 0 14 1-79 2-17 0 106 1 11 2-172 0-51 2 51 0 44 1 102 1-30 1-93 2-106 0 195 2-143 1 162 0 57 2-96 0-19 1 74 2-59 0 80 1-46 1-114 2 131 1-85 1 102 1-166 1-30 1 168 1-121 0 118 2 27 1-74 0-99 1 124 1-43 1-111 1 122 1 128 1 12 2-64 1 12 0-30 1 10 1 70 1-11 2-124 1-49 0 45 1-4 1-140 2 64 0-70 1 104 1 84 1 0 1 57 1-5 2-74 1 14 0 45 1-73 1-108 1 136 1-105 2-34 1 160 0 6 1-132 1 33 1 83 1-57 1 81 2-26 0-195 1 114 2 159 0-51 2-36 0-24 1-216 1 202 1-65 2-2 0 105 1 8 1-61 2 11 0 84 2-136 1 86 0-39 1-120 1-3 2 140 0 59 1-100 2 82 1-123 0-7 1 58 2-16 1 100 0-22 2-168 0-67 1 195 1-59 1 85 1-133 0-127 2 17 1 195 1-28 1 57 1 93 1 42 1-24 2-58 0-40 2-90 0 86 1-62 2 143 1-99 1-48 1 96 0-58 2 126 0-5 1-135 1 102 1 40 1-31 1 54 1-28 1-125 1 86 1 37 1-29 1-162 1-21 2 119 0 74 1-57 1 12 1 60 1-95 1 73 1-35 1 74 1-26 2-47 1 27 0-41 1 27 1-175 1 80 2 81 0 24 1 49 1-3 2-54 0-26 1-123 1 27 1-64 1 8 1 139 1 50 1-113 1 42 1-98 1 123 1-62 1-21 1-89 1 5 1 172 1-107 1 130 1-91 0-87 2 89 1-138 1 2 2 120 1 24 0-76 1-42 1 147 1 49 1-110 1 40 1 130 1-23 1-48 1-298 0 341 2-72 1-56 1 88 1-89 2-3 1 34 0 63 1-99 1-66 1 188 1 10 1-126 1-55 1 134 1-24 1-99 2 158 1-68 0 48 1-55 1-33 1 94 1 29 1-128 1 92 1-122 1 89 1-76 1-108 1 71 1 59 1-38 1 58 1 153 1-1 2-39 0-21 1 58 1-15 1-135 1-29 1 42 1 9 1-80 1 72 1-83 1-18 1 182 1 11 1-101 1-44 1 142 1-84 1 66 2-48 0 68 1 2 1-44 1 41 1-141 2 86 0-172 1 100 1-80 1 15 1 131 1 27 1 61 1-66 1-97 1 119 1-133 1 146 1-101 1-7 1 90 1 13 1 38 1-4 1-29 1 12 0-29 2 25 1-51 1 11 1-115 1 69 0-87 3-102 0 170 1 8 1-245 1 151 1 192 1-17 1 34 1-1 1-30 1 36 1-130 1 68 1 79 2-27 0-55 1-46 1 86 1 4 0-65 2 65 1-53 1 8 1-198 1 62 1 150 1-11 1-77 1-59 1 50 0-2 1-104 2 105 1 104 1 9 1-105 1-17 1-142 1 75 1 97 1-62 1 125 0-73 2 93 1-119 1 104 1-24 0 72 1-65 2 110 1-47 0 43 2-53 0 46 2-42 1 30 1-68 1 58 1-37 1-101 0 51 2-98 1-19 1 96 1-99 1 89 0 39 2 98 1-47 1 33 2-69 0 43 0-5 2-84 1 66 1-112 1 7 1 86 1-70 1 72 1 52 1-64 1-25 1 112 1-8 1-117 1-3 0-119 2 56 0 81 3 57 0-42 1-61 1 86 1-15 1 53 2-51 0 41 1-25 1-83 1 17 1 93 1 4 1-105 1-7 1-74 1 115 1-142 1 33 1 136 1-34 1 117 1-9 0-30 2 66 1-49 1 7 1-31 1 19 1-36 1-3 1-130 2 102 0-84 1 40 1 105 1 16 1-64 1-38 1 83 2-100 0 72 1-18 1 103 1-12 1-43 0 9 1 22 1-13 2-44 1-22 1-80 0-23 2-103 1 149 0-129 2 46 1 167 0-25 2 61 0-41 2-126 1 53 1-66 0 43 1 82 2-52 0 63 2 1 1-106 0 78 2-124 1-76 1 119 1-43 1 56 1-62 1 166 1 24 1-39 2 62 0-42 1 15 0 35 1-59 2-157 1-49 1 100 0-1 2 140 0-386 1 350 2-78 1 106 2-119 0 127 1-12 0 37 2-5 1-80 0-34 1-54 1 56 2-172 0 75 2 90 1-29 0 102 1-26 2 52" stroke="#e66101"/>
<path d="M36 228l0 107 0 15 1-96 1 70 2 151 1-13 1-70 1-46 1 92 1-4 1-25 1 3 1-56 0 71 2-90 1-45 1 119 0 32 2-110 1-51 1 168 0-30 2 42 0-44 2 60 0-18 2-17 0 12 1-122 1 114 2-154 1-50 1 75 1-83 1 138 0-10 2 77 1-111 0 110 1-27 2 81 2 23 0-28 0-2 2-115 1-55 0 99 2-110 1 110 1-177 1 116 1-30 1 133 0 4 2-67 1-56 1 93 0-58 1 49 2-80 0 42 2-107 0 101 2 21 1-50 1-18 1 81 1-35 1 72 0-79 1 63 1 21 2-126 1 100 0-96 1-28 2 154 1-17 0 46 2-46 1 52 1 6 1-28 0 9 2-143 1-210 0 259 1-43 2 47 0 47 1-96 2 3 1 89 1 12 1-41 2-47 0-51 0-32 1 96 2-65 1 58 0-10 1 74 1 15 1-121 2 24 1-78 0 128 2-64 1 100 1-89 1 74 1-71 0-9 2 122 1 17 1-35 0 1 1 30 1-37 2 67 0-3 2-35 1 28 0-25 2 28 0-50 2-21 1 37 1-41 0-352 1 239 2 24 0 60 2-89 0 28 2 79 0 3 0 49 2-19 2-144 0 5 1 124 1-62 1 55 3 11 0-30 1-25 1 70 0-1 1-103 1 80 1 29 1-18 1-79 2-50 1 154 1 11 1-72 0 73 2-124 0 12 2-93 1-130 1 180 1 26 0 94 1-10 1-142 1 154 2-97 0-7 2 119 0-22 1-89 1 11 1-59 1 93 1-171 2 146 1-187 0 5 1 164 1-97 2 243 1 10 0-37 1 24 1-57 1 14 1 50 2-4 1-77 0-38 2-158 1 70 0 59 1-79 2 117 1-43 1 48 1 1 1-163 0 83 1 147 1-42 1 51 1-47 2-184 0-12 2 121 0-87 1 70 2-14 0-47 1-45 2 116 0 0 1 90 2-64 1 85 0 15 2-132 0-14 1-26 1-8 1 121 1 98 2-48 0-17 2-82 1 58 1 73 1 9 1-20 0-14 1-54 1 30 1-137 1-52 1 158 2-6 1-47 0-2 1 99 1 7 2-63 0 36 1-70 2-2 1 66 0-59 2 140 0 12 2-83 0 12 1-60 1 45 2-85 0 39 1-92 1 64 2 126 0 1 2-69 0 26 1-113 2 82 0-66 1 78 1-53 1 91 1-147 1 27 2-128 0-12 2 227 1 6 1-45 0-54 1-82 2 77 1-29 0-23 1-93 2 102 1 62 0 35 2-150 0 75 2 75 0 64 1-42 1-35 1 84 1-36 2-129 1-78 1 95 0-63 1 97 2 30 1 97 0 10 2-82 0 13 0-63 2 17 1-169 1 130 2-74 0-10 2 164 0-22 1 67 1-62 1-47 1-76 2 187 0 1 1-77 1-31 1 86 1 3 1-112 2-31 1 130 0 15 0 38 3 20 1-54 0-2 1-87 1 56 1 75 1-51 1 58 1-63 1-86 1 117 2-110 0 37 1-81 1 80 0-119 2 28 1 135 1-49 1-131 1 111 1 116 2-23 0-36 1-19 1-167 1 77 0 96 3 51 0-102 1 86 1 24 1 8 1-30 1 37 1-126 1-106 1 184 1-85 2 102 0-7 1-155 2-52 0 105 2 63 1-104 0-4 1 159 1-6 0 27 3 12 0-23 1 3 0-27 2-78 1 87 1-96 1 86 1-40 1 75 1-51 1-91 2 98 0-94 1 28 0-62 2-3 1 70 1 5 1 102 2-38 0 40 1 36 1-46 1 14 2-200 0-12 1 123 1-58 1 92 1-19 1 87 1 6 1-53 2 0 0-78 2-30 1 76 0-74 0 86 2-81 1 99 1-48 1-115 1 77 1 81 1 56 1-39 2-11 1 45 1 38 0-32 1-8 1-63 2 21 0-98 2-88 0 94 1 86 1-84 1-15 1-70 1 57 1 160 2-144 0 96 1-70 1 86 1-42 1-99 1 1 1 87 1-30 1 97 1-2 1 52 1-34 1-31 1-5 1-186 1 18 1 123 1-30 1-39 1 50 1 62 1-31 1 77 1-16 0-23 2-74 1 89 1-99 1 72 1-4 1-143 1 16 1 123 1 21 1-128 2 58 0 68 1-29 1-91 1 128 1-49 1 35 1-152 2-19 0 71 2 32 0-91 1-35 0 115 2-37 0 129 2-84 1 97 1-69 0 83 3-96 0-55 1 28 1-70 1 46 1-133 1 39 1 215 1-20 1 48 1-5 1-97 1-28 1 112 2 12 0-18 1 35 1-42 1 12 1-124 1 26 1-123 1-22 1 179 1-15 1-83 1 99 1-93 1 29 1 108 0-11 2-88 1 61 0-62 2 24 1 56 2-22 0-92 1 136 1-151 1 75 0-152 1 73 1-105 2 91 1-128 1 106 1 146 0-63 2 104 1 14 1 54 1-4 1 18 1-21 1-205 1 68 1 102 1-105 1 74 0-7 2-99 1-10 1 78 1 10 0-61 3 69 0-64 1 59 0 28 2 5 1-141 0 54 2 80 1 10 1 49 1-77 1 61 0-3 2-169 1 28 1-80 1 70 1-96 1 14 1 192 1 23 1-37 1-63 1 86 0-12 2 64 1 11 1-33 2-28 0 42 1-21 1 23 1 11 0-18 1-4 2-108 1-34 1 143 1-10 1-64 1 75 1-78 1-95 0 102 2-66 1-103 1 8 1 95 1-77 1 95 1-72 1 139 1 28 1-112 0 74 2-140 1 79 1-48 1 56 1-56 1-21 0 117 3-109 0 116 0-15 2-88 1 31 1-88 1 81 1 96 0 3 2-128 1-85 1 243 1-18 1 23 0 5 2 18 0-12 2-124 1 32 1 61 1 25 1-24 1-20 1-99 1-17 1 103 0-102 2-107 0-4 2 125 1 25 1 130 1 15 1-44 0 5 2-64 1 24 0-64 2 62 0-68 2-71 1 53 0 2 2 80 0-3 1 56 2-32 1 46 1 7 1-45 1 30 1-47 0 1 1-101" stroke="#998ec3"/>
<path d="M35 365l1-73 0 59 1-101 1 62 1 70 1-101 1 84 1-24 2 68 0-31 1-97 1 29 1 154 2 4 1-117 0-3 1-90 1 26 1 147 2-87 1 131 1 6 0-23 1-26 2-28 1-51 1 62 1-63 1 114 1-45 1 51 1-40 0 34 1-53 2-179 0 4 2 131 1-46 0 99 2-102 1 82 1 19 0-79 2 34 1 39 1 8 1 63 0-9 2-101 1 24 1-113 1-44 1 212 1 12 1-63 0 2 2-124 0 48 2 136 0-10 1-64 2 33 0-76 1-39 2-82 1-82 0 183 2-73 1 128 1 37 1-69 0 26 2-77 0-1 2 147 0-35 2 76 0-27 1-75 1 60 1-48 2 3 0-104 1 30 1 106 3-203 0 82 1-18 1 134 0-14 2 78 0 15 2-27 0-6 2 22 0 2 1-45 2 29 1-20 0 5 1-79 1-17 2 89 1-34 1 43 0-8 2 35 0-19 1-31 2 21 1-64 1-7 0-137 2 35 1 128 0-8 2-184 0 133 1-103 2 37 1 149 1-36 1 50 2-9 0 33 0-28 1-30 2 39 1-78 0-42 1 93 1-77 2 82 0-73 1 71 1-43 1-86 1 31 1-101 2 151 1 80 0 3 1 42 2 4 1-93 1 41 1-42 0-6 1-69 2-138 1 144 1 39 1-120 0-11 1 119 1-87 2 174 1 17 1-34 1 28 1-156 0 8 2 84 0-6 1-53 1 54 1-91 2-38 1 145 0-6 1 49 1-21 2 53 0-51 1 57 1-4 1-25 1-13 1-27 1 23 1-57 2-19 1 65 1-98 1 100 1 46 1-56 0 0 2-22 0-29 0 35 3-65 1 116 0-3 2 24 0 3 2-81 1-14 0 44 1-2 1-44 1 49 2-143 1-32 1 136 1-101 0 103 1 12 1-62 1-106 1 149 1-138 1 97 2 78 0-98 1-7 1 100 1-43 1 39 1 11 1 31 1 5 2-83 0-74 1 112 2-18 1-57 0 40 1-218 1 173 1-107 2 42 1 80 1-139 1 134 0-4 1 76 1-48 1-45 1 106 2-54 1-65 0 105 2-165 1 128 0 22 2 38 0-26 1-80 1 43 0 57 2-94 1-96 1 54 1-85 2-74 1 169 0 23 1 45 2-47 0 69 1 1 1-72 1-51 1 40 1-19 1 43 1 21 1-157 1 134 0-49 2 14 1 78 1-49 1 84 1-6 1-70 2 67 1-133 0 52 1-100 1 27 1 84 1-7 1-90 1 96 1 64 1-17 2-160 0 17 2 194 0 7 2-83 0-9 0-115 2 75 0 88 2-122 1 68 1-120 2 94 0 20 1-62 1-28 1 132 1 8 2-289 0 279 1 59 1-12 1-41 1-14 1-160 2 98 1 104 1 40 0-39 1 39 0 26 2-6 1-64 1-17 1-140 2 60 0-86 1 18 1 84 1 6 1-60 1 35 1 89 2 10 1-116 0 106 2-111 0 44 2-110 0 7 2 149 0 30 2-212 0 162 1-119 1 76 1 111 1-53 1-137 2 121 0-92 1 20 1 46 1-20 2 95 0-1 1 72 1-22 2-354 0 329 1 25 1 4 1-25 1 20 2-37 0-8 1 30 1-3 1 34 1-6 0-21 2 25 1-50 1-20 1-75 1 7 1 75 2-135 0 106 1-22 1-103 1-67 1 84 1 15 1 149 1-21 1-139 1-4 1 158 1-28 0 46 2-24 1-90 2-51 1 147 0-11 1-136 1 139 1-108 1 76 1-90 1 136 1-79 1 41 1-145 1-5 2 186 0-13 1-63 1 71 1-38 1 48 1-43 1-42 1 58 1 14 1-105 1 23 1 93 1-46 1-112 2 103 0-83 1 94 2 43 0-8 0 53 2-30 1-121 1-50 0 81 2-137 1 139 1-64 1 81 1 26 1-119 2 8 0 114 1-54 1-94 1 34 1 155 1-11 1-26 1-72 1 71 1 4 1-130 1-49 1 158 1-29 0 72 2-13 1 47 1-26 1-70 1-63 1-95 1 38 1 133 1-163 1 109 1-52 1-131 1 38 1 131 1-38 1 77 2 76 0-81 1-32 1-120 1 51 1 91 1-69 1 153 1-47 1 73 1-13 1-76 1 48 0 72 2-33 1-85 1-33 1-49 1-87 1 138 1 93 1-83 1 97 1 36 1-30 0 24 2 5 1-30 1 34 1 22 1-17 1-111 1-76 1 116 1 13 1-70 1 49 1-170 1 169 1-85 1 34 1 86 2-15 0-32 0 0 2-135 1 63 1 110 1-59 1-131 0-36 2 210 1-16 1 38 1-18 1 40 2 9 0-19 1-32 1-123 1 22 0 79 2 33 1-53 1 13 1 64 1 2 1-73 1 39 1-111 1 6 1-143 1 122 1-133 1-51 1 195 2 133 0-52 1-52 1 112 0 5 2-78 1-11 1-62 1 43 1-165 1 76 1 154 1-21 1-85 1 62 1-162 1 82 1-83 1 152 1-347 1 281 1 134 1-8 1 33 1-33 1-95 1-21 1 99 1-33 1 76 1-53 1 26 1 8 1-138 0 32 1-59 2 163 1-92 1 18 1-63 1-44 1 70 1-4 1 76 0-74 2 134 0-39 2-85 1-40 1 138 1-37 0-60 2 16 1-116 1 13 0 76 2-96 1 139 0-9 2-68 1-16 1 135 1 57 1-94 1 47 1-39 1 69 1-122 1 51 1 53 1-92 1 92 1-82 0 95 2-72 1 95 1-29 1-46 1-8 1 63 1-60 1 66 0-49 2-48 1-81 1 120 1-12 1-112 1-53 1 107 1 9 1 31 1-44 1-69 0 20 2 158 1-60 1 78 1-95 1 117 1 0 1-73 1 27 1-173 0 87 1 88 2 26 1-77 1 38 0-68 1 24 1 72 2-140 1 120 1 10 0 37 1-34 2-128 1-6 1 89 1 26 1-82 1-134 0 80 2 15 1 73 1-27 1 113 0 13 2-53 0-10 2 55 1 3 1 34 1-13 1-39 0 16 2-80" stroke="#542788"/>
<path d="M34 308l2 149 0-47 2-78 1 91 0-126 1 74 0 98 2-46 1 70 1-43 2-143 1-147 1 132 0-45 1 62 2 127 1-196 0 51 2 84 0 67 1 51 2-15 1-75 1-16 1-97 1 48 1 87 1 16 1-100 1-119 1 173 1-41 0 91 1-47 2-137 1 130 1-105 1 62 1 105 0-39 1-102 1 141 1-24 2-16 1 54 0-15 1-77 1 13 2 80 0-30 1-59 2-3 1 42 0-16 1 52 2-57 1 65 0 9 2 39 0-2 2-167 0 116 2-85 1-96 1 160 0 9 2-123 0 5 1-45 2-10 1 157 1 65 1-64 1-2 1-94 0 27 1 105 1-25 1-120 2-64 0 136 1-99 1 151 1-96 1 107 3-13 0 28 1 9 0-38 1-12 2-101 1-91 0 134 1-51 1 113 1-18 1-69 2 25 1 98 0 3 1-42 2-63 1 83 1 24 0 16 1-24 2-59 1 27 1 54 0 4 2-171 0 28 2 96 0-36 1 82 1-17 1-49 2 73 1-41 0 7 2-201 0 51 1 76 2-118 0 88 2-54 1 135 1-12 1-70 1 88 1-156 0-3 2 56 1 134 1-56 1 23 1-106 1-43 0 90 1 63 1-78 1 1 1-131 1 30 1 84 1-66 2 129 0-2 1-108 2 78 1-89 0 28 2-64 0 30 2 137 1-105 0 42 1-3 1 94 2 39 1-70 1-95 0 108 2-89 1 120 0 11 1-31 1 11 2-90 0 5 2 97 0-16 2-66 1-118 1 109 0-13 1 77 1-21 1 47 1-16 2-132 0 84 1-87 1 46 1 73 1-25 2-177 1 15 1-119 0 132 1 148 1-68 2 97 0-27 2-135 0-30 1 85 1-66 1 185 1-25 1-97 1 67 1 59 1-27 1-148 2 164 1-88 1 80 1-143 0-30 1 151 1 17 2-88 0-34 1 98 1-92 0 92 2-26 2 85 0-21 1-115 1 149 2-115 0 14 1-66 1 11 1 92 1-113 2 112 0-21 1 50 2-59 1 71 0 27 2-38 0 15 2-117 0-32 2 159 0 5 1 24 2-27 1-38 1-143 1 140 1 17 0-99 2 98 1-66 0 48 2-105 0 55 1-117 2 40 0-64 1 16 2 177 0-44 2-113 1 54 1 117 1-39 1 67 0-8 2-131 0 110 1-52 1 2 1 59 1-73 2-185 0 50 2 120 0-43 1 75 1-71 1-151 1 24 1 197 1-25 1-147 2 72 1 85 0 25 2-148 0-79 2 185 0-32 2 122 0-76 2 114 0 6 1-32 1 24 1-38 1 27 2-102 0-8 2 112 0-9 2-72 1-108 0 123 1-3 1-105 1 41 1 75 2 42 1-96 0-24 1 114 2-39 1-52 0-51 2-74 0 46 1 133 1-61 1 113 1-68 1-163 2 145 0-83 2 38 0 69 1-51 1-136 1 63 1 118 1-3 1-106 2-60 1 159 0 65 1-57 2 59 0 13 1 15 1-38 1 31 1 22 2 4 0-24 1 13 2-36 0 23 1-154 1 55 1 79 2-11 1-48 0-35 2 71 0-5 1-79 1 21 1 84 1 0 1-107 1 49 1 58 1-50 1 84 1-13 1-26 1 16 1-163 1 142 1-165 2 152 0-109 1-6 1 55 1-70 1 112 1-19 0 59 2 12 1-47 1 21 1-96 1 52 1-113 1 0 1 132 1-60 2 110 0-22 0-18 2-32 1 55 1-149 1 120 1-9 1-103 2 85 0-66 1-12 1 120 1-17 1-69 2-58 0 66 1 86 1-84 1 95 1-139 1-7 1 131 1-7 2-116 1-90 0 121 1 69 1-91 1-52 1 169 1 7 1-99 1 90 1-50 1 50 1-75 1 1 1-121 1-7 1 99 1 111 1-134 1 25 0 108 2-26 1-127 1 37 1 90 1 15 1-71 2 54 0-56 2-22 0 73 1-25 1-134 1 12 0 83 3-118 0 93 1 36 0-89 2 82 1 105 1 10 1-347 2 352 0-31 1-2 1 35 2 19 0-55 1-18 1-144 1 27 1 105 1 22 1-121 1 65 1-59 1 136 1-75 1-74 1 107 1-1 1-131 1 58 1-127 2 50 0 152 1 43 1-50 1 28 1-84 1 49 1 56 1-2 1-27 1 34 0 56 2-23 1-27 1-4 1 42 1 4 1-19 2 17 0-32 1 10 1-86 2-90 0 54 1-32 1 143 1-21 1-148 1 34 0 76 2-163 1 59 1-41 1 173 1-90 1 72 1-56 1 84 1-18 1 45 1-50 1-69 1-18 1 108 1-20 1-105 1 10 0 122 2-140 1 154 1-146 1 74 1-104 1 153 0 17 2-21 1 5 0-29 2-78 1 78 0 1 2-118 1 110 1-356 1 277 1 116 0-19 2-161 1-33 1 70 1 29 1 92 0-24 2-131 1-50 1 231 1-39 1 61 1-39 1 52 1-12 1-75 1-81 0 151 3-62 0 51 1-14 1-54 1-65 1-82 0-41 2 119 1 37 1-186 1 50 0 143 1-75 1 77 2-31 1-63 1-22 1 166 1-74 1 108 1-14 1-178 1-58 1 133 1 125 1-181 1 28 1 93 1 8 1 67 0-18 2-96 1 8 1 79 0-11 2-170 1 3 1 80 1-92 1 73 1-111 1-41 1 26 1 86 1-1 1-106 0 61 1 84 1-91 2 94 1-56 1 173 1 10 1-78 1-28 1-101 1 115 0-48 1 13 2-73 1 33 1 79 1 55 1-110 1 89 1-139 2 82 0-37 1-67 1 182 0-31 2-98 1-49 1 121 1-28 0 74 2-79 0 41 1-11 2 90 2-50 0 31 0-16 2-114 0 19 1 88 2-39 1-60 1-3 1 157 0 14 1-68 2 34 1-116 0 35 1-127 2 89 1 113 1-24 1 63 2-17 0-42 1-135 1 136 1-2 1-69 1-48 1 52 1-30 1 78 0-20 1-138 2-46 0 84 2-130 1 178 0 22 1-136 1 162 1-135 3 31 0 59" stroke="#f1a340"/>
</g>
<path d="M156.65 946.8V1225.3" stroke="#222222" stroke-width="4.3" fill="none"/>
<path d="M156.65 1225.3H531.25" stroke="#222222" stroke-width="8.2" fill="none"/>
<path d="M173.8 1225.3v10.8M241.8 1225.3v10.8M309.9 1225.3v10.8M378.0 1225.3v10.8M446.1 1225.3v10.8M514.2 1225.3v10.8" stroke="#333333" stroke-width="4.3" fill="none"/>
<path d="M145.2 1218.6h11.5M145.2 1147.3h11.5M145.2 1076.0h11.5M145.2 1004.7h11.5" stroke="#333333" stroke-width="4.1" fill="none"/>
<text transform="translate(135.7,1231.0) scale(1.035,1)" text-anchor="end" font-size="35.6" fill="#4d4d4d">0.0</text>
<text transform="translate(135.7,1159.7) scale(1.035,1)" text-anchor="end" font-size="35.6" fill="#4d4d4d">0.3</text>
<text transform="translate(135.7,1088.4) scale(1.035,1)" text-anchor="end" font-size="35.6" fill="#4d4d4d">0.6</text>
<text transform="translate(135.7,1017.1) scale(1.035,1)" text-anchor="end" font-size="35.6" fill="#4d4d4d">0.9</text>
<text transform="translate(173.8,1272.1) scale(1.035,1)" text-anchor="middle" font-size="35.6" fill="#4d4d4d">2500</text>
<text transform="translate(241.8,1272.1) scale(1.035,1)" text-anchor="middle" font-size="35.6" fill="#4d4d4d">3000</text>
<text transform="translate(309.9,1272.1) scale(1.035,1)" text-anchor="middle" font-size="35.6" fill="#4d4d4d">3500</text>
<text transform="translate(378.0,1272.1) scale(1.035,1)" text-anchor="middle" font-size="35.6" fill="#4d4d4d">4000</text>
<text transform="translate(446.1,1272.1) scale(1.035,1)" text-anchor="middle" font-size="35.6" fill="#4d4d4d">4500</text>
<text transform="translate(514.2,1272.1) scale(1.035,1)" text-anchor="middle" font-size="35.6" fill="#4d4d4d">5000</text>
<text transform="translate(343.5,924.0) scale(1.035,1)" text-anchor="middle" font-size="35.6" fill="#000" font-weight="bold">sigma[9]</text>
<g transform="translate(625.8,946.0) scale(.5)" fill="none" stroke-width="9.6" stroke-linejoin="round" stroke-linecap="round">
<path d="M35 424l1-53 1-66 0 70 1 1 1 51 1-36 2 34 0-1 1-25 1 42 1-325 1 118 2 156 0 17 2-43 1-34 1 108 0 10 2-85 1 73 1-50 1-74 1 117 0-21 2 20 0-2 1 70 2-21 1 16 0-1 2-98 1-17 1 50 1 2 1-29 0-1 2 88 0-44 1-29 2 2 1 71 1 14 1-41 0 20 1-28 1 33 2-19 0 5 2-46 1 22 1-26 0 29 2-50 0 60 1-42 1 47 2-60 1-69 0 70 1 25 1 71 1 3 1 27 1-4 2-23 0 6 2-37 1-47 1 65 1 19 1-24 1 22 0-25 1 26 2-33 0-10 1-57 2 11 1 53 1-1 1-43 1-23 1 80 0 18 1-30 1-5 1-10 1 14 2-73 1-72 1 102 1 1 0-57 1 51 2-33 0-20 2 58 0-37 2 31 0-10 0-47 2 18 2 81 0 6 1 41 1-2 2-29 0 17 2-27 1 9 1-24 0 12 2-49 1-58 0 67 3-18 0 36 1-35 1 33 0-24 1-62 1 17 2 75 0 2 1-31 1 5 2-69 0 14 1 64 1-29 2-54 0-54 2 89 0-5 1-87 1 44 2 108 0 3 2-65 0 14 1 91 1 4 1-20 1-7 2 46 0-3 2-16 0-13 2-61 0-28 2 88 1-25 0 27 1-17 2-130 0-47 2 127 0 7 2-70 0-10 1 54 1-56 2 85 0-9 2-55 0 15 2 30 0 38 2-140 0 17 2 83 0-5 1 78 2-8 1-34 1-57 0 46 1-59 1 78 2-15 1-38 0 2 2 33 1-22 1 35 0-23 2 64 0-38 0-46 2 31 1-47 2 15 0 81 2 26 1-22 0-27 2 59 1 15 1-13 0 3 1 11 2-2 1-15 1-12 1 16 0-9 2-36 1-14 1-58 1-61 1 81 0 11 1-42 1 21 1 37 2 16 1-55 0 16 2 39 0-31 1-18 1-25 1 72 1-51 1 39 1-30 1 41 1-31 1-37 2 27 0 83 1-15 1-16 1-14 2 41 0-17 1-82 2-32 0 60 1-2 2-79 1-19 1 78 0-4 0 59 3-62 1 29 0-16 1-32 1-17 2 117 0 17 1 16 1-12 2-39 0-3 2 34 0-16 2-36 0-12 2-109 0 15 2 146 0-22 2-88 0 22 1-59 1 39 2 47 1 31 1-62 0-37 1 61 1-83 2 113 0-11 1 61 1-17 2-63 0-2 2-81 0-27 1 124 1-24 2 69 0-47 1 64 1-35 1 24 1-38 2-61 0-26 1 105 1 13 1 25 1-7 2-58 0 1 1-63 1 54 1-46 2 41 0-32 1 21 1-75 1 69 1 94 1-27 2-41 0-25 1 31 2 34 1-60 0 3 1 47 1 25 1-15 1 10 2-139 1 32 0-108 1 93 2 110 0-3 2-56 0-15 1 24 1-8 1 29 2-17 1 55 1-30 0 45 1-66 1 52 1-27 1 61 1-14 0-27 2 12 2 41 0-14 1 14 1-5 2-48 0 0 1-46 1 8 1 50 1-16 2-33 0 9 1-67 1 11 1 64 1-76 1 72 2-57 0 65 1 1 1 49 1 8 2-72 0-14 1-72 1 25 1 57 1-31 1 55 1-40 1-51 1-7 1 133 1-6 1-91 1 58 1-32 1 26 1 37 1-9 0 24 2-38 1 52 1-4 0 9 2 8 1-18 2-38 0 32 1-7 1-50 1 9 1 34 1-12 1 35 1-9 1-60 1-11 1 64 1-25 1-156 1-65 1 113 1-4 1 58 1-35 0 55 2-13 1 73 1-3 2 20 1 12 0-29 1-11 1-62 1-70 2 151 0 0 1-64 1 31 1-60 1 10 2 62 1 4 0 19 1-3 0-20 2-41 1 23 1 27 1-30 1 39 1-87 1 34 1-23 1 5 1-58 1 40 0 54 2-95 1 75 2-98 0 72 1-31 1-94 1 163 1-81 2-40 0 95 1-53 1 52 1 35 1-40 2 55 0-30 1-3 1-78 1-117 1 140 2 104 0-11 1-13 1 48 1-35 1 16 1-19 1 32 1-5 1-34 1 12 0-17 2 12 1-57 1-6 1 53 1 25 1-42 1 0 1-73 1-22 1 48 1-25 0 69 2-39 0-66 2 44 1 57 1-18 1 45 1 8 1-35 1-29 1 36 1-15 0-60 3 48 0 40 1 0 1-44 2 4 0-33 1 47 1-39 1-57 1 92 1-8 1-64 1-8 1 79 1 7 1-36 1 15 1-61 1-21 1 77 1-6 0 72 2-27 1-152 1 29 1 57 1-16 1 65 1 43 1-56 1 2 1-74 1 8 1-185 1 165 1 77 1 48 1-22 1-22 1 53 0-5 2 41 1-11 0-33 2 19 1-34 0-23 2-79 1 41 1 49 1-66 0 83 2-48 1 66 1 16 1-45 1-17 1-22 1 6 1 58 1-61 1 67 1 25 1-46 0-2 1-48 3 1 0 64 1-15 1 59 2 1 0-24 1 6 1 20 1-16 1-44 2 36 0-34 1 2 1-432 1 446 1-96 0 24 2 37 1-28 0 14 2 1 1-37 1 6 1 26 1 0 1-38 0 83 2 41 1-5 1-26 1 26 1-25 1-4 1 26 1 11 1-25 1 17 1-28 0 10 2-105 1-26 0 92 2-23 0 49 1 9 2-61 1 43 1-56 1-23 0 61 3-72 0 86 1 34 1-65 1-2 1 52 0-44 2 69 0-12 2 25 1-6 1-46 1-11 0-37 1 25 2-151 1-8 1 111 1 53 1-53 1-19 1 56 1-12 1-97 0 15 2 89 1 8 1 77 1-4 1-27 0 13 2-25 0 20 1-20 2-2 1 22 1-45 1 31 0 14 2-93 1 14 0 88 2-5 1 18 0-14 1-74 2 4 0 59 2-60 1 52 1 11 0-62 2-21 1-34 0 51 2-93 0-1 2 63 1-121 1 118 1-121 1 112 1-2 0 53 3-101 0 83 1 55 1-99 1 17 0 36" stroke="#e66101"/>
<path d="M35 480l1-60 0 65 2-75 1 6 0 54 1 9 2-66 1 3 1 37 2-41 0-41 1 50 1-25 1-39 1 112 1-11 0 47 1-19 2-59 1 47 1-93 1 47 1-43 0 42 2-63 0 12 1 73 2-101 1 68 1-54 1 42 1-38 1 55 1 30 1-33 1-60 1 55 1-4 1-58 0 59 1 55 1-47 2 40 0-42 1 75 2 11 1-42 0-11 2-72 1 47 1-78 0 41 2 69 1 7 1-116 0-64 1 103 2 36 1-61 0 11 2 66 0-1 2-22 0 26 2-60 1 10 0-96 1 55 1 93 2-31 0 47 2 0 1-38 0-16 2-112 1 95 1-46 1 30 1 104 1-15 0 36 2-27 1-54 0 10 1 38 2-80 0 59 1-83 1 51 1-62 1 92 1-17 2-61 0 5 2 125 0-64 2 61 0-12 2 22 1 2 1-79 1-257 0 257 2-24 1 62 1 6 1-84 1 9 1 70 1-34 1 70 0-5 2-66 1 61 1-66 0 5 1-17 1 9 1 47 1-42 2 70 1-40 0 27 1-56 1 56 2-63 0 73 1-47 1 42 2-45 1 46 0-4 2 19 0-18 2-69 1 3 1 62 0 17 2-26 1-9 1-28 1 53 0-47 1 31 1-75 2 57 1-60 0 16 0-80 3 53 1 28 0 14 2 31 0-5 1-54 1 72 2-79 1-11 1 46 0-52 1-58 1 17 2 117 0 10 2-92 0-87 2 107 0-22 1 50 2-6 0 48 2 23 1-35 0 27 2-97 0 53 1 58 1-10 1-82 2 51 1-52 1 36 1-38 1 2 1-39 0 21 2 79 0-3 1-36 1 13 1 73 2-329 1 315 0 7 1-42 2 47 1-41 0-7 1-46 1 66 1-24 2 31 1-53 0 5 1-59 2 27 1 65 0-2 2 46 0-11 1-43 1 27 1 19 1 2 2-75 1-56 1 79 1 45 0-55 2-29 0 35 1-40 1-149 2 135 0 38 1-18 2 64 0 16 1-62 1 35 2-51 0-12 1 43 1-34 2 45 0-15 1 45 2-7 1-57 0 69 2-150 0 81 1-59 1 37 1 66 1-38 2-164 0-12 2 170 0-18 1 45 2-54 1 76 0-21 1 44 1-25 1-171 2 25 1 65 1 36 0-41 1-26 1 90 1-58 1 73 2-46 1 67 0-18 2 23 1-12 1 19 0-5 2-68 0-4 1 60 1 4 1-85 1-23 1 55 2-12 0 40 1-61 1 82 1 14 1-62 1 51 1-57 1-15 1 49 1-34 1 57 1-29 2 29 0-13 1 32 2 10 1-30 0 8 1-45 1 29 1-67 2-15 1 84 1-44 1 49 0-30 1-61 2 22 1 20 0-14 1 13 1 14 1-38 1 25 2-95 0-28 1 93 1 19 1-258 1 238 1-132 1 134 1-118 1 60 0 80 2-9 1 57 1-5 1-35 1 49 1-113 2-18 0 149 1 10 1-20 2-15 0 34 1-14 1-32 1 53 2-43 0-52 1 18 1-42 0-101 2 105 1 97 1-14 1 25 1-14 2 26 0 8 2-13 0-15 1 19 1 2 1-20 1 7 1-41 1 30 1-79 1 48 1-77 1 20 1 84 2-66 0 63 1 5 1 38 1-8 1 6 1-6 1-5 1 2 1-15 2 10 0-13 1 2 1-22 1 23 1-38 1 11 1-78 2 24 0 43 1-18 0 41 2-61 1 55 1 12 1-82 1 7 1-29 1 60 1-78 1 30 1 39 1 11 1-56 1 30 1-187 1 61 1 140 1-11 1-100 1-114 1 123 1 2 1 111 1 27 2-41 0-9 1 74 1-7 1-72 1 58 2-14 0 20 1-45 2 31 0-59 1-4 1 51 2-23 0 50 1 21 1-10 1 1 2-79 0 26 1-22 1 34 1-45 1 41 1-64 1 55 1-87 1 19 1-80 1-22 1 229 1-2 1-52 1 20 1-76 1 8 1 76 1 7 1-117 1-26 1 77 1-54 1 110 1-75 1 44 1 6 1-50 1-4 1-72 1 12 1 105 1-67 0-76 2-2 1 105 1-16 1 37 1-65 1 65 1-2 1 42 1 6 1-68 1-2 1 92 1 7 1-83 2-22 0 34 1-3 0-29 2-5 0-121 2 127 1-151 1-70 1 204 2 69 0-52 1 49 1-133 1 98 1 33 1-31 1 93 1 5 1-8 1-1 1 23 1-19 1 10 1-14 1-21 1 34 1-10 1-2 1 11 1 3 1-463 1 414 1 30 2 0 0-40 1 38 0 15 2-10 1-102 1 69 1-54 2 5 0-54 1 26 0 29 1 8 2-47 1-7 1-63 1 68 1-66 1 64 1 79 1-36 1-59 1-9 1 35 1-98 1 120 1-12 0-106 2 21 1 97 2-16 0 75 1-15 1 48 1 3 1-15 1 24 1-49 1 8 1-86 1-8 1 15 2-37 0 73 1 19 1-78 1-11 1 60 0 5 2 65 1-2 0-65 2 61 1-54 1 77 1-19 1-22 1 23 1-19 0-148 3 70 0 27 1-2 1 23 1 38 1-120 1 56 1-90 1 83 1-81 1-58 1 138 1 52 1-97 1 14 1 100 0-43 1-33 2 24 1 62 1-1 1-47 0 47 2-80 1-2 1 81 1-71 1 100 0-5 2-29 2-18 0 36 1 11 1-24 1 22 1-43 1 17 1-118 1-24 0 81 2-15 1 79 1-1 0-68 2-34 1 77 1 18 0-46 1 29 2 41 1-5 1 21 1-4 1 9 0-13 2-25 1-9 1-77 1 19 1-65 0 33 1 109 2-7 1 28 0-8 2-66 1 22 1-58 1 17 1-65 0 11 1 115 2-55 1-34 1 103 1-20 0 9 2-63 0 4 2 73 1-14 1-63 1-5 1 59 1-97 1 35 1 22 1 67 0-17 2-64 1 56 1-65 0 22 2 73 0-23 2-102 0-10 1 45 2-1 1 32 1-40 1 43 0-20 2 53 0-42 1 41 2-83 1 52 2-35 0 84" stroke="#998ec3"/>
<path d="M35 369l1 128 0-16 2-35 1 3 0 20 1-20 2 51 0-5 2-81 1-96 0 76 1-56 2 126 0-31 2-34 0 8 1 28 2 34 1-60 0 13 2-47 1-7 0 70 1-9 2 51 1-33 1-129 1 133 0-54 2-3 1 83 1 27 0-27 1 13 1 22 2-9 1 9 0-11 2 15 1-3 0-11 1 0 1-14 2 23 1-34 0 20 2-91 2-256 0 271 1 47 1-87 0 44 1 63 1-38 2-58 0-28 1 97 1-38 2-79 0 46 2 82 1 11 1 13 0 7 2-436 1 402 1-66 1-14 1 46 1 22 1-55 0 4 2-111 1-28 0 150 2-124 1 114 1-25 1 85 0-10 2-33 1-2 0 36 1 10 2-57 0 51 2-87 1 49 0-274 3 240 0 52 0 42 1 15 1-10 2-55 0-13 2 25 0-4 1-64 2 38 0-65 2 21 0 77 2-57 1 71 0-38 0-58 3-36 1 87 0-9 1-92 1 53 2 103 1-33 1 31 1 23 0-13 2 26 1-22 0-3 2-26 0-28 1-23 2 2 1 51 1-60 1 70 0-7 2 39 0-9 2 14 0 12 1-30 1 29 2-30 0 20 1 13 1-12 2 13 1 1 1-12 0 4 1-56 1 35 1-36 2-43 1 70 1 9 1-44 0 9 1-40 1-1 1 47 2-25 1-24 0-9 1 59 2-42 1-43 0 48 1-20 2 14 1 46 1-66 0 62 1-5 1-95 1 47 1 78 1 4 2-65 1 1 1-54 1 48 1-112 0 16 2 116 1 25 0-41 1 24 1-45 1-11 1 59 1-38 2 71 1-58 1 90 1 7 1-7 0-2 2-21 0-11 2-108 0 19 1 61 1-35 2 70 0-10 1-25 1 24 2-51 0 26 1-31 1 27 1-31 1 7 2 48 0 9 1-64 1-30 1 86 1-25 1 49 1-19 2 27 1 6 1-15 0 12 1-36 1 5 1 26 2-3 1-30 0-23 1-131 1-44 2 150 0 17 1 58 1-4 2-36 0 8 2-69 0-89 2 101 0-28 1 54 1-110 1 89 1-27 2 91 0-6 2-46 0-1 1-63 1-32 1 52 1 6 1 63 1-18 1-85 1-51 2 130 0 23 1-64 2 0 1 80 1-1 1-59 0-30 2 54 0-5 1 50 1 2 1 15 1-15 1 27 1 0 2-16 0-16 2-73 0 13 1 17 1 18 1 34 1-42 1 39 2 6 1-22 0 9 1-73 1-1 0-39 2-15 1 121 1-46 1-50 1 29 0 51 3-37 1-41 0-41 1 142 1 17 1-15 2 27 0-19 1 5 2-59 0-1 1-57 2 34 0-30 2-70 1 58 0 48 2-128 0 33 2 111 0 31 1-30 1 9 1 32 2-42 1 42 0 7 1-66 1 49 1-46 1 58 1-61 1-37 1 36 2 8 0 62 2-32 1 39 1-27 1-38 0 1 1-143 1-103 2 212 0-8 2 57 0-16 1 66 1-24 2-56 0 19 1 67 1 6 1-30 1-43 1 65 1-42 2-70 0-28 1 64 2 11 0-46 1 7 2 60 1-14 0 65 1-9 1-26 1-8 1-56 1 20 1-72 1-58 1 99 1 38 1-106 1-74 1 57 1 20 1 94 1 12 1-71 1 38 1 66 1 5 1-64 1 6 1 58 1 20 1-38 1 19 1-154 2 29 0 80 1-83 1 91 1-22 0 75 2-10 1-48 1-8 1 65 1-20 1-69 1 0 1 96 2-21 0 15 2-7 0 20 1-8 1-44 1 45 1-26 2-64 1 52 0 12 1 30 1 11 1 12 2-3 1-18 0-15 1 26 2 8 0-10 1-9 2-22 1-15 0 28 1 1 1-22 1 13 2-97 0 42 1-62 1 54 1-59 1 8 2 78 0-7 0 46 2-23 1-70 1-11 1 82 2-3 0-32 1-63 1 70 1 19 1-31 1 38 0 19 2-1 1 22 2-87 0 76 1-2 1-31 1-30 1 34 1-33 1 44 1 6 1 27 2-5 0-20 1 11 1-67 1 23 1-61 1-1 0 74 2-86 0 42 2-54 1 52 1-85 1 95 2-37 0 36 1 10 1-118 1 32 1 99 1-23 1 42 1-15 1-32 1-8 1-57 1 28 1 91 1-42 1 49 1 17 1-20 1 7 1-135 1-47 1 122 1 5 1-68 2 40 0 58 1 20 1-46 1 43 1-35 1 6 0 19 2-54 0-66 2 110 1-62 1 29 1-91 1 73 0 54 2-51 0 65 1-39 1 32 2-27 1-30 1-76 1 76 0-18 2 53 1-34 1 72 1-65 1 36 0-18 2-51 1 44 0-31 3-5 0 57 0-15 2-68 1 1 1 122 1-9 1-91 1 72 1-81 1 63 1-62 1 64 1-95 1-37 1 100 1 9 0-89 2 33 1-40 0-23 1-82 3 113 0 82 1-30 1 91 1-17 1 38 1 2 1-35 2-62 0 74 0-16 2 52 1-7 1-20 1 20 1-54 2 6 0 39 1 3 1-56 1 37 1-67 2 5 0 46 1-44 1 71 1-4 0-39 1 15 1-67 2 21 1-58 2 29 0 40 0 3 2-74 1 44 0 47 2-43 1 63 0-10 2-72 1 21 1 34 1-9 1-42 1 87 1-135 1-5 1 60 0-14 2 115 1-28 1 34 2 17 0-14 0 1 2-19 1-4 1 19 1-5 1-68 2 9 0-58 0 28 1-106 2 50 1 69 1-3 1 57 1-2 1-29 1-5 0 57 1-28 2-39 0 6 2-33 1-27 1 50 1-8 1 52 1-14 1-77 2 45 0-31 0 53 2 46 1 9 1-36 1-10 1 51 1 12 1-19 1-2 1 32 1 4 1-8 0-2 2-13 1-3 1-41 1-1 1-171 1-36 1 96 1 90 0-56 2-40 1 72 1-70 0 103 1-16 2-60 1 43 1-88 0 6 1 84 2 24 1-78 2 36 0-64 1 36 1 67 0-1 1-87 2-17 1 81 1-84 0 68 1-40 2 85" stroke="#542788"/>
<path d="M35 493l1-44 1-110 1 82 1 82 1-22 1-71 1 93 0-6 2-69 0 17 2-72 0 55 2-72 1 59 0-54 1 34 2 50 0-20 2-48 0 5 2 92 0-14 1 39 2-399 1 408 1-17 1 21 0-3 2-87 0-17 2 53 1-47 0 79 1 9 1 19 1-13 2-39 0-16 1-72 1 45 2 61 0 16 1-81 1 37 2-48 0-12 2 86 0 9 2-62 1-26 1 79 0 20 1 24 1-14 2-43 0-27 1-21 1 46 1-54 1-11 2 64 0 12 2-66 0 5 2 69 0-51 1-65 2 92 1-60 0 27 1 55 1 14 1-38 2 20 0 22 1-35 2-52 0-28 1 78 1-10 1-44 1-20 2 73 1-45 1 61 1 16 1-89 1 58 1 55 0 7 2-31 1-58 1 55 0-24 1-80 2 82 1-84 1-73 1 66 0-55 2 83 0-10 1 85 2-64 0 76 1-35 1 40 2-13 0-33 1 12 2-39 0-6 2 50 1 29 1-78 0-15 1 65 2-48 1-60 0 8 2 122 0 9 2 8 1 0 1-68 0-26 2 56 0 4 2-76 0-14 1 51 1-40 1 47 1-39 2 44 0-28 1-30 1 1 1 57 2-61 1 66 1-11 1 54 0 11 1-37 1-25 2 40 0-3 1 18 1-1 1-77 1 16 2-21 0-39 1 85 1-38 2 51 0-12 2 36 0-2 2 24 1-17 1 21 0-5 2-63 1-38 1 71 0-16 2-55 1-10 1 47 0-15 1 65 2-30 1-99 0-12 1 47 1-13 0 24 2-37 2-55 0-6 2 87 0 11 2 66 0-35 2 44 0-7 2-66 1 32 0-56 1 55 1-60 1 38 2-50 1-36 1 121 1-67 0 46 1-25 2-140 0 13 2 120 0 7 2-115 0-32 2 130 0 34 0 41 2-56 2 58 0-24 2-65 1-163 0 158 2-3 1 38 1 53 0-62 1 44 1-50 1 31 1 70 1-14 1-19 1-6 2-59 0 20 2-94 0 36 1 65 1-13 2-98 0 40 1 112 1-14 1-56 1 59 1-43 1 26 2-71 0 36 1-35 2 93 1-58 0-13 1-48 2 28 0 32 1-18 2-53 0-30 1 110 1-17 1-310 1 256 2 47 1 25 1 54 1-44 0 51 1-62 1 60 1-10 2-87 1 15 1-141 1 5 0 123 2 52 1-42 0 4 1-45 2 50 1-104 0-17 2 137 0-20 1-23 1 44 1-45 1 53 2-54 1 13 1 41 0-15 1-129 1 5 1 130 2 12 1 43 0 2 1 31 1-7 1 11 1-2 1-36 1-2 1-55 1-2 0-56 3 91 1-63 0 70 2-64 0-95 2 113 1-75 0 72 2-55 1 42 0-61 0 86 3-84 1 68 0-15 1-151 1 105 2 100 0 10 1-62 1 26 1-57 1 80 1-52 2 80 1-63 0 11 0 37 2-75 2 90 1 16 0 21 1 3 2-33 0-60 1 48 1-31 1-42 1 60 1 49 1-11 1-30 1 4 1-45 1-2 2 67 0-25 1-42 1 5 2 59 0 13 2-20 0 4 1-64 1 20 1-26 1 25 1-100 2 52 0-43 1-16 2 154 0-9 1-70 1-53 0 43 2-30 1-43 1-62 1 132 1 19 1 21 1-35 1 69 1-57 1 63 1-16 1-55 1 54 1-75 2-27 0 61 1 11 1-81 1 73 2-243 0 126 1 106 1 51 1-46 1-7 1 62 1-29 1-63 1-39 1 149 1-3 0 31 2-35 1-91 1 76 1-46 1 44 1-79 2-29 0 71 1-7 1-63 2 41 1-66 0-63 1 143 2-12 0 25 1-33 0 22 2 5 1-61 2 44 0-46 1 50 2-88 0-3 1 82 1-2 1 70 1-11 1-48 1 42 1 65 1-6 1-48 1 22 1-146 1 6 1 51 2 13 0-80 1 51 1 147 1-1 1-31 1-23 1 35 1-2 1-51 2 36 0-38 1 15 1-114 1 26 1 52 1 0 1-42 1 26 1-72 1 63 1 71 1-19 1 68 1-1 1-59 1 24 1-71 1 3 1-22 2 1 0 20 1 4 1 79 1 7 1-30 1 16 1 24 1-33 1 23 1-1 1-22 1 8 0-32 2 29 1-65 2-12 0 59 1 4 1-48 1 44 1-64 1-18 1 67 1 3 1 65 1 8 1-37 1-3 1-35 1-288 1 314 1-27 1 38 1 1 1-65 1-2 1 69 1 3 1-35 1 5 1-39 1-10 0-38 3-5 0 41 1-8 1 77 1 8 1-58 0 50 2-68 2 15 0 23 1-21 1-55 0 15 2 73 1 26 1-66 1 0 1 57 2-67 0 65 1 8 0 24 2-35 0-64 2 67 1-34 1-36 1 20 1-6 1-61 2 122 0-73 1-37 1-162 1 59 1 149 1 18 1-32 1-7 0 37 2-83 1 67 1-12 1 60 1-18 1 50 1-2 1-93 1 0 1 61 2-43 0 65 1-18 0 29 1-24 2-52 1 59 1-64 1 6 1-54 1 30 1-178 1 153 1-121 1 76 1 126 1-24 1-82 1-5 1 112 1-22 1 36 0 6 1 26 2-34 1 33 1 9 1-18 1 1 1-46 1-9 1-146 1-57 1 137 1 6 0 30 2-13 0-117 2 108 1 36 0 6 1 68 2-72 1 59 1-24 0 34 2-51 1 51 1-26 1 45 0-7 2-81 1 13 0-24 2 10 1 56 0 17 2-49 1 17 0-57 2 58 1-41 0 60 2-86 0 21 2 56 1 13 1-22 0 3 1-46 1-26 2 47 1-32 1 56 0-7 1-44 2 43 1-57 1 0 0-68 2-45 1 96 1 37 1-178 1 176 1-51 0-10 2-164 0 95 1 131 2-77 1 83 1 28 1-39 1-52 1 118 1-346 0 346 2 31 1-36 1 8 1-52 1-72 1 94 0-27 2-30 2 7 0-27 0-13 1 85 2 20 0 42 2-22 1-33 1-8 1-89 1-45 1 93 1 6 0-10" stroke="#f1a340"/>
</g>
<path d="M625.8 946.8V1225.3" stroke="#222222" stroke-width="4.3" fill="none"/>
<path d="M625.8 1225.3H1000.4" stroke="#222222" stroke-width="8.2" fill="none"/>
<path d="M642.9 1225.3v10.8M711.0 1225.3v10.8M779.1 1225.3v10.8M847.2 1225.3v10.8M915.3 1225.3v10.8M983.4 1225.3v10.8" stroke="#333333" stroke-width="4.3" fill="none"/>
<path d="M614.3 1220.0h11.5M614.3 1156.1h11.5M614.3 1092.2h11.5M614.3 1028.4h11.5M614.3 964.5h11.5" stroke="#333333" stroke-width="4.1" fill="none"/>
<text transform="translate(604.8,1232.4) scale(1.035,1)" text-anchor="end" font-size="35.6" fill="#4d4d4d">0.0</text>
<text transform="translate(604.8,1168.5) scale(1.035,1)" text-anchor="end" font-size="35.6" fill="#4d4d4d">0.2</text>
<text transform="translate(604.8,1104.6) scale(1.035,1)" text-anchor="end" font-size="35.6" fill="#4d4d4d">0.4</text>
<text transform="translate(604.8,1040.8) scale(1.035,1)" text-anchor="end" font-size="35.6" fill="#4d4d4d">0.6</text>
<text transform="translate(604.8,976.9) scale(1.035,1)" text-anchor="end" font-size="35.6" fill="#4d4d4d">0.8</text>
<text transform="translate(642.9,1272.1) scale(1.035,1)" text-anchor="middle" font-size="35.6" fill="#4d4d4d">2500</text>
<text transform="translate(711.0,1272.1) scale(1.035,1)" text-anchor="middle" font-size="35.6" fill="#4d4d4d">3000</text>
<text transform="translate(779.1,1272.1) scale(1.035,1)" text-anchor="middle" font-size="35.6" fill="#4d4d4d">3500</text>
<text transform="translate(847.2,1272.1) scale(1.035,1)" text-anchor="middle" font-size="35.6" fill="#4d4d4d">4000</text>
<text transform="translate(915.3,1272.1) scale(1.035,1)" text-anchor="middle" font-size="35.6" fill="#4d4d4d">4500</text>
<text transform="translate(983.4,1272.1) scale(1.035,1)" text-anchor="middle" font-size="35.6" fill="#4d4d4d">5000</text>
<text transform="translate(812.6,924.0) scale(1.035,1)" text-anchor="middle" font-size="35.6" fill="#000" font-weight="bold">sigma[10]</text>
<g transform="translate(1115.3,946.0) scale(.5)" fill="none" stroke-width="9.6" stroke-linejoin="round" stroke-linecap="round">
<path d="M35 404l0-270 1 293 1 42 1 6 1-47 1-4 2-148 0 62 2 123 0 22 2-80 1-10 1-81 1 95 0-34 1 64 2-82 1-2 0-115 2 49 1 76 1-29 1-41 0 3 2 153 1 30 1-36 0-47 2 95 1 19 1-39 0 10 2-58 1-34 1 72 1-52 1 73 0 12 2-63 1 25 1-80 1 4 1 87 1-20 1-28 0 18 2 29 0-7 2-160 1-2 1 85 1 22 1-80 0-8 1 110 2-136 1 90 1-39 1 60 1-41 1 85 1-10 0 38 1-3 2 53 0-13 1-27 2 21 1-34 0 29 2-41 1-27 0 44 2 1 1-376 0 374 1-78 1 34 1-97 1 92 1-152 2 124 1-43 0-26 1 88 2 13 1-110 1 15 0 55 2-135 1 72 0-23 2 115 0 4 1-148 1-22 1 97 2-1 1-57 1 51 1-94 0 21 2 192 1-28 0 47 1-15 1-77 2 39 1-95 0 44 1 62 2-12 1-140 1 98 1-86 1-10 0-65 1 79 1 78 1-102 2 182 1 35 1-42 0 5 2-102 0 45 2-131 1-6 1 95 0-24 1 47 1-10 2 83 0-21 2 32 0-3 1 34 1 11 1-49 1 25 2 23 0-18 2-47 0-16 1-90 1 7 1 119 1-162 1 83 2-114 0 122 2-45 0 96 1-30 1-53 1 2 2 109 0-37 2-105 1-119 1 122 1-84 1 81 1 97 1-86 0 0 1 117 2-7 1-68 0 0 2 77 0-19 2 30 0-6 2-37 0-116 2 159 1-10 1-100 0-93 2 96 0-70 2 189 1 18 1-28 1 2 1-53 0-55 1-104 2 126 0-103 1 117 2 68 0-3 1 32 1 16 2-94 0 20 1 66 1-8 1-38 2 32 0 25 1 3 2-181 0-13 2 127 1-35 1 46 0 7 2-39 0 38 1-93 1 32 1 67 1-85 1 76 1-48 2 56 0 13 2-48 0-111 2 128 1-40 0 45 1-6 1-106 1 63 1-121 1-5 2 186 0 19 2-17 1-81 1 86 1-27 0 27 1-5 1 17 2-29 1 18 0 2 2-153 0-41 2 127 0-17 2 51 1-29 0 24 1-5 1-85 1 10 1 115 2-2 1-32 0-2 1 23 1-9 2-110 0-59 1 79 1-3 1 134 1-11 2 25 0-11 2-21 0 0 1-51 1 26 1-91 1 21 1-101 1 66 0 65 3 64 1-82 1 89 1-64 0-31 1-196 1 198 1-70 2-99 0 130 1 10 2 92 0-22 1-96 1-25 2 62 0-33 0 85 3 0 0 38 2-3 1-87 0-1 2 108 0-5 2-129 0-1 1-169 1 28 1 210 1 8 1-144 2 146 1-145 0 3 1 175 2 23 1-55 0-29 1 91 1-21 1-47 1-61 1 92 1-17 2-90 0 72 1-87 1-16 2 117 0 5 1-66 1 57 1-45 1 33 1-47 1 73 1-123 1 58 2-134 1-25 0 133 1-94 1 133 1-36 0 96 2-30 1-54 1-44 2 54 0-44 1-48 1-13 1 143 2-5 1 86 0-8 1 18 1-9 1-23 2 17 1-460 0 448 1-154 1-60 1 123 1-87 2 99 0-5 1 106 1 6 1-49 1-26 2 75 0-15 1-105 2-39 0 114 1 9 1-51 1-43 1-147 1 7 1 145 2 31 0-61 1 31 0 52 2-42 1-105 1 84 1-116 1 82 0 70 3-62 0 51 2-61 1 96 0-8 1 53 2 33 0-34 1-2 1-47 1 30 1-45 1 47 0 10 2-17 1-129 1 96 1 35 1-19 1 55 1-35 1-94 1 97 1-50 1 49 1-57 1-20 1 102 1-27 1-95 1-22 1 105 1 25 1 28 1-5 1-42 1 10 1-69 1 42 0-85 2 67 1-69 1-34 1 93 1 23 1-122 1 41 1 114 2-83 0 61 1-72 0-113 2 46 1 78 1-49 0 76 2 45 1-167 1 78 1-112 1 9 1 114 1-11 1-99 1 107 1-104 1-13 1 76 1 32 0 106 2-58 1 57 1-13 1-95 1 29 1 96 1-42 0-80 2 2 1 95 1 28 1-146 1 75 0-56 2 28 1 132 1 11 1-53 1 11 1-49 1 21 1-124 1 5 1 100 1 6 1-82 1 7 1 91 1 26 1-76 1 67 1-60 1 47 1-178 1-69 1 211 2 35 0-24 1-8 1-68 1 98 1-93 1 4 0 117 2-1 1-37 1 7 0-103 2 20 0-119 2 49 0 61 2-83 0 127 2-83 0 43 2-12 1 137 0-13 2 25 1-10 1-50 1 19 1-75 0 31 1-102 2 23 1 132 1-66 0-75 1-26 2-106 1-13 1 140 1-47 0 92 1 53 1-129 2 94 1-158 1-2 1 133 0 8 2 88 2 24 0-49 1-31 1 75 2-120 0 114 2 20 0-21 1-45 1 51 1 15 1-40 1 8 1-363 1 333 0-158 2-10 1 142 1-27 1 70 1-19 1-96 0-46 2 128 1-86 1-88 1 82 1 93 1-54 0 116 2-36 1 43 1 3 0 28 1 4 2-13 1-7 1-37 1-9 1-55 2-50 0 64 1-75 1 90 0-37 2-89 0 51 2-133 2 161 0-78 1-99 1 121 0-45 1 138 2 16 1-55 1-181 1 173 0-82 2 120 1-130 1 105 0 15 2 64 0 4 2-94 1 50 1-153 1 155 1-97 0 78 2-112 1 101 0 48 1-110 2 69 1-107 0 63 2-68 0-146 1 92 2 120 0 4 2 109 1-9 1-172 1-17 1 151 0 20 1-89 2 71 1-52 0 9 2-114 0 117 2 62 1-24 1-140 1 24 0 56 2-62 1 53 1-25 1 111 0-18 1-40 2-16 1 77 1-19 1-104 1 94 1 35 1 25 1-72 1 37 1-95 1-173 1 171 0 30 1 64 3-64 0-54 0-56 2 113 1-2 1 89 0-50 2-85 0 33 1-114 2 23 1 69 1-4 1-141 0 40 2 220 1-7 1 26" stroke="#e66101"/>
<path d="M36 357l0 79 0 34 2-108 0 19 2-55 1 53 1-217 0 167 1-112 1 227 1 30 2-6 1-42 0 40 2-57 1-39 1 98 0-13 1-72 1-13 2 110 1-12 0 37 1-46 2-57 1-89 0 119 2-105 1 110 0 12 2-125 1 4 1 110 0 22 2-124 1 56 1-108 0 99 2-238 0 192 1 84 1-49 1 110 2-35 0-75 1-16 1 60 2 26 1 38 0-14 1-100 2 48 1-96 0-29 1 122 1-92 1 131 1-67 1 52 1 24 2-117 1 91 0-75 2-56 1 114 0 20 1-136 1 27 2 137 0 42 2-85 1 29 1-163 0-91 2 246 1-97 0 86 2-49 1 83 1-68 1 111 0-73 2 44 1-19 1-95 1 6 1 87 1-18 1-93 1 29 1-72 0-17 2 90 0-53 1-119 1 57 2 92 1-69 0 107 1-82 1 98 1-22 1-55 1 26 1-94 1 1 2 201 0-17 1 66 1-10 1-21 1-6 2-92 0 61 1-156 1 25 1 146 2 36 1-36 0-38 2 84 0-8 2-38 0-4 1-62 2 81 1-199 1-19 1 109 1-65 1 128 0-135 1 95 1 25 2-155 1 85 0-93 2 122 1-108 0 46 2 124 0 46 2 16 1-9 0-19 1 30 2-29 0-19 2-78 1 36 0 51 1-52 2-127 1 15 0 61 1-75 1 138 2-32 1-145 1 79 1-152 0 38 2 254 1 25 1-26 0-14 2-107 0-82 1 159 1 3 1-149 2-57 1 198 1 89 1-29 0 0 2 38 0 4 2-56 0-6 2-120 0-42 1 144 1 34 2-90 1 55 1-119 1-60 1 170 1 31 1-98 1-65 0 64 1-28 2 112 1-14 0 53 1-12 2-109 0 64 2 43 0-25 1-108 1 17 1-102 1 118 2 93 0-9 1-71 2-69 1 75 0 20 1-93 1-26 1 181 2 25 1-34 0 16 1-81 2-47 0 118 2-92 1 69 0-80 1 75 1-90 1-75 1 21 1 92 1-82 1 98 1-148 2 153 1-62 1 83 0 25 1-62 2-38 1 112 0-40 1 59 1-24 2-40 1-3 0-94 1 14 2 95 0-5 1 68 1-14 1 39 1-6 1 15 1-18 1-85 1 27 1-121 3-28 0 89 0 17 2-177 0-24 1 142 1-124 1 117 2 7 0-74 1-151 0 214 2-145 2 155 0-82 1 77 1 22 1-61 1 51 0 82 3-101 0 123 1-107 1-122 1 67 1 150 2-172 0 109 1 94 1-82 1 42 2 40 1 26 1-65 0 4 1-50 1-65 0 128 3-77 1-85 1 82 0-143 1 145 1 94 1-3 2-144 0 98 1-76 1 51 1 108 1-39 1-20 1 10 1-45 1 8 2-74 0 16 2-57 0-31 1 115 1-50 1 138 1-119 1 100 1-54 0 74 2-21 1-111 1-93 1 117 1-79 2 169 1 12 0-52 1 16 1-213 1 59 2 147 0-15 2 90 0 4 1-75 1 23 1-171 1 31 1 128 1-99 1-94 1 72 0 81 2-90 1 118 1 15 2-67 0 78 1-72 1-28 1 125 1-1 1 17 1-59 1 36 2 7 0-24 1 27 2-91 0 34 1-96 1 57 1 60 1 7 2-168 0 127 1-127 1 57 1 75 1-26 1-122 1-31 1 197 2 3 0 23 1-78 1 99 1-15 1 15 1-25 0-43 2 50 1-87 2-53 0 60 1 50 1-104 2 125 1-21 1-65 0 60 1-36 1-86 1 48 0 128 2-38 0-88 2 114 1-35 1-15 0-135 2 0 1 97 1-10 1-42 1 24 1 75 2-1 0-78 1 57 1-135 1 63 1 137 1-126 1 88 1-174 1 125 1-46 1 90 1-78 1 79 1 27 1-70 1 35 1-109 2-23 0 110 1-36 1 78 1-48 1 75 1-1 1-52 1-103 1 143 1-8 0-110 3 114 0-89 1-27 1-102 1 21 1 215 1-48 1-142 1 3 1 153 1 43 1-130 1-15 1 104 1-41 1 36 1 36 1-99 1 24 1-163 1 7 1 87 1-44 1 113 1 22 1 63 1-22 1 50 1-29 1-171 2 26 0 92 1-11 1 74 1 8 1-55 1 24 1-107 1-25 1 111 1-9 0-95 2 73 1 61 1 10 1-57 1-24 1 95 1-4 1-53 1 50 0 25 2-7 1-59 2-21 0 30 1-11 1 35 1 25 1-86 1 5 1-80 1-9 1 80 1-10 1-122 1-24 1 141 1-40 1-115 0 160 2 88 2-26 0-49 1 41 1-61 0 21 2 64 1-56 1-78 1-20 1 122 1-123 1 81 1 22 1-45 1-60 0 123 2-45 1 58 1-79 1 98 1 8 1-34 1 4 0-73 2 100 1-114 1 115 1-37 0-7 1-89 2-32 1 109 1 12 1-167 1-23 1 168 2 40 0-95 1-81 1 96 0-16 2 119 1-1 1-57 1-43 0-152 2 17 1 161 1-26 1-150 1-6 1 120 1-83 1 148 2-99 0 103 1-60 1 82 1-100 1 118 1-337 0 319 2-51 1 59 2 0 0-36 1 5 0-90 2 43 1 88 1-9 1-34 1 3 0-124 2 98 0-88 2 77 1-133 2-75 0 136 0 52 2-183 0 78 2 196 1 5 1-152 1 53 1 70 1 35 1-120 1 46 0-116 1 84 1-67 2-16 1 138 1 70 1-25 1 10 1-91 1-61 1 117 1-143 1 96 0-58 1 126 2 18 1-77 1 60 1-115 1-47 1 82 0-63 2 75 1 59 1-151 0-55 1 134 2-141 1 97 1 89 1-120 1 76 1-67 0 11 1 77 2-85 1 166 0-41 2-239 1 159 0 127 2 10 1-41 2 35 0-54 1-15 0 43 2-29 0 53 1 14 2-62 0 61 2-61 1 3 1-85 1-54 0 119 2-93 1 54 0-50 1 110 2 7 1 45 1-13 1-55 0-103 2 166 1-11 1-141 2 9 0 115 1-16 0 33 2 25 1-36 1-30 1 51" stroke="#998ec3"/>
<path d="M34 489l2-118 0 46 1 51 1 5 2-137 1 49 1-109 1-43 1 139 1-86 1 93 0 45 2-139 1 17 0 70 2-41 0 88 1-135 2 99 1-73 0 109 1-39 1-181 2 246 1-123 0 30 1 76 1-32 1-74 1-54 2 143 1 31 1-75 1-3 0-39 2-11 1 60 0 35 1-58 1-19 1 91 1-42 2 123 0-43 2-102 1-135 1 159 1 4 1-83 0 141 2 25 1 2 0-56 2 3 1 70 1-5 0-23 2 33 1-41 1 2 1-72 1 50 1-76 0 86 1 29 1 42 2-31 1-11 1 24 0-3 2-22 0 6 1-81 1 38 1 47 2-177 1 107 1-137 1 119 0-31 1 102 1-44 1-122 1 146 2 66 0-11 2-107 1 81 1-83 0 25 2-97 1 113 1-129 0-4 2 192 2-8 0-57 1 32 0-90 1-31 2 104 0-46 2-71 0-18 1 116 2-77 0 125 1-104 1-136 2 118 1-110 0 40 0 95 3-19 1 75 1 32 0-104 2 87 1 42 0-4 2-131 1 100 1-125 0-13 2 111 0 15 2-192 0 10 2 80 1 3 0 89 1 39 2-109 1-54 1 156 1-14 0 11 1-15 1 71 1-12 2-52 1 52 1-48 0-31 2 75 0-15 0 21 2-9 2 29 0 4 2-44 0 12 2 30 0-11 2-49 0 9 1-128 2-67 1 88 1-32 0 71 2-77 0 96 2-2 1 44 1-91 1 99 0 15 2-137 0-59 1 144 1-27 2 62 1 27 1-42 0 34 1 20 1-13 1-60 1 12 1 41 1-38 1-74 2 7 1 78 0 17 2-70 0-50 0 117 3-48 0 45 1-5 2-205 1 18 0 134 1-108 2 151 1-7 1-142 0-12 1-89 1 157 1-86 1-42 2 160 1-55 0 89 2-30 1 38 1 16 1-148 1 53 0-105 1 84 1 125 1-1 1-89 1 57 2-83 0-57 1 166 2-185 1 146 1 52 0-37 1 28 1-148 1 21 2 133 1-50 1-88 1 29 1-106 0 42 1-44 1 42 2 154 1-40 1 54 1-98 1 101 0 14 2-103 0 13 2 98 0 9 1-32 2 6 1-27 1-102 0 115 1-17 2 36 0-11 2 39 0 13 2-26 0 9 2-71 1-90 1 117 0-37 1-85 1-68 1 89 1 56 1 60 1-4 1-64 1 44 1-90 1 65 1 71 1-16 2-130 0 42 1 73 1-21 1-85 1 12 1-105 1 71 1 98 1-62 1 116 2-30 1-95 0-49 1-123 1 56 2 102 0 94 2-112 1-133 1 191 0 20 1 55 1-50 1 50 1 8 2-80 1-18 0-243 1 140 1 82 1-24 2 129 0 38 1-49 1-12 1-108 1-23 1 110 1 57 1-48 1-26 1 93 1-59 1 66 1-24 1-187 1 183 2-126 1 30 1 112 1-8 1 27 0 13 2-26 0-43 1 51 1-59 1 56 1-9 2-109 0-71 2 172 0-26 1 29 1-51 2-98 0 31 1 124 2 0 1-49 0 2 2-113 0-12 1 158 2-23 0-81 2-108 1 175 0 23 1-76 1-113 1 153 2-5 0-76 1 69 1-80 2 97 1-88 0-24 1 154 1-6 1-112 2 35 0 86 1-22 1-27 1-74 1 103 1 4 2-162 0 3 1-92 1 132 1 105 1-52 0 70 2-35 1-133 1-44 0 85 2-54 1 91 1-35 1 80 1-60 1 91 2-50 0-96 1 91 1-168 1-30 1 249 1-5 1-301 1 201 1 90 1-105 0 101 2 47 2-79 0 10 1-78 2 92 0-94 1-10 2 130 0-55 1 69 1-15 1-91 1 24 2-152 0 80 1-81 1 178 1-99 1 75 0 70 2-114 1 130 1 5 1-141 2-5 1 135 0-41 1-106 1 76 0-116 2 46 1 111 1-113 1 194 1 1 1-32 1-16 1 44 1 6 1-38 1 15 0-84 2-71 1 111 1 10 1-124 1 115 1 46 2-75 0 72 1 15 1-33 1 10 1 13 2 8 0-23 1-24 1-99 1-23 1 119 1-87 1 115 1 15 1-28 1-9 1-65 1-33 1 87 1 20 1-85 1-31 1 92 1-86 1-144 1 70 1 203 1-12 1-155 1-34 1 171 1 12 1-78 1 84 1-100 1 87 0-62 2 43 1-98 1-9 1 114 1 33 1-62 1 32 1-129 1 131 1-101 1 55 1 69 1-115 1 67 1-11 1-119 2 36 0-70 1 122 1-80 1-20 1 131 0-87 2 120 1-80 1 81 1-50 1 84 0-11 2-147 1 96 1 63 1-30 1-74 1-59 1 168 1 0 1-36 1-3 1 30 0-8 2-143 2 55 0-176 2 69 0 57 0-108 2 209 1-25 1-73 1-95 0-96 1 17 2 192 1 81 1-96 2 45 0-46 1-32 1 87 1-76 1 106 1 34 1-100 2-82 0 89 2-32 0 116 1-47 0 87 2-19 1-94 1-75 1 172 1-9 1 42 0-16 2-158 1-50 1 169 1-24 1 54 0-13 2-135 2 86 0-98 2-54 0 173 2 35 0-56 1-53 1 91 1 38 1-46 1 3 1-160 1 23 0 111 2-112 1 95 1-40 1 73 1-151 1 163 1-82 1 80 0 34 2-106 1-31 1 75 1-81 1 138 1 6 1-89 1 58 1-89 1 113 1-64 1-42 0-158 2 184 0-58 2-6 1 121 0-12 1-96 2 70 1-70 1 49 1-84 0 48 1 111 2-55 0-277 2 198 1-120 0 131 1 86 2 19 1-100 1 97 0-27 1 7 2-174 1 170 1 39 1 18 1-61 1 25 1-103 1 39 1-78 0 24 1 93 1-156 1 106 2-13 1-108 1 77 1 117 0-1 2-113 1 16 0 125 1-83 2 63 0-41 2-181 1-3 1 87 1 7 1 117 1-61 1 93 1-10 1-135 0 7 1 103 1-34 1-163 2 73 1 85 1 4 0-55 2 68 1-107 0-16 1 77 1-141 2 167 1-126 1 169" stroke="#542788"/>
<path d="M35 487l1-79 1 13 0-70 1 114 2-101 0 40 2-144 1-47 1 126 0 7 2 113 0-7 2-88 0-5 1 77 2-31 1-70 0-46 1 117 2 13 1-108 0-9 2 94 1-45 1 129 0-4 2 32 1 17 1-30 0 9 2 15 1 8 1-18 1 2 0-7 1 14 2-128 1 90 1-103 1-32 1 119 1 4 1-39 0 29 2-87 0-38 2 128 0-28 1-78 1 55 1 55 2 1 0 26 2 11 1-19 0 5 1-139 2 95 1-84 1-38 1 103 0-28 2 92 0-54 2-79 0-89 1 110 2 33 1-88 1 28 1 99 1-12 1 32 0-23 2 44 0-18 2-70 0-30 2-36 1-70 0 80 2 117 1-111 1-10 1 93 1-19 1 67 0-10 2-171 0-24 1 99 1-36 1 38 1-34 2 127 1 10 1-95 1-104 1 145 1-77 0 81 1-75 2 93 0 15 1-67 1-35 2 114 1 28 1-41 1 0 1-101 1 73 1 55 0 4 1-37 1-3 1-163 1 56 1 93 2-47 0 100 2-58 0 51 1-108 2 54 0-12 2-76 1-48 0 100 2 14 1-102 1 19 1 140 0 3 2-93 0 36 1-75 1-7 0-82 2 4 2 171 1-165 1 193 1-19 1 57 0-9 2-122 0-3 1 109 1-160 2 119 1-129 1 156 1-87 0 108 2-143 1 123 1 35 1 13 1 7 1-24 1-54 1 44 0 6 2-189 0 14 1 52 2 90 1-139 1 113 1-122 0-45 1 93 1-47 2 162 1 3 1 30 0 3 1-16 1 12 1-106 1-27 1 89 1-24 1-86 1 15 1-85 1 93 2 53 0 29 1-77 2-43 1 147 0 12 1-45 1 52 1-17 2-13 1 21 0-36 1-188 1 55 1-99 1 10 1 88 2 15 1 127 1-9 0-92 1 113 2-41 1-359 1 396 1 3 1 17 1 20 1-24 0 25 1-21 1 14 1-19 1 6 2-62 0 22 1-63 1-13 1 101 2-68 1 87 1-103 1 93 0 2 1 35 1-26 2-139 1-48 0 53 2-64 1 123 0 63 2-109 0 9 1-120 1 18 2 173 0 1 1-133 1-47 0 91 3 55 1-106 0-20 2 69 0-30 1 60 1-2 1-71 2 69 0-35 2 21 0 67 1-34 2 84 0-39 1-97 1-1 1 82 1-67 1-96 2-45 1 129 0-22 2 137 0-6 2-143 0-70 2 102 0-65 2 140 0-72 1 95 1-6 1-112 1 49 1 100 1-147 2 96 0 37 1-50 1 53 1-61 2 15 0 57 1-25 1-73 1-29 1 54 1-18 0-53 3 91 0-86 1 58 1-57 1-57 1 205 1-32 2-117 0-69 1 97 1-119 1 109 1-118 0 151 2 66 2-102 0-33 2 132 0-2 1-69 1 70 1-188 2-73 1 183 0-192 2 174 0 4 2-64 0 0 1 143 1-97 2-99 1-9 1 96 1-84 0 80 1-81 1 148 1 55 1-83 1 14 1-85 1 120 1-91 2 60 1-71 0 52 2-88 0 0 0 108 2-113 0 68 2 130 2-97 0 22 1 55 1-2 1-109 1 43 1 109 1-28 1-66 1 34 1 36 1-35 1-64 1 16 1-64 1-15 1 73 1 7 1 113 1-7 1-44 1 26 0-63 3 23 0 39 1-32 1-99 1 18 1 105 1-155 1 127 1 9 1-48 1 76 2-90 1-84 0 75 2-38 0 88 1 37 2-111 1 16 0 50 1-88 1 81 1 10 0-121 3 83 0 57 1-59 1 95 1-18 1-91 1 38 1 60 1-13 1-46 1 64 1-65 1 6 0-140 2 70 1 96 1-96 1 99 1-45 1-89 1 47 1 123 1 18 1-86 2 46 0 40 1-16 1 33 1-13 1-102 1 35 1 44 1-79 1 100 1-28 1 34 1-1 1-28 1 8 0-68 2-23 1 75 1-35 1-90 1-17 0 110 2-65 1 102 1-12 1-83 1-21 1 83 1-10 1-128 1-51 1 226 1-37 1 65 1-25 1-67 1 29 1-91 2 9 0 91 1-52 1 70 2-8 0 19 1-3 1-29 1 14 1 48 1-5 1-35 1-7 1-151 1-9 1 110 2-21 0-42 1-69 0 122 2 58 1-133 1-30 1 117 1-17 1-130 1-102 1 274 2-68 0 46 1-11 1-109 1 38 1 129 1-37 1-54 1 54 1-196 1 115 1-120 2 64 0 34 1 63 1-126 2 131 0-88 1 66 1-64 1 136 1-110 1 64 1-148 1 95 1 135 1-35 0 31 2-1 1-197 1 46 0 130 2 7 1-168 1 42 1-119 1 49 1 139 1 70 1 36 0-1 2-69 1 44 1-44 1-6 1 53 0 14 2-36 1 7 1-102 1 98 1-104 1 88 1-109 1 42 1-127 1-108 1 302 1 30 1-184 1-56 1 234 1-17 1 41 0-21 2-63 1 31 1-81 1-60 1 77 0 15 1 80 2-31 1-13 1-10 1 53 2 26 0-39 1 5 1-107 1-23 1-95 0 4 2 178 1-99 1 156 1-64 1-158 1-77 1 167 1-52 1 59 1-57 1-94 1-3 0 156 2-13 1-103 1 138 1-64 0 20 1-162 2 36 1 215 1-87 1 111 1-169 1 148 1-2 1-161 1 70 1-61 0-8 1 68 3 107 0-61 0 20 2-74 1-7 1 129 1-27 0-81 1 46 1 72 2-162 0 78 2-17 1 87 1-69 1 74 1 17 1-85 1 41 0 49 1-48 2 38 1-8 1 53 1-16 1-219 0 70 2 107 1 12 1-416 1 357 0 62 1-29 2-156 0 8 1 161 2-97 1 107 0 18 2-29 1 2 0 49 2-7 1-152 1 104 1-122 1 71 1-66 1 57 1 84 0-35 2 63 1-3 1-61 1-5 0 56 2 26 1-45 1 6 1-98 1 43 1 55 1-31 1 54 1-7 1-103 1-92 1 107 1-10 1 73 0-20 2-121 1-18 1 99 1-291 1 262 1-80 1 129" stroke="#f1a340"/>
</g>
<path d="M1115.3 946.8V1225.3" stroke="#222222" stroke-width="4.3" fill="none"/>
<path d="M1115.3 1225.3H1489.9" stroke="#222222" stroke-width="8.2" fill="none"/>
<path d="M1132.4 1225.3v10.8M1200.5 1225.3v10.8M1268.6 1225.3v10.8M1336.7 1225.3v10.8M1404.8 1225.3v10.8M1472.9 1225.3v10.8" stroke="#333333" stroke-width="4.3" fill="none"/>
<path d="M1103.8 1217.3h11.5M1103.8 1142.7h11.5M1103.8 1068.1h11.5M1103.8 993.5h11.5" stroke="#333333" stroke-width="4.1" fill="none"/>
<text transform="translate(1094.3,1229.7) scale(1.035,1)" text-anchor="end" font-size="35.6" fill="#4d4d4d">0.00</text>
<text transform="translate(1094.3,1155.1) scale(1.035,1)" text-anchor="end" font-size="35.6" fill="#4d4d4d">0.25</text>
<text transform="translate(1094.3,1080.5) scale(1.035,1)" text-anchor="end" font-size="35.6" fill="#4d4d4d">0.50</text>
<text transform="translate(1094.3,1005.9) scale(1.035,1)" text-anchor="end" font-size="35.6" fill="#4d4d4d">0.75</text>
<text transform="translate(1132.4,1272.1) scale(1.035,1)" text-anchor="middle" font-size="35.6" fill="#4d4d4d">2500</text>
<text transform="translate(1200.5,1272.1) scale(1.035,1)" text-anchor="middle" font-size="35.6" fill="#4d4d4d">3000</text>
<text transform="translate(1268.6,1272.1) scale(1.035,1)" text-anchor="middle" font-size="35.6" fill="#4d4d4d">3500</text>
<text transform="translate(1336.7,1272.1) scale(1.035,1)" text-anchor="middle" font-size="35.6" fill="#4d4d4d">4000</text>
<text transform="translate(1404.8,1272.1) scale(1.035,1)" text-anchor="middle" font-size="35.6" fill="#4d4d4d">4500</text>
<text transform="translate(1472.9,1272.1) scale(1.035,1)" text-anchor="middle" font-size="35.6" fill="#4d4d4d">5000</text>
<text transform="translate(1302.1,924.0) scale(1.035,1)" text-anchor="middle" font-size="35.6" fill="#000" font-weight="bold">sigma[11]</text>
<g transform="translate(1604.85,946.0) scale(.5)" fill="none" stroke-width="9.6" stroke-linejoin="round" stroke-linecap="round">
<path d="M34 479l2-115 1 70 1 66 0-25 1 36 1-41 2 36 0-11 2-53 0-16 2-96 1-129 1 170 1-79 1 91 0-5 2 58 0-6 1-97 2 100 1-100 1 30 0 45 2 23 1-81 0-11 1 95 1-23 1-67 1-20 2 151 0-56 2-149 1 114 1-114 0 131 2-174 0 63 2 119 0 1 1 64 2-31 1-102 0 67 1 42 2-154 1 128 0-64 2 109 1-2 1-122 0 4 1 59 2 39 1-98 1 55 1-71 1 100 1-122 1-107 1 162 0-47 1 127 1-166 2 95 1-55 1-108 0 28 2 131 0-28 1 98 1-14 2-145 1-46 1 214 0-5 1 36 1-86 1 57 2-37 1-76 0 84 2-89 1-6 0 124 2-43 0 35 1-30 1-76 2 66 0 51 2-152 1 130 0-19 2 45 1 4 1 19 1 3 1-177 0-9 1 69 2-85 0 91 1 14 1-71 2-8 1 100 0 42 1-47 1-32 1 52 2-78 1 84 1-114 0 109 2-20 1-122 0 24 1 105 2-112 1 96 0-21 1 89 1-31 1 57 2-172 1 122 1-42 1 28 0-70 2 102 0 35 2-42 0 18 2-120 1 22 1 84 0-24 1-131 2 129 1-64 1-45 0 77 2-259 0 312 2-94 0 83 1-4 1-178 1 125 2-50 1-54 1 64 0 21 1-86 2 157 1-115 1 42 0-56 2 29 0 95 2-58 1 111 0 2 2-83 0-19 1-74 2 46 1 62 0 1 1-114 1 110 2-262 0 58 2 137 0 23 2-95 0-29 1 197 1-7 1-138 1 42 1 60 2 19 0-81 1-55 2 139 1 49 1-79 0 36 1-81 2 18 1-77 1-77 1 120 0 40 1-59 2 59 1-154 0 123 2-255 1 204 1 104 0-29 0 88 2 15 2-98 1 88 0-73 1 18 0-101 2 42 1 105 1-132 1 138 1-102 0 102 3 3 0-359 1 353 1-135 1-1 1 88 1-106 2 62 1 61 1-82 0 3 2 116 0 18 1-36 1 15 1-15 2 22 1 32 0-6 2-55 0-24 1 51 1 17 1-43 2 45 1-120 1-55 1 113 0-9 1 76 1-6 2-66 0 25 1-69 1-39 1 105 1-73 2-97 0-16 1 88 1-127 2 242 0-7 1-147 1 10 0-54 2 38 1 108 1-53 2 86 0-70 1 128 1-70 2 68 0 0 1-30 2-23 0 25 1-15 1-116 2 95 0-112 1 112 0-100 2 33 1 77 2-129 1 63 0-16 0 97 3-184 0 129 2 42 1 26 0-10 1 38 1-9 2-34 0 46 2-108 0 71 2-83 0 70 2-106 0-31 1 121 1 21 2-117 0 71 1-152 1 15 1 175 2-143 1 131 0-3 2 60 0-16 1-45 1 14 1-131 2 64 1 122 1-28 1 47 0-3 2-17 0 1 2-56 0-1 1-62 2 87 0-33 1-51 1 105 1-6 2-100 0-60 1-108 2 140 1 107 0-35 1 60 1-83 1 74 2-33 0 51 1 16 2-47 0-67 1 64 1-86 1-141 1 22 1 63 1-34 2 101 0 26 1 76 2-116 0 97 1 30 1-360 1 254 1-68 1-82 2 217 0-93 1 126 1-1 1-98 1-73 1 159 1-43 1-111 2 151 0-59 1-16 2 50 0 7 1-92 1-23 0 120 2-34 1 49 1-1 1-79 1-15 1-139 1-15 1 181 1-82 1 174 1-28 0-27 2 22 1-100 1-84 1 150 1-108 1-64 1-68 1 143 2-31 0 142 1-76 1-231 1 46 1 245 1-19 1-34 1-31 1 65 1-134 2 130 0-82 1-41 1 30 1-97 1 56 1 101 1-81 1-55 2-2 0 156 1-16 2 56 0 28 1-150 1 41 1-68 2 65 1-48 0 113 1-170 1 35 1 119 2-91 0 125 2 20 0-15 1 0 0-129 2-3 0 146 3-80 0-76 1-23 1 100 1 76 1-154 1 113 1 37 1 18 0 30 2-60 1-204 1 63 1-126 1 125 1 164 1-6 1 64 1-6 1 21 1 4 1-54 1-16 1-106 1-75 1 75 1-67 1 94 2-107 0 104 1-21 1-45 1-11 1 97 1 49 1-75 1-37 1-64 1 97 0-121 2 61 1 117 1-60 1-37 1 84 1 77 1-11 1-33 2-89 0 75 1-2 1-51 1 55 1-117 1 43 0 93 2-24 1-75 1-95 1 203 1-2 1-87 1 21 1 69 1-6 1-108 1 12 1-42 1 5 1 76 0-18 2-123 1 12 1 183 1-77 1 71 0-68 2-97 1-37 1 107 1-12 1 115 1 25 1-71 1 39 1 29 1 25 1-29 0 23 1-26 2 9 0 30 2-11 0-62 2 46 1-202 1 28 1 153 1 4 1 35 1-44 1 47 1-54 1-143 1-34 1 72 1 22 1-55 1 161 1-72 1 64 1-83 0 87 2-80 2 84 0-78 1-48 1 113 0-14 2-100 1-46 1 92 1 65 1-156 1 36 1 90 1-106 0 89 2-113 1-68 1 67 0 130 2-103 1 129 1 10 1-89 1 116 1-49 1 25 1-37 1 24 0-100 2 87 1-169 1-47 1 72 1-73 1 246 0-2 1 33 2 10 1-17 0 15 2-61 0-28 1-149 2 59 0 135 2 2 1-44 0 31 1-113 2 44 1 62 0-30 2 58 1-6 0-54 2-14 1-124 1 31 1 60 1-15 0 60 2 14 1-161 1 51 1 154 1 18 1-72 1 19 1-100 1-62 0 61 1-35 1 44 2-81 1 171 0-19 2-76 1 99 1-241 1 100 1 77 1-24 1 126 0-8 2-116 1-168 1 176 0-62 2 154 0 28 2 28 1-13 1 22 0 6 2-18 0-13 1-53 2-13 1 57 1-63 0 47 2-34 1 73 1-22 1-117 0-29 1 75 2-68 1 126 1-74 1-64 1-68 1 95 1 58 1-130 2-20 0 97 0-105 2-86 0 53 2 185 1-148 1 152 1-9 1-86 1 8 1 62" stroke="#e66101"/>
<path d="M35 384l1 76 1-9 1-97 1 20 1 77 0-14 2-186 1 150 1-68 1-32 1 159 0 5 2-141 0 126 2-125 1 100 1-114 0 24 2 132 1-22 1-35 1-57 1 78 1 58 1-31 0-4 2-114 0 43 2-155 0 19 1 196 1-13 2-193 0 5 1 129 1-51 2-81 0 38 1 151 1 13 1-135 1 37 2-153 0 11 1 147 2-74 1 161 0-24 2 82 0-64 1-163 2 67 0 65 1-74 1 59 2-129 1 74 0-37 1 51 2 26 1 82 0-24 1-119 2 31 1 77 1 68 1-70 1 29 1-122 0-76 1 137 1-24 0 83 4-58 0 57 1 12 1-86 1-81 1 88 0-4 1 75 1 24 2-16 0 43 2-53 0-23 1 45 2-41 1-85 0-43 2-143 1 72 0 98 1 17 1-105 2-7 1 202 1-44 1 120 0-10 2-90 1-102 1 146 1-156 1 124 1-86 1 84 0 10 2-99 1 69 1-77 0-9 1-37 2 5 0 44 2-11 1 136 0-12 2-138 1 148 1-328 1 214 1 119 1 13 1 20 1 1 1-44 1-29 1 60 0 20 2-84 1-49 1 83 0-63 2 73 0 8 2-57 0-9 1 92 1 4 1 23 1-2 1 18 1-26 2-41 1 29 1-43 0 26 2-54 1-19 1 87 0-20 2-104 1-17 0-95 2 141 0-135 2 189 1-112 0-51 1 124 2-190 1 160 1-6 1-39 0 51 1 93 1-72 1-91 1-91 2 190 1-31 1-79 0 16 1 51 2-79 1 127 1 53 0-59 2-37 1 68 0-94 1 67 2 60 1-68 0 39 1-86 1 55 1-81 1 105 2-203 1 107 1-81 1 52 1-131 0-4 1 210 2-84 1 106 1-64 1-148 0-24 1 246 1-17 1-170 1-23 2 129 0 39 1-118 1 40 2-164 0 116 1 142 2-136 0 103 1-42 1 92 1-94 1 117 1-84 1-132 1 193 2 65 0 5 2 36 1 6 0-23 1 6 1-53 1 11 1 30 1 3 1-31 1 31 2-97 0-15 2 76 0 9 2-118 0 80 1 58 1-27 1-107 1 60 2 70 0-44 0-122 2 33 1-74 2 48 1-62 0 42 2 124 0-50 2 113 0-2 2-44 0 19 1-31 1-31 1-44 1 69 1-141 1 34 1 118 1 30 2-90 1-97 0 137 1-25 2 75 0-13 1 23 2-16 1-47 1-95 1 126 0-47 1 37 1 28 2-120 0-29 1-80 2 101 1-109 0-26 2 135 0 48 1-102 1 12 2 135 1-86 1 119 0 8 1-76 2-55 0 85 1-44 1-77 1-46 1 138 2-78 1 130 0 4 1-94 2-42 1 169 0 0 2-78 0 59 2-149 0 92 1-105 2 56 0 84 1-146 1 43 1-60 1 129 2 30 0-86 2-54 1 153 0 34 2-59 0-7 2-139 0-61 1 148 2 51 0-107 2 61 1-78 0-37 2 88 1-9 1 89 1-10 0-99 2 43 0-69 2-45 0 79 2-139 1 140 1-33 1 150 1 6 0-88 1 53 2-105 0-24 0 88 2 13 1-135 2 9 1 57 0 31 1 39 1 58 1-88 1 43 2 76 0 9 1-108 1 34 1 42 1 9 2-65 0 41 0-67 2 68 1-86 1-21 2-120 0 36 1 182 2-33 0 51 1-10 1 55 1 8 1-37 2 8 0-50 1-54 2-113 0 28 1 87 2 99 0-144 1 4 1 152 1 8 1-60 1-93 1 85 1 33 2-77 1 76 0-114 1-10 1 45 1-36 1 77 1-4 1-90 1-15 1-115 2-163 1 349 0-31 1 82 1-45 1 68 1 2 1-90 1-43 1 142 2-2 0-133 2-93 1 193 0 8 1-52 1 38 1-158 1 156 2-82 1 45 0-105 1 5 1 91 1-47 1 84 1-149 1 84 1-30 0-72 2 51 1 52 1 11 1 101 1-11 0-155 2 139 0-68 2 65 1-26 1 34 1-157 1 26 1 147 1-55 1-107 1-2 1 148 1-56 1 80 1-10 1-86 1 37 1 81 1-11 1-100 1 72 1-79 1-70 0 104 2-68 1 110 1-100 0 121 2-13 1-134 1 33 1-68 1-30 1 138 1-122 1 125 1-88 0 91 3-4 0 65 1-14 1 53 1-38 1 28 1 15 1-42 1-15 0-30 2 8 1-113 2 52 0-110 1 36 1 148 1 8 1 54 2 8 0-17 1-3 0-41 3-32 0 57 1-11 1 9 1 24 1-44 1 0 1-89 1 91 0-177 2 198 1-13 0 14 2-42 1 43 1 30 1-13 1-125 1 27 1-80 1-234 0 319 2-71 1-78 1-7 1 159 1-88 1 134 1-73 1-136 0 26 1 112 2 27 1-56 1-21 1 102 1-96 0 102 2 2 1-96 1-10 1 120 1-33 1 69 1-24 1 47 1-7 1-40 1 3 1-89 1-16 1 72 1-92 1 107 1 6 1-113 2-69 0 82 1 89 1-66 0 57 2-107 1 53 1-84 1 69 1 113 1 23 1-137 1 24 1 96 1-3 1-45 0 4 2-107 1 55 0 62 2 8 1 38 1 14 0-33 2 18 0-30 2 12 0-73 2-39 0 91 2-103 0-136 3 74 0 94 1-48 1 117 1-25 1 56 2-12 0-53 0-40 2-65 1-15 1 158 1-33 1 40 0-7 1-113 2 79 1-137 1-10 1 98 0-99 1 91 2-4 1-107 0-5 2 109 1-11 1 97 1-71 0 69 2-46 1-79 1 129 1-107 1 27 0 74 2-146 1 114 2-81 0 97 2 19 0 19 0-36 2-121 1 100 1 62 1-43 1 53 0-6 2-102 1 88 1-99 1 90 1-92 1 57 1-181 0 26 2 178 1-53 1 87 0-42 2 48 1-58 1 51 1-1 1-96 1 57 1-49 2 64 0-74 1-12 1 63 0 10 2 77 0 1 2-125 2-18 0 103 0 2 2 33 1-90 1 64 0-13 1-41 1 33 2-65 0 16 1-97" stroke="#998ec3"/>
<path d="M35 245l1 79 1-37 0 119 1-32 1-26 2-5 1 74 1-88 1 114 1 31 1-58 0-3 2 61 0 5 2-159 0 39 2 106 1-6 1-35 1-93 1 125 1-34 0 38 3-16 0 38 1 26 1-21 1 3 1-63 1 27 0-91 2 97 0-50 1 22 1 54 1 9 2-40 1-12 1-117 1 94 0-150 2 158 1-140 0 28 1-107 2 20 1 103 0 55 2 73 0-11 2-121 1 152 1-27 1 8 1-39 1 35 1 18 1-51 1 39 0-23 1 34 2-29 0 41 1-25 2-89 1-24 1-108 0 9 2 104 0-40 1 83 2 32 1-156 0 141 1-146 1 145 2-161 1-48 0 211 2-9 0 54 1-21 1 37 2-108 1 64 0-27 2-152 0 34 2 166 0-37 2-144 0 7 1 129 2-50 0-73 2 74 0-73 2 64 0-82 1 149 2-83 0 48 2 106 0-2 2-36 1 50 1-34 0 11 1-102 1-33 1-157 2 102 1 135 0-2 1 54 1-25 1-84 1 59 2-116 0 46 2 104 1 13 1-125 1-23 1-162 0 47 1 217 1-48 1-69 1 4 1 99 1-119 2 87 0-37 1 120 1-234 1 154 2-81 1 111 0-87 2 121 0 4 1-158 2 25 1 138 0-3 1-81 1 56 2-124 0-20 1 82 2-102 0 97 1 66 1 48 1-23 2-104 1 25 1-96 0-56 1 180 1-105 2 150 0 7 2-194 0 15 1 60 2-46 1 91 0 54 2-66 0 35 1 48 1 21 2-114 1-28 1 63 1-113 1 135 0-16 1 52 2-74 0-30 1 31 1 52 1-88 2-172 0 39 1 136 1-7 1-78 2 186 1-125 0-14 1 146 1-31 2-75 1-81 1 117 1-38 1 83 1-75 1 110 0-21 2-127 0-69 1 81 1-70 1-103 2 46 1 214 0-49 1 39 2 77 0-106 1 68 1-118 2 47 1 115 0-8 1-38 2 2 1-37 1-13 1 92 1-114 1 94 0-32 2 41 0-34 1 36 1-11 2-77 0 38 2-107 0-33 2 139 1-8 1-66 1-49 1 127 0-99 2 103 1 36 1-376 0 333 1 39 1-29 2-115 0 59 1 54 1-28 2-107 0-81 2 150 1 48 0-55 2 62 1-56 0-30 1 79 1-25 2-51 0 28 1 108 2-107 1 78 0-11 2-210 1 132 1-78 0-159 1 345 1 11 2-25 0 4 0-27 2 41 2-94 1-8 1 80 0-1 1-50 1 55 1-154 1 124 1-93 1 36 0 51 3-47 0 70 2-8 0-96 2 90 1 33 0-1 1-58 1 70 2-187 0 49 1 117 1-64 1-71 1-1 1 52 1-74 1 138 2-80 1-115 0-95 2 237 0 43 2-81 0 116 2-123 0 79 1-61 1-107 1 109 2 35 1-74 0 22 1 111 1-40 1-109 1 12 1 93 1-83 1 45 2 24 1-45 0 7 1 71 1-46 0-68 3 59 0-144 1 147 1-109 1 89 1 93 2-95 0 105 2-14 0 30 2 30 1-59 0-2 1 40 1 7 2-146 0-12 2 110 1 13 0-49 1-13 1-155 1 79 1 107 1-78 1 103 1 31 2 41 0-20 1-175 1-22 1 171 1-13 2-122 0 29 1 75 2-3 0 51 1-14 2-104 0 12 1-105 2-4 0 100 1-245 0 217 2 22 1 129 1 3 1-135 1-45 0 45 2-137 1 82 1-26 1 186 1-9 1-101 1 62 1-66 1-13 1-81 1 47 1-120 1 61 1 117 2 54 0-74 1 35 1-148 1 19 1 99 1 3 1 89 1-7 1-158 2 27 0 80 1-3 1-71 1 53 1 73 2-105 0 80 1 8 1-94 1 12 2 36 1 27 0-98 1 33 0-89 2 29 1 162 1-29 1-209 1-3 1 184 2 77 0-48 1 35 1-98 1-12 1 120 1-107 1 98 1 28 1-86 1 25 0-44 2 41 1 79 1 17 1-17 1 30 1-23 1 11 0 26 3-52 0 41 1-6 1-53 1-69 1 100 1-8 1-30 2-125 0 104 1 9 1 32 1-43 1 63 1 1 1-38 1 18 1-102 1-67 1 129 1-69 0 93 2-34 1-107 1-13 1 85 1-26 1 45 1-70 1 76 2-146 0 108 2 31 0-80 1-9 0 121 2-101 0 133 2-15 1-59 1 8 1-126 2 85 0-71 1 68 1-81 1-46 1 101 1-65 1 185 1-37 1 83 1 9 1-60 1 0 1 48 1-33 1 33 2-14 0 37 1-30 1-19 1 9 1-49 1-41 1 63 1-17 0-108 2 15 0 82 3-131 0 119 1-33 1-104 1 65 1 110 0-46 2-112 1 46 1 117 1-21 0 40 2-18 1 19 1-31 0-77 3-79 0 133 0-57 2 121 1-46 1-123 1-40 1 132 0-42 2-169 1 101 1 107 1-29 1-60 1 65 1-151 1 3 0 100 2-44 1 167 1-13 1-147 1 16 1 159 1-2 1 11 0-4 2-96 1 33 1 74 1-21 1 31 1 11 1-21 1 26 0-42 2 3 1-52 2-98 0 123 2 26 0-59 1-15 1-84 1 51 1-74 1 80 1 107 0-22 1 43 1-58 2-140 2 118 0-62 0 87 2-121 1-50 0 52 2-7 1-85 1 31 1 147 2-83 0 97 1-13 1-132 1-20 1 118 1 8 1-107 1 69 1 118 0 10 2-231 1-30 1 210 1 10 1-85 1 93 1-93 0 2 2 127 1-14 1-47 1-30 1 69 0-5 1-40 2 6 0-64 2 54 1-128 0-2 2 76 1 24 1-64 1-31 1 94 0-123 2 168 2-4 0-92 0 7 1-59 2 105 1-80 1 56 0-60 2 181 1-48 1-61 1 88 1-4 1-34 1 17 1-75 1-38 1 139 1-6 1-36 0-3 1-111 3 135 0 41 0-2 2-53 1 78 0-46 2 25 1 32 1-9 1-19 0-2 1-47 2 55 1-70 0 7 1-108 2 5 1 119 1-1 1-77" stroke="#542788"/>
<path d="M35 306l1 92 1-18 1-51 1 4 1 105 1-86 1 112 1 19 1-44 0-19 2-103 0-8 2 120 1-93 1 112 1-12 1-99 0 87 2-106 1 31 0 104 2-5 1 38 1 6 0-35 1-24 2-135 1 33 1-108 1 24 1 59 1-96 1 134 0 9 1 73 3-11 0-75 0 45 2-89 1-6 0 145 1-51 2-189 0 95 2 177 0 3 2 41 0 4 1-49 1 4 2-183 1 126 1-87 1-47 0 130 2-138 1-136 1 108 1 114 0-43 2 125 1 51 1-29 0 11 2-33 0 47 2-54 1-103 1 106 1-59 0 57 2-106 1-62 0 10 2 76 0-36 1 71 1-87 1 153 2-59 1-70 0 29 2-79 1 10 1 94 1-118 1 145 1 11 1-77 1 60 1-107 1 11 1 106 1-166 1 125 1-140 1 191 1-59 1 58 0-75 1 116 2-207 1 160 0-20 1 78 1-40 1 53 2-117 1 110 1 37 1-18 0 28 2-55 1 37 1-57 1-25 1 49 1-26 1 33 0-12 1-38 1 24 2-74 0 37 2 57 0-8 2-175 1-1 1 169 0 7 1-89 1-46 1 111 1-39 1-182 2 143 1-96 0-18 2 195 0-8 2-115 0 48 1-66 2 154 1-108 1 3 1 68 1-143 0 165 1-4 2-103 1-22 1 103 1-66 1 70 1-3 1-104 1 130 1-124 0-60 2 155 0 7 1 60 1 7 2 15 1-34 1 22 0 17 2-34 0 29 2-67 0 4 2-168 0 44 2 113 0 50 2-109 1-8 1-67 0-6 2 107 1-53 1 86 0-16 1-112 1 118 2-186 0 43 2 165 1-81 1 74 0-27 1-122 1 63 2 123 0-14 2-66 1-86 1 95 0-26 1-131 1 161 1 66 1-18 2-138 0-5 2 164 1 6 1-78 1-44 1 94 1-30 1 31 0 0 2-123 0 31 2-89 0 50 2 74 0-63 0 97 2-97 1-164 2 188 0-74 2 17 0-125 1-22 1 190 1 11 1-113 1 106 1 89 1-90 2 94 0-85 1 103 2-74 0 53 1-12 1 43 1-67 1-146 1 17 2 117 0-16 2-143 0 74 2 110 0-51 1 85 1-10 2 54 0 7 1-22 1-5 2-55 0-28 2-87 0 63 1 81 2-87 1 113 1 17 1-23 1 19 1-59 1 29 1-116 0 61 1-123 2 55 1 54 1-68 1 100 0-30 1 81 2 14 1-41 0-16 2-111 0 98 1-141 1-36 1 83 1-69 1 102 1-47 0 145 2-114 1 104 1-61 1-113 1 106 1-161 1 76 1 166 1 2 1 47 1-36 1-49 1 10 1-75 1 82 2-78 0 51 1-70 2-22 0 116 2-116 1 147 1-83 0 81 1-32 1-93 1 106 1-108 1 104 1-154 2 151 1-70 0 17 2-90 0-53 1 169 1-114 1 76 1 32 2 70 0 14 1-66 1 13 1 32 1 12 1 24 1-4 2-84 0-106 1 99 1-19 1 63 1-39 1-115 1 4 1 157 1-50 2 100 0-23 1-63 1 19 1-188 1 160 2-176 0 8 1 77 1-9 1 128 1-24 1-59 1 48 1-41 1-80 1 67 1 8 0 78 2-69 1 114 1-7 1-108 1 84 1-134 1 84 1-88 1 63 1-74 2 121 0 27 1-28 1-142 1-4 1 105 1-31 1 89 1-90 1 91 1-23 2 65 1 1 0 23 1 0 0-18 2 21 2-99 0 38 1-71 1 71 1-99 1 109 1-85 1 60 1-137 1-75 1 218 1-93 2-102 0 58 1 140 1 17 1-19 1 1 2-59 0-44 1 129 1-105 1 85 1-1 2-147 0 17 1 122 1-33 1-147 1-62 1 137 1-65 1 187 1-2 1-128 1 45 2-142 0 42 1 87 1-48 1 131 1 23 1-39 1-22 1-94 1 50 0-69 2-19 1 97 1 39 1-109 1-15 1 81 2-131 0 85 2-7 0 103 1-60 1 119 1-6 1-113 1-15 1 71 1-3 1-130 1 42 1 142 1-21 1 29 1-40 1 50 1-135 1 133 1-20 1-135 1 9 1 116 2 32 0-44 2 9 0-51 1-25 1-76 1-3 0 86 2 54 1-130 1-13 1 80 2-95 0 134 1-62 1-149 1 122 0 71 2-162 1 209 1 34 1-48 1 12 1 50 1-51 1 54 2-46 0 25 1-33 0 38 2-40 1 74 1-10 1-60 1 36 1-127 1 46 1 70 1 28 1-11 1 4 1 19 1-7 1-48 1 26 1-57 1 42 1-53 2-67 0 102 1 26 1-96 1 75 1-129 2 89 0-72 1-19 1 114 2 20 0-55 1-18 1 56 1 37 1-87 1 41 1-128 2 79 0-268 1 258 1-139 1 109 0 87 2-51 1 100 1 19 1-113 1 26 1-130 1 72 1 97 1 39 1-39 1-6 0-96 1 107 2-139 1-101 1 168 1-20 1 102 0-28 1-158 2-135 1 318 1-2 1-102 0-43 2 117 1-38 1-161 1 229 0-73 3-37 0 96 1 16 1-171 1-21 0 158 2-21 1-73 1-101 1 91 1 18 1-76 0-4 2 202 1 17 1-117 0-3 2 80 1 7 1-185 1 64 1 87 2 42 0 28 1 6 1-94 1 81 1-39 0-53 1 110 2-11 1-87 1 44 1-70 0 6 1-87 1 16 2 151 1 32 0-33 2 23 1 39 1 15 1-76 1 13 1-51 0-84 2 130 1-16 1 42 1-16 1-162 0 66 2 102 0-39 2 57 1-362 0 363 2-168 1 56 0-5 1 106 2-52 1 56 0-9 2-204 0 29 1 147 2-13 1 32 0 21 2-59 1 22 1-94 1-47 0 107 3-104 0 44 1 17 1 51 1-145 1 98 1-108 1 107 0 13 2-122 1-10 1 119 0 2 2 99 0 5 2 51 1-30 1 13 0-14 1-40 2-53 1 83 0 8 2-120 1-34 0 88 2-183 1 173 1 30 1-142 1 51 1-149 1 5 0 62" stroke="#f1a340"/>
</g>
<path d="M1604.85 946.8V1225.3" stroke="#222222" stroke-width="4.3" fill="none"/>
<path d="M1604.85 1225.3H1979.4499999999998" stroke="#222222" stroke-width="8.2" fill="none"/>
<path d="M1621.9 1225.3v10.8M1690.0 1225.3v10.8M1758.1 1225.3v10.8M1826.2 1225.3v10.8M1894.3 1225.3v10.8M1962.4 1225.3v10.8" stroke="#333333" stroke-width="4.3" fill="none"/>
<path d="M1593.3 1219.1h11.5M1593.3 1154.1h11.5M1593.3 1089.2h11.5M1593.3 1024.2h11.5M1593.3 959.3h11.5" stroke="#333333" stroke-width="4.1" fill="none"/>
<text transform="translate(1583.8,1231.5) scale(1.035,1)" text-anchor="end" font-size="35.6" fill="#4d4d4d">0.00</text>
<text transform="translate(1583.8,1166.5) scale(1.035,1)" text-anchor="end" font-size="35.6" fill="#4d4d4d">0.25</text>
<text transform="translate(1583.8,1101.6) scale(1.035,1)" text-anchor="end" font-size="35.6" fill="#4d4d4d">0.50</text>
<text transform="translate(1583.8,1036.6) scale(1.035,1)" text-anchor="end" font-size="35.6" fill="#4d4d4d">0.75</text>
<text transform="translate(1583.8,971.7) scale(1.035,1)" text-anchor="end" font-size="35.6" fill="#4d4d4d">1.00</text>
<text transform="translate(1621.9,1272.1) scale(1.035,1)" text-anchor="middle" font-size="35.6" fill="#4d4d4d">2500</text>
<text transform="translate(1690.0,1272.1) scale(1.035,1)" text-anchor="middle" font-size="35.6" fill="#4d4d4d">3000</text>
<text transform="translate(1758.1,1272.1) scale(1.035,1)" text-anchor="middle" font-size="35.6" fill="#4d4d4d">3500</text>
<text transform="translate(1826.2,1272.1) scale(1.035,1)" text-anchor="middle" font-size="35.6" fill="#4d4d4d">4000</text>
<text transform="translate(1894.3,1272.1) scale(1.035,1)" text-anchor="middle" font-size="35.6" fill="#4d4d4d">4500</text>
<text transform="translate(1962.4,1272.1) scale(1.035,1)" text-anchor="middle" font-size="35.6" fill="#4d4d4d">5000</text>
<text transform="translate(1791.6,924.0) scale(1.035,1)" text-anchor="middle" font-size="35.6" fill="#000" font-weight="bold">sigma[12]</text>
<text transform="translate(2047.5,520.1) scale(0.99,1)" text-anchor="start" font-size="46.1" fill="#000">chain</text>
<path d="M2055.2 584H2113" stroke="#e66101" stroke-width="4.5" fill="none"/>
<text transform="translate(2142.5,597.0) scale(1.035,1)" text-anchor="start" font-size="35.6" fill="#000">1</text>
<path d="M2055.2 656H2113" stroke="#998ec3" stroke-width="4.5" fill="none"/>
<text transform="translate(2142.5,669.0) scale(1.035,1)" text-anchor="start" font-size="35.6" fill="#000">2</text>
<path d="M2055.2 728H2113" stroke="#542788" stroke-width="4.5" fill="none"/>
<text transform="translate(2142.5,741.0) scale(1.035,1)" text-anchor="start" font-size="35.6" fill="#000">3</text>
<path d="M2055.2 800H2113" stroke="#f1a340" stroke-width="4.5" fill="none"/>
<text transform="translate(2142.5,813.0) scale(1.035,1)" text-anchor="start" font-size="35.6" fill="#000">4</text>
</svg>
</body></html>
